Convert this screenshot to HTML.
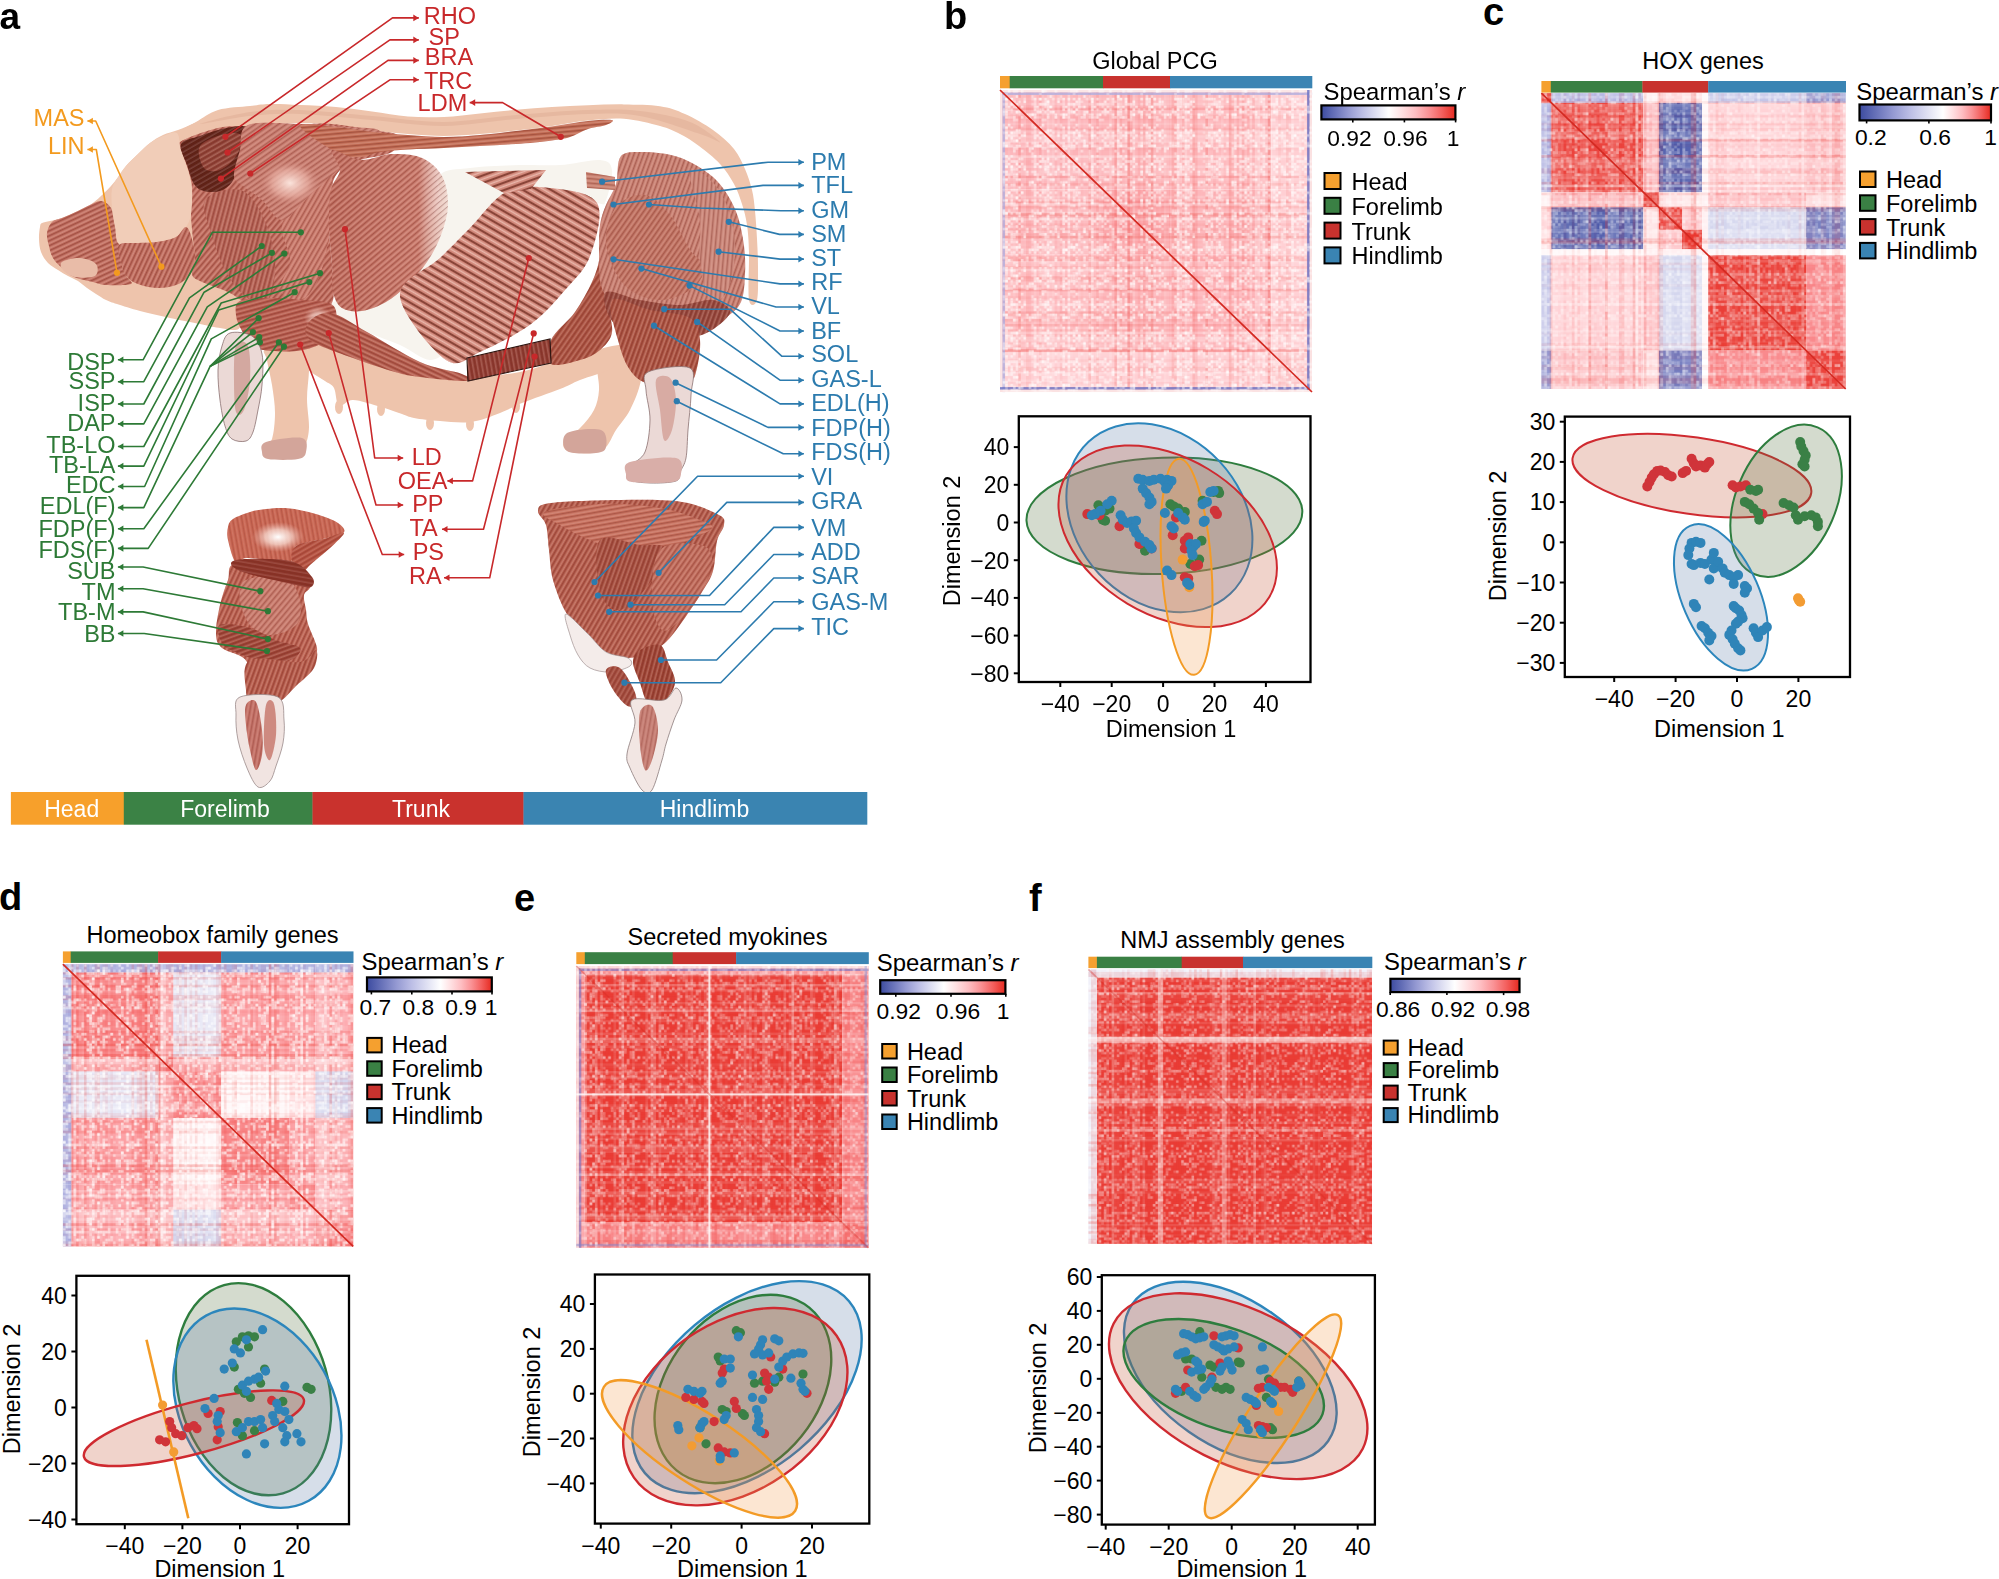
<!DOCTYPE html><html><head><meta charset="utf-8"><title>Figure</title><style>html,body{margin:0;padding:0;background:#fff;}body{width:1999px;height:1579px;overflow:hidden;}svg{display:block;font-family:"Liberation Sans",Arial,Helvetica,sans-serif;}</style></head><body>
<svg xmlns="http://www.w3.org/2000/svg" width="1999" height="1579" viewBox="0 0 1999 1579">
<defs><linearGradient id="cbar" x1="0" x2="1" y1="0" y2="0"><stop offset="0.000" stop-color="#3c4ba0"/><stop offset="0.101" stop-color="#6872b9"/><stop offset="0.201" stop-color="#9499d2"/><stop offset="0.302" stop-color="#bbbde5"/><stop offset="0.402" stop-color="#dddef2"/><stop offset="0.503" stop-color="#ffffff"/><stop offset="0.602" stop-color="#ffe0e2"/><stop offset="0.702" stop-color="#febec2"/><stop offset="0.801" stop-color="#fa9295"/><stop offset="0.901" stop-color="#f35f5d"/><stop offset="1.000" stop-color="#e62a20"/></linearGradient><linearGradient id="cbarc" x1="0" x2="1" y1="0" y2="0"><stop offset="0.000" stop-color="#3c4ba0"/><stop offset="0.127" stop-color="#6872b9"/><stop offset="0.254" stop-color="#9499d2"/><stop offset="0.381" stop-color="#bbbde5"/><stop offset="0.508" stop-color="#dddef2"/><stop offset="0.635" stop-color="#ffffff"/><stop offset="0.708" stop-color="#ffe0e2"/><stop offset="0.781" stop-color="#febec2"/><stop offset="0.854" stop-color="#fa9295"/><stop offset="0.927" stop-color="#f35f5d"/><stop offset="1.000" stop-color="#e62a20"/></linearGradient><linearGradient id="cbard" x1="0" x2="1" y1="0" y2="0"><stop offset="0.000" stop-color="#3c4ba0"/><stop offset="0.118" stop-color="#6872b9"/><stop offset="0.236" stop-color="#9499d2"/><stop offset="0.354" stop-color="#bbbde5"/><stop offset="0.472" stop-color="#dddef2"/><stop offset="0.590" stop-color="#ffffff"/><stop offset="0.672" stop-color="#ffe0e2"/><stop offset="0.754" stop-color="#febec2"/><stop offset="0.836" stop-color="#fa9295"/><stop offset="0.918" stop-color="#f35f5d"/><stop offset="1.000" stop-color="#e62a20"/></linearGradient><linearGradient id="cbare" x1="0" x2="1" y1="0" y2="0"><stop offset="0.000" stop-color="#3c4ba0"/><stop offset="0.102" stop-color="#6872b9"/><stop offset="0.203" stop-color="#9499d2"/><stop offset="0.305" stop-color="#bbbde5"/><stop offset="0.406" stop-color="#dddef2"/><stop offset="0.508" stop-color="#ffffff"/><stop offset="0.606" stop-color="#ffe0e2"/><stop offset="0.705" stop-color="#febec2"/><stop offset="0.803" stop-color="#fa9295"/><stop offset="0.902" stop-color="#f35f5d"/><stop offset="1.000" stop-color="#e62a20"/></linearGradient><linearGradient id="cbarf" x1="0" x2="1" y1="0" y2="0"><stop offset="0.000" stop-color="#3c4ba0"/><stop offset="0.100" stop-color="#6872b9"/><stop offset="0.199" stop-color="#9499d2"/><stop offset="0.299" stop-color="#bbbde5"/><stop offset="0.398" stop-color="#dddef2"/><stop offset="0.498" stop-color="#ffffff"/><stop offset="0.598" stop-color="#ffe0e2"/><stop offset="0.699" stop-color="#febec2"/><stop offset="0.799" stop-color="#fa9295"/><stop offset="0.900" stop-color="#f35f5d"/><stop offset="1.000" stop-color="#e62a20"/></linearGradient><filter id="spk" x="0" y="0" width="100%" height="100%" color-interpolation-filters="sRGB"><feTurbulence type="fractalNoise" baseFrequency="0.42" numOctaves="1" seed="11" result="n"/><feColorMatrix in="n" type="matrix" values="0 0 0 0 1  0 0 0 0 1  0 0 0 0 1  4.5 0 0 0 -2.3"/></filter><pattern id="f10" width="4.5" height="4.5" patternUnits="userSpaceOnUse" patternTransform="rotate(-90)"><rect x="0" y="0" width="4.5" height="1.1" fill="#6e231a" opacity="0.6"/><rect x="0" y="2.3" width="4.5" height="1.0" fill="#f6cabf" opacity="0.75"/></pattern>
<pattern id="g10" width="7" height="7" patternUnits="userSpaceOnUse" patternTransform="rotate(-90)"><rect x="0" y="0" width="7" height="2.0" fill="#5a1810" opacity="0.75"/><rect x="0" y="3.6" width="7" height="1.6" fill="#f8d2c8" opacity="0.8"/></pattern>
<pattern id="f15" width="4.5" height="4.5" patternUnits="userSpaceOnUse" patternTransform="rotate(-85)"><rect x="0" y="0" width="4.5" height="1.1" fill="#6e231a" opacity="0.6"/><rect x="0" y="2.3" width="4.5" height="1.0" fill="#f6cabf" opacity="0.75"/></pattern>
<pattern id="g15" width="7" height="7" patternUnits="userSpaceOnUse" patternTransform="rotate(-85)"><rect x="0" y="0" width="7" height="2.0" fill="#5a1810" opacity="0.75"/><rect x="0" y="3.6" width="7" height="1.6" fill="#f8d2c8" opacity="0.8"/></pattern>
<pattern id="f20" width="4.5" height="4.5" patternUnits="userSpaceOnUse" patternTransform="rotate(-80)"><rect x="0" y="0" width="4.5" height="1.1" fill="#6e231a" opacity="0.6"/><rect x="0" y="2.3" width="4.5" height="1.0" fill="#f6cabf" opacity="0.75"/></pattern>
<pattern id="g20" width="7" height="7" patternUnits="userSpaceOnUse" patternTransform="rotate(-80)"><rect x="0" y="0" width="7" height="2.0" fill="#5a1810" opacity="0.75"/><rect x="0" y="3.6" width="7" height="1.6" fill="#f8d2c8" opacity="0.8"/></pattern>
<pattern id="f25" width="4.5" height="4.5" patternUnits="userSpaceOnUse" patternTransform="rotate(-75)"><rect x="0" y="0" width="4.5" height="1.1" fill="#6e231a" opacity="0.6"/><rect x="0" y="2.3" width="4.5" height="1.0" fill="#f6cabf" opacity="0.75"/></pattern>
<pattern id="g25" width="7" height="7" patternUnits="userSpaceOnUse" patternTransform="rotate(-75)"><rect x="0" y="0" width="7" height="2.0" fill="#5a1810" opacity="0.75"/><rect x="0" y="3.6" width="7" height="1.6" fill="#f8d2c8" opacity="0.8"/></pattern>
<pattern id="f30" width="4.5" height="4.5" patternUnits="userSpaceOnUse" patternTransform="rotate(-70)"><rect x="0" y="0" width="4.5" height="1.1" fill="#6e231a" opacity="0.6"/><rect x="0" y="2.3" width="4.5" height="1.0" fill="#f6cabf" opacity="0.75"/></pattern>
<pattern id="g30" width="7" height="7" patternUnits="userSpaceOnUse" patternTransform="rotate(-70)"><rect x="0" y="0" width="7" height="2.0" fill="#5a1810" opacity="0.75"/><rect x="0" y="3.6" width="7" height="1.6" fill="#f8d2c8" opacity="0.8"/></pattern>
<pattern id="f35" width="4.5" height="4.5" patternUnits="userSpaceOnUse" patternTransform="rotate(-65)"><rect x="0" y="0" width="4.5" height="1.1" fill="#6e231a" opacity="0.6"/><rect x="0" y="2.3" width="4.5" height="1.0" fill="#f6cabf" opacity="0.75"/></pattern>
<pattern id="g35" width="7" height="7" patternUnits="userSpaceOnUse" patternTransform="rotate(-65)"><rect x="0" y="0" width="7" height="2.0" fill="#5a1810" opacity="0.75"/><rect x="0" y="3.6" width="7" height="1.6" fill="#f8d2c8" opacity="0.8"/></pattern>
<pattern id="f40" width="4.5" height="4.5" patternUnits="userSpaceOnUse" patternTransform="rotate(-60)"><rect x="0" y="0" width="4.5" height="1.1" fill="#6e231a" opacity="0.6"/><rect x="0" y="2.3" width="4.5" height="1.0" fill="#f6cabf" opacity="0.75"/></pattern>
<pattern id="g40" width="7" height="7" patternUnits="userSpaceOnUse" patternTransform="rotate(-60)"><rect x="0" y="0" width="7" height="2.0" fill="#5a1810" opacity="0.75"/><rect x="0" y="3.6" width="7" height="1.6" fill="#f8d2c8" opacity="0.8"/></pattern>
<pattern id="f45" width="4.5" height="4.5" patternUnits="userSpaceOnUse" patternTransform="rotate(-55)"><rect x="0" y="0" width="4.5" height="1.1" fill="#6e231a" opacity="0.6"/><rect x="0" y="2.3" width="4.5" height="1.0" fill="#f6cabf" opacity="0.75"/></pattern>
<pattern id="g45" width="7" height="7" patternUnits="userSpaceOnUse" patternTransform="rotate(-55)"><rect x="0" y="0" width="7" height="2.0" fill="#5a1810" opacity="0.75"/><rect x="0" y="3.6" width="7" height="1.6" fill="#f8d2c8" opacity="0.8"/></pattern>
<pattern id="f50" width="4.5" height="4.5" patternUnits="userSpaceOnUse" patternTransform="rotate(-50)"><rect x="0" y="0" width="4.5" height="1.1" fill="#6e231a" opacity="0.6"/><rect x="0" y="2.3" width="4.5" height="1.0" fill="#f6cabf" opacity="0.75"/></pattern>
<pattern id="g50" width="7" height="7" patternUnits="userSpaceOnUse" patternTransform="rotate(-50)"><rect x="0" y="0" width="7" height="2.0" fill="#5a1810" opacity="0.75"/><rect x="0" y="3.6" width="7" height="1.6" fill="#f8d2c8" opacity="0.8"/></pattern>
<pattern id="f55" width="4.5" height="4.5" patternUnits="userSpaceOnUse" patternTransform="rotate(-45)"><rect x="0" y="0" width="4.5" height="1.1" fill="#6e231a" opacity="0.6"/><rect x="0" y="2.3" width="4.5" height="1.0" fill="#f6cabf" opacity="0.75"/></pattern>
<pattern id="g55" width="7" height="7" patternUnits="userSpaceOnUse" patternTransform="rotate(-45)"><rect x="0" y="0" width="7" height="2.0" fill="#5a1810" opacity="0.75"/><rect x="0" y="3.6" width="7" height="1.6" fill="#f8d2c8" opacity="0.8"/></pattern>
<pattern id="f60" width="4.5" height="4.5" patternUnits="userSpaceOnUse" patternTransform="rotate(-40)"><rect x="0" y="0" width="4.5" height="1.1" fill="#6e231a" opacity="0.6"/><rect x="0" y="2.3" width="4.5" height="1.0" fill="#f6cabf" opacity="0.75"/></pattern>
<pattern id="g60" width="7" height="7" patternUnits="userSpaceOnUse" patternTransform="rotate(-40)"><rect x="0" y="0" width="7" height="2.0" fill="#5a1810" opacity="0.75"/><rect x="0" y="3.6" width="7" height="1.6" fill="#f8d2c8" opacity="0.8"/></pattern>
<pattern id="f65" width="4.5" height="4.5" patternUnits="userSpaceOnUse" patternTransform="rotate(-35)"><rect x="0" y="0" width="4.5" height="1.1" fill="#6e231a" opacity="0.6"/><rect x="0" y="2.3" width="4.5" height="1.0" fill="#f6cabf" opacity="0.75"/></pattern>
<pattern id="g65" width="7" height="7" patternUnits="userSpaceOnUse" patternTransform="rotate(-35)"><rect x="0" y="0" width="7" height="2.0" fill="#5a1810" opacity="0.75"/><rect x="0" y="3.6" width="7" height="1.6" fill="#f8d2c8" opacity="0.8"/></pattern>
<pattern id="f70" width="4.5" height="4.5" patternUnits="userSpaceOnUse" patternTransform="rotate(-30)"><rect x="0" y="0" width="4.5" height="1.1" fill="#6e231a" opacity="0.6"/><rect x="0" y="2.3" width="4.5" height="1.0" fill="#f6cabf" opacity="0.75"/></pattern>
<pattern id="g70" width="7" height="7" patternUnits="userSpaceOnUse" patternTransform="rotate(-30)"><rect x="0" y="0" width="7" height="2.0" fill="#5a1810" opacity="0.75"/><rect x="0" y="3.6" width="7" height="1.6" fill="#f8d2c8" opacity="0.8"/></pattern>
<pattern id="f75" width="4.5" height="4.5" patternUnits="userSpaceOnUse" patternTransform="rotate(-25)"><rect x="0" y="0" width="4.5" height="1.1" fill="#6e231a" opacity="0.6"/><rect x="0" y="2.3" width="4.5" height="1.0" fill="#f6cabf" opacity="0.75"/></pattern>
<pattern id="g75" width="7" height="7" patternUnits="userSpaceOnUse" patternTransform="rotate(-25)"><rect x="0" y="0" width="7" height="2.0" fill="#5a1810" opacity="0.75"/><rect x="0" y="3.6" width="7" height="1.6" fill="#f8d2c8" opacity="0.8"/></pattern>
<pattern id="f80" width="4.5" height="4.5" patternUnits="userSpaceOnUse" patternTransform="rotate(-20)"><rect x="0" y="0" width="4.5" height="1.1" fill="#6e231a" opacity="0.6"/><rect x="0" y="2.3" width="4.5" height="1.0" fill="#f6cabf" opacity="0.75"/></pattern>
<pattern id="g80" width="7" height="7" patternUnits="userSpaceOnUse" patternTransform="rotate(-20)"><rect x="0" y="0" width="7" height="2.0" fill="#5a1810" opacity="0.75"/><rect x="0" y="3.6" width="7" height="1.6" fill="#f8d2c8" opacity="0.8"/></pattern>
<pattern id="f85" width="4.5" height="4.5" patternUnits="userSpaceOnUse" patternTransform="rotate(-15)"><rect x="0" y="0" width="4.5" height="1.1" fill="#6e231a" opacity="0.6"/><rect x="0" y="2.3" width="4.5" height="1.0" fill="#f6cabf" opacity="0.75"/></pattern>
<pattern id="g85" width="7" height="7" patternUnits="userSpaceOnUse" patternTransform="rotate(-15)"><rect x="0" y="0" width="7" height="2.0" fill="#5a1810" opacity="0.75"/><rect x="0" y="3.6" width="7" height="1.6" fill="#f8d2c8" opacity="0.8"/></pattern>
<pattern id="f90" width="4.5" height="4.5" patternUnits="userSpaceOnUse" patternTransform="rotate(-10)"><rect x="0" y="0" width="4.5" height="1.1" fill="#6e231a" opacity="0.6"/><rect x="0" y="2.3" width="4.5" height="1.0" fill="#f6cabf" opacity="0.75"/></pattern>
<pattern id="g90" width="7" height="7" patternUnits="userSpaceOnUse" patternTransform="rotate(-10)"><rect x="0" y="0" width="7" height="2.0" fill="#5a1810" opacity="0.75"/><rect x="0" y="3.6" width="7" height="1.6" fill="#f8d2c8" opacity="0.8"/></pattern>
<pattern id="f95" width="4.5" height="4.5" patternUnits="userSpaceOnUse" patternTransform="rotate(-5)"><rect x="0" y="0" width="4.5" height="1.1" fill="#6e231a" opacity="0.6"/><rect x="0" y="2.3" width="4.5" height="1.0" fill="#f6cabf" opacity="0.75"/></pattern>
<pattern id="g95" width="7" height="7" patternUnits="userSpaceOnUse" patternTransform="rotate(-5)"><rect x="0" y="0" width="7" height="2.0" fill="#5a1810" opacity="0.75"/><rect x="0" y="3.6" width="7" height="1.6" fill="#f8d2c8" opacity="0.8"/></pattern>
<pattern id="f100" width="4.5" height="4.5" patternUnits="userSpaceOnUse" patternTransform="rotate(0)"><rect x="0" y="0" width="4.5" height="1.1" fill="#6e231a" opacity="0.6"/><rect x="0" y="2.3" width="4.5" height="1.0" fill="#f6cabf" opacity="0.75"/></pattern>
<pattern id="g100" width="7" height="7" patternUnits="userSpaceOnUse" patternTransform="rotate(0)"><rect x="0" y="0" width="7" height="2.0" fill="#5a1810" opacity="0.75"/><rect x="0" y="3.6" width="7" height="1.6" fill="#f8d2c8" opacity="0.8"/></pattern>
<pattern id="f105" width="4.5" height="4.5" patternUnits="userSpaceOnUse" patternTransform="rotate(5)"><rect x="0" y="0" width="4.5" height="1.1" fill="#6e231a" opacity="0.6"/><rect x="0" y="2.3" width="4.5" height="1.0" fill="#f6cabf" opacity="0.75"/></pattern>
<pattern id="g105" width="7" height="7" patternUnits="userSpaceOnUse" patternTransform="rotate(5)"><rect x="0" y="0" width="7" height="2.0" fill="#5a1810" opacity="0.75"/><rect x="0" y="3.6" width="7" height="1.6" fill="#f8d2c8" opacity="0.8"/></pattern>
<pattern id="f110" width="4.5" height="4.5" patternUnits="userSpaceOnUse" patternTransform="rotate(10)"><rect x="0" y="0" width="4.5" height="1.1" fill="#6e231a" opacity="0.6"/><rect x="0" y="2.3" width="4.5" height="1.0" fill="#f6cabf" opacity="0.75"/></pattern>
<pattern id="g110" width="7" height="7" patternUnits="userSpaceOnUse" patternTransform="rotate(10)"><rect x="0" y="0" width="7" height="2.0" fill="#5a1810" opacity="0.75"/><rect x="0" y="3.6" width="7" height="1.6" fill="#f8d2c8" opacity="0.8"/></pattern>
<pattern id="f115" width="4.5" height="4.5" patternUnits="userSpaceOnUse" patternTransform="rotate(15)"><rect x="0" y="0" width="4.5" height="1.1" fill="#6e231a" opacity="0.6"/><rect x="0" y="2.3" width="4.5" height="1.0" fill="#f6cabf" opacity="0.75"/></pattern>
<pattern id="g115" width="7" height="7" patternUnits="userSpaceOnUse" patternTransform="rotate(15)"><rect x="0" y="0" width="7" height="2.0" fill="#5a1810" opacity="0.75"/><rect x="0" y="3.6" width="7" height="1.6" fill="#f8d2c8" opacity="0.8"/></pattern>
<pattern id="f120" width="4.5" height="4.5" patternUnits="userSpaceOnUse" patternTransform="rotate(20)"><rect x="0" y="0" width="4.5" height="1.1" fill="#6e231a" opacity="0.6"/><rect x="0" y="2.3" width="4.5" height="1.0" fill="#f6cabf" opacity="0.75"/></pattern>
<pattern id="g120" width="7" height="7" patternUnits="userSpaceOnUse" patternTransform="rotate(20)"><rect x="0" y="0" width="7" height="2.0" fill="#5a1810" opacity="0.75"/><rect x="0" y="3.6" width="7" height="1.6" fill="#f8d2c8" opacity="0.8"/></pattern>
<pattern id="f125" width="4.5" height="4.5" patternUnits="userSpaceOnUse" patternTransform="rotate(25)"><rect x="0" y="0" width="4.5" height="1.1" fill="#6e231a" opacity="0.6"/><rect x="0" y="2.3" width="4.5" height="1.0" fill="#f6cabf" opacity="0.75"/></pattern>
<pattern id="g125" width="7" height="7" patternUnits="userSpaceOnUse" patternTransform="rotate(25)"><rect x="0" y="0" width="7" height="2.0" fill="#5a1810" opacity="0.75"/><rect x="0" y="3.6" width="7" height="1.6" fill="#f8d2c8" opacity="0.8"/></pattern>
<pattern id="f130" width="4.5" height="4.5" patternUnits="userSpaceOnUse" patternTransform="rotate(30)"><rect x="0" y="0" width="4.5" height="1.1" fill="#6e231a" opacity="0.6"/><rect x="0" y="2.3" width="4.5" height="1.0" fill="#f6cabf" opacity="0.75"/></pattern>
<pattern id="g130" width="7" height="7" patternUnits="userSpaceOnUse" patternTransform="rotate(30)"><rect x="0" y="0" width="7" height="2.0" fill="#5a1810" opacity="0.75"/><rect x="0" y="3.6" width="7" height="1.6" fill="#f8d2c8" opacity="0.8"/></pattern>
<pattern id="f135" width="4.5" height="4.5" patternUnits="userSpaceOnUse" patternTransform="rotate(35)"><rect x="0" y="0" width="4.5" height="1.1" fill="#6e231a" opacity="0.6"/><rect x="0" y="2.3" width="4.5" height="1.0" fill="#f6cabf" opacity="0.75"/></pattern>
<pattern id="g135" width="7" height="7" patternUnits="userSpaceOnUse" patternTransform="rotate(35)"><rect x="0" y="0" width="7" height="2.0" fill="#5a1810" opacity="0.75"/><rect x="0" y="3.6" width="7" height="1.6" fill="#f8d2c8" opacity="0.8"/></pattern>
<pattern id="f140" width="4.5" height="4.5" patternUnits="userSpaceOnUse" patternTransform="rotate(40)"><rect x="0" y="0" width="4.5" height="1.1" fill="#6e231a" opacity="0.6"/><rect x="0" y="2.3" width="4.5" height="1.0" fill="#f6cabf" opacity="0.75"/></pattern>
<pattern id="g140" width="7" height="7" patternUnits="userSpaceOnUse" patternTransform="rotate(40)"><rect x="0" y="0" width="7" height="2.0" fill="#5a1810" opacity="0.75"/><rect x="0" y="3.6" width="7" height="1.6" fill="#f8d2c8" opacity="0.8"/></pattern>
<pattern id="f145" width="4.5" height="4.5" patternUnits="userSpaceOnUse" patternTransform="rotate(45)"><rect x="0" y="0" width="4.5" height="1.1" fill="#6e231a" opacity="0.6"/><rect x="0" y="2.3" width="4.5" height="1.0" fill="#f6cabf" opacity="0.75"/></pattern>
<pattern id="g145" width="7" height="7" patternUnits="userSpaceOnUse" patternTransform="rotate(45)"><rect x="0" y="0" width="7" height="2.0" fill="#5a1810" opacity="0.75"/><rect x="0" y="3.6" width="7" height="1.6" fill="#f8d2c8" opacity="0.8"/></pattern>
<pattern id="f150" width="4.5" height="4.5" patternUnits="userSpaceOnUse" patternTransform="rotate(50)"><rect x="0" y="0" width="4.5" height="1.1" fill="#6e231a" opacity="0.6"/><rect x="0" y="2.3" width="4.5" height="1.0" fill="#f6cabf" opacity="0.75"/></pattern>
<pattern id="g150" width="7" height="7" patternUnits="userSpaceOnUse" patternTransform="rotate(50)"><rect x="0" y="0" width="7" height="2.0" fill="#5a1810" opacity="0.75"/><rect x="0" y="3.6" width="7" height="1.6" fill="#f8d2c8" opacity="0.8"/></pattern>
<pattern id="f155" width="4.5" height="4.5" patternUnits="userSpaceOnUse" patternTransform="rotate(55)"><rect x="0" y="0" width="4.5" height="1.1" fill="#6e231a" opacity="0.6"/><rect x="0" y="2.3" width="4.5" height="1.0" fill="#f6cabf" opacity="0.75"/></pattern>
<pattern id="g155" width="7" height="7" patternUnits="userSpaceOnUse" patternTransform="rotate(55)"><rect x="0" y="0" width="7" height="2.0" fill="#5a1810" opacity="0.75"/><rect x="0" y="3.6" width="7" height="1.6" fill="#f8d2c8" opacity="0.8"/></pattern>
<pattern id="f160" width="4.5" height="4.5" patternUnits="userSpaceOnUse" patternTransform="rotate(60)"><rect x="0" y="0" width="4.5" height="1.1" fill="#6e231a" opacity="0.6"/><rect x="0" y="2.3" width="4.5" height="1.0" fill="#f6cabf" opacity="0.75"/></pattern>
<pattern id="g160" width="7" height="7" patternUnits="userSpaceOnUse" patternTransform="rotate(60)"><rect x="0" y="0" width="7" height="2.0" fill="#5a1810" opacity="0.75"/><rect x="0" y="3.6" width="7" height="1.6" fill="#f8d2c8" opacity="0.8"/></pattern>
<pattern id="f165" width="4.5" height="4.5" patternUnits="userSpaceOnUse" patternTransform="rotate(65)"><rect x="0" y="0" width="4.5" height="1.1" fill="#6e231a" opacity="0.6"/><rect x="0" y="2.3" width="4.5" height="1.0" fill="#f6cabf" opacity="0.75"/></pattern>
<pattern id="g165" width="7" height="7" patternUnits="userSpaceOnUse" patternTransform="rotate(65)"><rect x="0" y="0" width="7" height="2.0" fill="#5a1810" opacity="0.75"/><rect x="0" y="3.6" width="7" height="1.6" fill="#f8d2c8" opacity="0.8"/></pattern>
<pattern id="f170" width="4.5" height="4.5" patternUnits="userSpaceOnUse" patternTransform="rotate(70)"><rect x="0" y="0" width="4.5" height="1.1" fill="#6e231a" opacity="0.6"/><rect x="0" y="2.3" width="4.5" height="1.0" fill="#f6cabf" opacity="0.75"/></pattern>
<pattern id="g170" width="7" height="7" patternUnits="userSpaceOnUse" patternTransform="rotate(70)"><rect x="0" y="0" width="7" height="2.0" fill="#5a1810" opacity="0.75"/><rect x="0" y="3.6" width="7" height="1.6" fill="#f8d2c8" opacity="0.8"/></pattern>
<pattern id="f175" width="4.5" height="4.5" patternUnits="userSpaceOnUse" patternTransform="rotate(75)"><rect x="0" y="0" width="4.5" height="1.1" fill="#6e231a" opacity="0.6"/><rect x="0" y="2.3" width="4.5" height="1.0" fill="#f6cabf" opacity="0.75"/></pattern>
<pattern id="g175" width="7" height="7" patternUnits="userSpaceOnUse" patternTransform="rotate(75)"><rect x="0" y="0" width="7" height="2.0" fill="#5a1810" opacity="0.75"/><rect x="0" y="3.6" width="7" height="1.6" fill="#f8d2c8" opacity="0.8"/></pattern>
<pattern id="f180" width="4.5" height="4.5" patternUnits="userSpaceOnUse" patternTransform="rotate(80)"><rect x="0" y="0" width="4.5" height="1.1" fill="#6e231a" opacity="0.6"/><rect x="0" y="2.3" width="4.5" height="1.0" fill="#f6cabf" opacity="0.75"/></pattern>
<pattern id="g180" width="7" height="7" patternUnits="userSpaceOnUse" patternTransform="rotate(80)"><rect x="0" y="0" width="7" height="2.0" fill="#5a1810" opacity="0.75"/><rect x="0" y="3.6" width="7" height="1.6" fill="#f8d2c8" opacity="0.8"/></pattern>
<pattern id="f185" width="4.5" height="4.5" patternUnits="userSpaceOnUse" patternTransform="rotate(85)"><rect x="0" y="0" width="4.5" height="1.1" fill="#6e231a" opacity="0.6"/><rect x="0" y="2.3" width="4.5" height="1.0" fill="#f6cabf" opacity="0.75"/></pattern>
<pattern id="g185" width="7" height="7" patternUnits="userSpaceOnUse" patternTransform="rotate(85)"><rect x="0" y="0" width="7" height="2.0" fill="#5a1810" opacity="0.75"/><rect x="0" y="3.6" width="7" height="1.6" fill="#f8d2c8" opacity="0.8"/></pattern>
<pattern id="f190" width="4.5" height="4.5" patternUnits="userSpaceOnUse" patternTransform="rotate(90)"><rect x="0" y="0" width="4.5" height="1.1" fill="#6e231a" opacity="0.6"/><rect x="0" y="2.3" width="4.5" height="1.0" fill="#f6cabf" opacity="0.75"/></pattern>
<pattern id="g190" width="7" height="7" patternUnits="userSpaceOnUse" patternTransform="rotate(90)"><rect x="0" y="0" width="7" height="2.0" fill="#5a1810" opacity="0.75"/><rect x="0" y="3.6" width="7" height="1.6" fill="#f8d2c8" opacity="0.8"/></pattern>
<filter id="soft" x="-5%" y="-5%" width="110%" height="110%"><feGaussianBlur stdDeviation="0.6"/></filter>
<filter id="glow" x="-30%" y="-30%" width="160%" height="160%"><feGaussianBlur stdDeviation="4"/></filter>
<radialGradient id="fanw" cx="0.5" cy="0.5" r="0.5"><stop offset="0" stop-color="#ffffff"/><stop offset="0.5" stop-color="#f6d6cc" stop-opacity="0.8"/><stop offset="1" stop-color="#e8b0a4" stop-opacity="0"/></radialGradient>
<radialGradient id="fanp" cx="0.5" cy="0.5" r="0.5"><stop offset="0" stop-color="#fbe4dc"/><stop offset="0.6" stop-color="#eab2a6" stop-opacity="0.7"/><stop offset="1" stop-color="#d08a7e" stop-opacity="0"/></radialGradient>
<linearGradient id="ldfade" x1="0" x2="1" y1="0" y2="0"><stop offset="0" stop-color="#BE6A5C" stop-opacity="1"/><stop offset="0.75" stop-color="#C8786A" stop-opacity="1"/><stop offset="1" stop-color="#E9B8AE" stop-opacity="0.3"/></linearGradient></defs>
<rect x="0" y="0" width="1999" height="1579" fill="#fff"/>
<g filter="url(#soft)">
<path d="M267.0,349.0 C274.0,347.2 302.0,345.3 309.0,349.0 C316.0,352.7 309.3,362.7 309.0,371.0 C308.7,379.3 307.0,389.7 307.0,399.0 C307.0,408.3 309.2,419.5 309.0,427.0 C308.8,434.5 307.5,439.2 306.0,444.0 C304.5,448.8 303.7,453.5 300.0,456.0 C296.3,458.5 289.7,458.8 284.0,459.0 C278.3,459.2 269.3,459.0 266.0,457.0 C262.7,455.0 263.0,450.0 264.0,447.0 C265.0,444.0 270.2,444.7 272.0,439.0 C273.8,433.3 275.0,422.0 275.0,413.0 C275.0,404.0 273.3,393.8 272.0,385.0 C270.7,376.2 267.8,366.0 267.0,360.0 C266.2,354.0 260.0,350.8 267.0,349.0Z" fill="#EEC4AC"/>
<path d="M266.0,442.0 C272.7,439.7 295.3,436.3 302.0,438.0 C308.7,439.7 306.7,448.5 306.0,452.0 C305.3,455.5 304.3,457.8 298.0,459.0 C291.7,460.2 274.0,460.2 268.0,459.0 C262.0,457.8 262.3,454.8 262.0,452.0 C261.7,449.2 259.3,444.3 266.0,442.0Z" fill="#D3A59A"/>
<path d="M598.0,350.0 C605.5,346.3 634.8,341.0 642.0,346.0 C649.2,351.0 643.0,369.3 641.0,380.0 C639.0,390.7 634.2,401.7 630.0,410.0 C625.8,418.3 620.0,423.8 616.0,430.0 C612.0,436.2 610.0,443.2 606.0,447.0 C602.0,450.8 598.3,452.3 592.0,453.0 C585.7,453.7 572.7,453.0 568.0,451.0 C563.3,449.0 562.0,444.8 564.0,441.0 C566.0,437.2 575.0,433.2 580.0,428.0 C585.0,422.8 590.8,416.3 594.0,410.0 C597.2,403.7 598.5,397.0 599.0,390.0 C599.5,383.0 597.2,374.7 597.0,368.0 C596.8,361.3 590.5,353.7 598.0,350.0Z" fill="#EEC4AC"/>
<path d="M567.0,433.0 C572.7,429.5 594.5,427.7 601.0,430.0 C607.5,432.3 606.8,443.2 606.0,447.0 C605.2,450.8 602.5,452.3 596.0,453.0 C589.5,453.7 571.8,454.3 567.0,451.0 C562.2,447.7 561.3,436.5 567.0,433.0Z" fill="#D3A59A"/>
<path d="M290.0,334.0 C295.0,331.3 315.0,340.0 330.0,344.0 C345.0,348.0 365.0,354.0 380.0,358.0 C395.0,362.0 405.0,365.0 420.0,368.0 C435.0,371.0 453.3,375.3 470.0,376.0 C486.7,376.7 505.0,374.7 520.0,372.0 C535.0,369.3 546.7,363.7 560.0,360.0 C573.3,356.3 589.2,351.3 600.0,350.0 C610.8,348.7 623.0,349.0 625.0,352.0 C627.0,355.0 619.5,363.3 612.0,368.0 C604.5,372.7 588.7,376.5 580.0,380.0 C571.3,383.5 569.7,385.2 560.0,389.0 C550.3,392.8 532.0,399.0 522.0,403.0 C512.0,407.0 508.5,409.8 500.0,413.0 C491.5,416.2 481.0,420.7 471.0,422.0 C461.0,423.3 449.5,421.7 440.0,421.0 C430.5,420.3 420.3,419.2 414.0,418.0 C407.7,416.8 407.5,415.8 402.0,414.0 C396.5,412.2 389.2,409.3 381.0,407.0 C372.8,404.7 360.0,400.2 353.0,400.0 C346.0,399.8 342.2,408.0 339.0,406.0 C335.8,404.0 336.3,392.2 334.0,388.0 C331.7,383.8 328.8,383.7 325.0,381.0 C321.2,378.3 315.2,375.5 311.0,372.0 C306.8,368.5 303.5,366.3 300.0,360.0 C296.5,353.7 285.0,336.7 290.0,334.0Z" fill="#EEC4AC"/>
<ellipse cx="339" cy="407" rx="4" ry="7" fill="#EEC4AC"/>
<ellipse cx="381" cy="409" rx="4" ry="7" fill="#EEC4AC"/>
<ellipse cx="430" cy="423" rx="4" ry="7" fill="#EEC4AC"/>
<ellipse cx="470" cy="424" rx="4" ry="7" fill="#EEC4AC"/>
<ellipse cx="516" cy="406" rx="4" ry="7" fill="#EEC4AC"/>
<path d="M42.0,223.0 C43.7,222.0 46.7,221.8 50.0,221.0 C53.3,220.2 57.3,219.7 62.0,218.0 C66.7,216.3 73.3,213.2 78.0,211.0 C82.7,208.8 86.2,207.5 90.0,205.0 C93.8,202.5 97.5,199.2 101.0,196.0 C104.5,192.8 108.0,189.3 111.0,186.0 C114.0,182.7 116.5,179.3 119.0,176.0 C121.5,172.7 122.8,169.7 126.0,166.0 C129.2,162.3 134.0,157.8 138.0,154.0 C142.0,150.2 145.8,146.2 150.0,143.0 C154.2,139.8 158.3,137.2 163.0,135.0 C167.7,132.8 172.7,132.0 178.0,130.0 C183.3,128.0 189.0,125.5 195.0,123.0 C201.0,120.5 208.2,117.0 214.0,115.0 C219.8,113.0 224.0,112.2 230.0,111.0 C236.0,109.8 244.7,108.7 250.0,108.0 C255.3,107.3 259.0,105.8 262.0,107.0 C265.0,108.2 267.0,99.5 268.0,115.0 C269.0,130.5 268.0,170.8 268.0,200.0 C268.0,229.2 269.0,272.5 268.0,290.0 C267.0,307.5 264.5,301.3 262.0,305.0 C259.5,308.7 256.3,308.7 253.0,312.0 C249.7,315.3 245.0,322.0 242.0,325.0 C239.0,328.0 239.7,329.7 235.0,330.0 C230.3,330.3 219.8,328.0 214.0,327.0 C208.2,326.0 207.3,325.5 200.0,324.0 C192.7,322.5 180.0,320.2 170.0,318.0 C160.0,315.8 148.8,313.3 140.0,311.0 C131.2,308.7 122.7,305.8 117.0,304.0 C111.3,302.2 109.5,301.7 106.0,300.0 C102.5,298.3 99.2,296.0 96.0,294.0 C92.8,292.0 90.0,290.2 87.0,288.0 C84.0,285.8 81.2,283.0 78.0,281.0 C74.8,279.0 71.3,277.8 68.0,276.0 C64.7,274.2 61.3,272.2 58.0,270.0 C54.7,267.8 50.8,266.0 48.0,263.0 C45.2,260.0 42.5,256.0 41.0,252.0 C39.5,248.0 39.2,243.2 39.0,239.0 C38.8,234.8 39.5,229.7 40.0,227.0 C40.5,224.3 40.3,224.0 42.0,223.0Z" fill="#EEC4AC"/>
<path d="M176.0,134.0 C177.0,131.0 189.0,126.0 196.0,122.0 C203.0,118.0 209.0,112.7 218.0,110.0 C227.0,107.3 241.3,107.0 250.0,106.0 C258.7,105.0 261.7,104.2 270.0,104.0 C278.3,103.8 289.0,104.5 300.0,105.0 C311.0,105.5 324.0,105.9 336.0,107.0 C348.0,108.1 360.0,110.0 372.0,111.6 C384.0,113.2 396.0,115.7 408.0,116.6 C420.0,117.5 432.0,117.5 444.0,117.0 C456.0,116.5 468.0,114.6 480.0,113.4 C492.0,112.2 504.0,110.9 516.0,109.8 C528.0,108.7 540.0,107.8 552.0,107.0 C564.0,106.2 576.0,105.7 588.0,105.3 C600.0,104.9 612.0,104.2 624.0,104.4 C636.0,104.6 649.8,104.6 660.0,106.2 C670.2,107.8 676.2,110.0 685.0,114.0 C693.8,118.0 704.8,124.2 713.0,130.0 C721.2,135.8 728.7,142.5 734.0,149.0 C739.3,155.5 742.0,162.2 745.0,169.0 C748.0,175.8 750.3,183.0 752.0,190.0 C753.7,197.0 754.2,202.8 755.0,211.0 C755.8,219.2 756.5,229.7 757.0,239.0 C757.5,248.3 758.0,256.8 758.0,267.0 C758.0,277.2 758.5,294.5 757.0,300.0 C755.5,305.5 750.3,307.8 749.0,300.0 C747.7,292.2 749.3,265.5 749.0,253.0 C748.7,240.5 748.2,233.2 747.0,225.0 C745.8,216.8 744.2,210.8 742.0,204.0 C739.8,197.2 737.7,190.7 734.0,184.0 C730.3,177.3 725.8,170.3 720.0,164.0 C714.2,157.7 705.7,151.0 699.0,146.0 C692.3,141.0 686.5,137.3 680.0,134.0 C673.5,130.7 669.3,128.5 660.0,126.0 C650.7,123.5 636.0,119.7 624.0,118.8 C612.0,117.9 600.0,119.4 588.0,120.6 C576.0,121.8 564.0,124.3 552.0,126.0 C540.0,127.7 528.0,129.2 516.0,130.5 C504.0,131.8 492.0,133.2 480.0,134.1 C468.0,135.0 456.0,135.9 444.0,135.9 C432.0,135.9 420.0,135.0 408.0,134.1 C396.0,133.2 384.0,132.0 372.0,130.5 C360.0,129.0 348.0,126.3 336.0,125.1 C324.0,123.9 314.3,123.3 300.0,123.3 C285.7,123.3 263.7,124.2 250.0,125.0 C236.3,125.8 228.0,125.5 218.0,128.0 C208.0,130.5 197.0,139.0 190.0,140.0 C183.0,141.0 175.0,137.0 176.0,134.0Z" fill="#EEC4AC"/>
<path d="M200.0,124.0 C200.0,123.3 233.3,114.3 250.0,112.0 C266.7,109.7 279.7,109.3 300.0,110.0 C320.3,110.7 348.0,114.0 372.0,116.0 C396.0,118.0 420.0,122.2 444.0,122.0 C468.0,121.8 492.0,117.0 516.0,115.0 C540.0,113.0 567.3,110.7 588.0,110.0 C608.7,109.3 623.0,109.0 640.0,111.0 C657.0,113.0 676.7,116.8 690.0,122.0 C703.3,127.2 718.3,140.0 720.0,142.0 C721.7,144.0 713.3,138.3 700.0,134.0 C686.7,129.7 658.7,119.3 640.0,116.0 C621.3,112.7 608.7,113.5 588.0,114.0 C567.3,114.5 540.0,117.0 516.0,119.0 C492.0,121.0 468.0,125.8 444.0,126.0 C420.0,126.2 396.0,122.0 372.0,120.0 C348.0,118.0 320.3,114.7 300.0,114.0 C279.7,113.3 266.7,114.3 250.0,116.0 C233.3,117.7 200.0,124.7 200.0,124.0Z" fill="#E6B8A0"/>
<path d="M440.0,175.0 C445.0,168.8 456.7,169.7 470.0,168.0 C483.3,166.3 505.0,165.5 520.0,165.0 C535.0,164.5 546.7,165.8 560.0,165.0 C573.3,164.2 591.3,159.2 600.0,160.0 C608.7,160.8 611.0,163.3 612.0,170.0 C613.0,176.7 608.5,194.5 606.0,200.0 C603.5,205.5 606.3,205.0 597.0,203.0 C587.7,201.0 565.2,189.8 550.0,188.0 C534.8,186.2 519.3,185.3 506.0,192.0 C492.7,198.7 481.0,217.0 470.0,228.0 C459.0,239.0 449.2,248.5 440.0,258.0 C430.8,267.5 421.7,278.7 415.0,285.0 C408.3,291.3 403.3,296.8 400.0,296.0 C396.7,295.2 391.7,289.3 395.0,280.0 C398.3,270.7 412.5,252.5 420.0,240.0 C427.5,227.5 436.7,215.8 440.0,205.0 C443.3,194.2 435.0,181.2 440.0,175.0Z" fill="#F7F4EE"/>
<path d="M338.0,300.0 C346.2,297.2 366.3,297.0 380.0,296.0 C393.7,295.0 410.0,293.3 420.0,294.0 C430.0,294.7 435.7,291.5 440.0,300.0 C444.3,308.5 447.7,335.0 446.0,345.0 C444.3,355.0 437.7,360.0 430.0,360.0 C422.3,360.0 410.5,349.7 400.0,345.0 C389.5,340.3 378.5,337.3 367.0,332.0 C355.5,326.7 335.8,318.3 331.0,313.0 C326.2,307.7 329.8,302.8 338.0,300.0Z" fill="#F7F4EE"/>
<path d="M180.0,142.0 C186.0,138.0 206.3,130.7 218.0,128.0 C229.7,125.3 235.3,126.7 250.0,126.0 C264.7,125.3 292.3,124.3 306.0,124.0 C319.7,123.7 319.7,122.8 332.0,124.0 C344.3,125.2 369.0,129.0 380.0,131.0 C391.0,133.0 396.0,132.5 398.0,136.0 C400.0,139.5 398.3,148.0 392.0,152.0 C385.7,156.0 368.7,157.0 360.0,160.0 C351.3,163.0 344.8,165.0 340.0,170.0 C335.2,175.0 332.8,180.5 331.0,190.0 C329.2,199.5 328.8,214.5 329.0,227.0 C329.2,239.5 331.3,252.8 332.0,265.0 C332.7,277.2 335.0,292.2 333.0,300.0 C331.0,307.8 325.5,309.0 320.0,312.0 C314.5,315.0 308.3,317.3 300.0,318.0 C291.7,318.7 277.8,317.8 270.0,316.0 C262.2,314.2 257.8,309.7 253.0,307.0 C248.2,304.3 245.2,302.5 241.0,300.0 C236.8,297.5 234.8,295.2 228.0,292.0 C221.2,288.8 206.0,284.0 200.0,281.0 C194.0,278.0 192.8,277.8 192.0,274.0 C191.2,270.2 194.8,263.8 195.0,258.0 C195.2,252.2 193.7,246.3 193.0,239.0 C192.3,231.7 191.2,222.3 191.0,214.0 C190.8,205.7 192.5,196.3 192.0,189.0 C191.5,181.7 189.7,176.2 188.0,170.0 C186.3,163.8 183.3,156.7 182.0,152.0 C180.7,147.3 174.0,146.0 180.0,142.0Z" fill="#BE6A5C"/><path d="M180.0,142.0 C186.0,138.0 206.3,130.7 218.0,128.0 C229.7,125.3 235.3,126.7 250.0,126.0 C264.7,125.3 292.3,124.3 306.0,124.0 C319.7,123.7 319.7,122.8 332.0,124.0 C344.3,125.2 369.0,129.0 380.0,131.0 C391.0,133.0 396.0,132.5 398.0,136.0 C400.0,139.5 398.3,148.0 392.0,152.0 C385.7,156.0 368.7,157.0 360.0,160.0 C351.3,163.0 344.8,165.0 340.0,170.0 C335.2,175.0 332.8,180.5 331.0,190.0 C329.2,199.5 328.8,214.5 329.0,227.0 C329.2,239.5 331.3,252.8 332.0,265.0 C332.7,277.2 335.0,292.2 333.0,300.0 C331.0,307.8 325.5,309.0 320.0,312.0 C314.5,315.0 308.3,317.3 300.0,318.0 C291.7,318.7 277.8,317.8 270.0,316.0 C262.2,314.2 257.8,309.7 253.0,307.0 C248.2,304.3 245.2,302.5 241.0,300.0 C236.8,297.5 234.8,295.2 228.0,292.0 C221.2,288.8 206.0,284.0 200.0,281.0 C194.0,278.0 192.8,277.8 192.0,274.0 C191.2,270.2 194.8,263.8 195.0,258.0 C195.2,252.2 193.7,246.3 193.0,239.0 C192.3,231.7 191.2,222.3 191.0,214.0 C190.8,205.7 192.5,196.3 192.0,189.0 C191.5,181.7 189.7,176.2 188.0,170.0 C186.3,163.8 183.3,156.7 182.0,152.0 C180.7,147.3 174.0,146.0 180.0,142.0Z" fill="url(#f50)" opacity="0.60"/>
<path d="M283.0,222.0 C288.0,208.7 311.8,187.8 320.0,180.0 C328.2,172.2 330.3,166.7 332.0,175.0 C333.7,183.3 332.3,212.5 330.0,230.0 C327.7,247.5 323.0,268.3 318.0,280.0 C313.0,291.7 306.3,298.3 300.0,300.0 C293.7,301.7 281.7,296.7 280.0,290.0 C278.3,283.3 289.5,271.3 290.0,260.0 C290.5,248.7 278.0,235.3 283.0,222.0Z" fill="#C8786A"/><path d="M283.0,222.0 C288.0,208.7 311.8,187.8 320.0,180.0 C328.2,172.2 330.3,166.7 332.0,175.0 C333.7,183.3 332.3,212.5 330.0,230.0 C327.7,247.5 323.0,268.3 318.0,280.0 C313.0,291.7 306.3,298.3 300.0,300.0 C293.7,301.7 281.7,296.7 280.0,290.0 C278.3,283.3 289.5,271.3 290.0,260.0 C290.5,248.7 278.0,235.3 283.0,222.0Z" fill="url(#f40)" opacity="0.55"/>
<path d="M205.0,200.0 C209.7,192.5 230.5,187.5 240.0,190.0 C249.5,192.5 256.2,203.3 262.0,215.0 C267.8,226.7 274.0,245.8 275.0,260.0 C276.0,274.2 273.0,294.0 268.0,300.0 C263.0,306.0 252.2,301.0 245.0,296.0 C237.8,291.0 230.5,280.2 225.0,270.0 C219.5,259.8 215.3,246.7 212.0,235.0 C208.7,223.3 200.3,207.5 205.0,200.0Z" fill="#B35F52"/><path d="M205.0,200.0 C209.7,192.5 230.5,187.5 240.0,190.0 C249.5,192.5 256.2,203.3 262.0,215.0 C267.8,226.7 274.0,245.8 275.0,260.0 C276.0,274.2 273.0,294.0 268.0,300.0 C263.0,306.0 252.2,301.0 245.0,296.0 C237.8,291.0 230.5,280.2 225.0,270.0 C219.5,259.8 215.3,246.7 212.0,235.0 C208.7,223.3 200.3,207.5 205.0,200.0Z" fill="url(#f25)" opacity="0.55"/>
<path d="M181.0,144.0 C183.2,139.2 193.2,138.5 200.0,136.0 C206.8,133.5 214.3,130.5 222.0,129.0 C229.7,127.5 242.7,124.3 246.0,127.0 C249.3,129.7 243.3,138.7 242.0,145.0 C240.7,151.3 239.7,158.8 238.0,165.0 C236.3,171.2 235.0,177.7 232.0,182.0 C229.0,186.3 224.7,189.5 220.0,191.0 C215.3,192.5 208.3,192.2 204.0,191.0 C199.7,189.8 196.8,188.3 194.0,184.0 C191.2,179.7 189.2,171.7 187.0,165.0 C184.8,158.3 178.8,148.8 181.0,144.0Z" fill="#5E2219"/><path d="M181.0,144.0 C183.2,139.2 193.2,138.5 200.0,136.0 C206.8,133.5 214.3,130.5 222.0,129.0 C229.7,127.5 242.7,124.3 246.0,127.0 C249.3,129.7 243.3,138.7 242.0,145.0 C240.7,151.3 239.7,158.8 238.0,165.0 C236.3,171.2 235.0,177.7 232.0,182.0 C229.0,186.3 224.7,189.5 220.0,191.0 C215.3,192.5 208.3,192.2 204.0,191.0 C199.7,189.8 196.8,188.3 194.0,184.0 C191.2,179.7 189.2,171.7 187.0,165.0 C184.8,158.3 178.8,148.8 181.0,144.0Z" fill="url(#f70)" opacity="0.35"/>
<path d="M200.0,146.0 C203.5,140.3 218.0,135.7 225.0,134.0 C232.0,132.3 240.2,132.3 242.0,136.0 C243.8,139.7 239.7,150.3 236.0,156.0 C232.3,161.7 225.3,168.0 220.0,170.0 C214.7,172.0 207.3,172.0 204.0,168.0 C200.7,164.0 196.5,151.7 200.0,146.0Z" fill="#8E4034"/><path d="M200.0,146.0 C203.5,140.3 218.0,135.7 225.0,134.0 C232.0,132.3 240.2,132.3 242.0,136.0 C243.8,139.7 239.7,150.3 236.0,156.0 C232.3,161.7 225.3,168.0 220.0,170.0 C214.7,172.0 207.3,172.0 204.0,168.0 C200.7,164.0 196.5,151.7 200.0,146.0Z" fill="url(#f70)" opacity="0.50"/>
<path d="M248.0,125.0 C258.0,120.7 283.8,123.7 300.0,124.0 C316.2,124.3 331.7,125.7 345.0,127.0 C358.3,128.3 379.2,126.5 380.0,132.0 C380.8,137.5 358.0,152.8 350.0,160.0 C342.0,167.2 339.5,168.3 332.0,175.0 C324.5,181.7 313.3,192.5 305.0,200.0 C296.7,207.5 289.2,220.0 282.0,220.0 C274.8,220.0 268.5,205.7 262.0,200.0 C255.5,194.3 247.7,190.0 243.0,186.0 C238.3,182.0 234.5,182.0 234.0,176.0 C233.5,170.0 237.7,158.5 240.0,150.0 C242.3,141.5 238.0,129.3 248.0,125.0Z" fill="#C77B6E"/><path d="M248.0,125.0 C258.0,120.7 283.8,123.7 300.0,124.0 C316.2,124.3 331.7,125.7 345.0,127.0 C358.3,128.3 379.2,126.5 380.0,132.0 C380.8,137.5 358.0,152.8 350.0,160.0 C342.0,167.2 339.5,168.3 332.0,175.0 C324.5,181.7 313.3,192.5 305.0,200.0 C296.7,207.5 289.2,220.0 282.0,220.0 C274.8,220.0 268.5,205.7 262.0,200.0 C255.5,194.3 247.7,190.0 243.0,186.0 C238.3,182.0 234.5,182.0 234.0,176.0 C233.5,170.0 237.7,158.5 240.0,150.0 C242.3,141.5 238.0,129.3 248.0,125.0Z" fill="url(#f65)" opacity="0.50"/>
<ellipse cx="290" cy="183" rx="30" ry="22" fill="url(#fanp)"/>
<path d="M47.0,233.0 C47.5,229.0 49.5,224.5 52.0,222.0 C54.5,219.5 57.7,219.8 62.0,218.0 C66.3,216.2 73.3,213.2 78.0,211.0 C82.7,208.8 86.2,206.7 90.0,205.0 C93.8,203.3 97.5,200.5 101.0,201.0 C104.5,201.5 108.5,203.7 111.0,208.0 C113.5,212.3 114.7,221.0 116.0,227.0 C117.3,233.0 118.2,238.2 119.0,244.0 C119.8,249.8 119.8,256.7 121.0,262.0 C122.2,267.3 124.3,272.3 126.0,276.0 C127.7,279.7 134.3,282.5 131.0,284.0 C127.7,285.5 112.3,285.3 106.0,285.0 C99.7,284.7 98.3,283.3 93.0,282.0 C87.7,280.7 79.2,279.3 74.0,277.0 C68.8,274.7 65.5,271.2 62.0,268.0 C58.5,264.8 55.2,261.7 53.0,258.0 C50.8,254.3 50.0,250.2 49.0,246.0 C48.0,241.8 46.5,237.0 47.0,233.0Z" fill="#BE6A5C"/><path d="M47.0,233.0 C47.5,229.0 49.5,224.5 52.0,222.0 C54.5,219.5 57.7,219.8 62.0,218.0 C66.3,216.2 73.3,213.2 78.0,211.0 C82.7,208.8 86.2,206.7 90.0,205.0 C93.8,203.3 97.5,200.5 101.0,201.0 C104.5,201.5 108.5,203.7 111.0,208.0 C113.5,212.3 114.7,221.0 116.0,227.0 C117.3,233.0 118.2,238.2 119.0,244.0 C119.8,249.8 119.8,256.7 121.0,262.0 C122.2,267.3 124.3,272.3 126.0,276.0 C127.7,279.7 134.3,282.5 131.0,284.0 C127.7,285.5 112.3,285.3 106.0,285.0 C99.7,284.7 98.3,283.3 93.0,282.0 C87.7,280.7 79.2,279.3 74.0,277.0 C68.8,274.7 65.5,271.2 62.0,268.0 C58.5,264.8 55.2,261.7 53.0,258.0 C50.8,254.3 50.0,250.2 49.0,246.0 C48.0,241.8 46.5,237.0 47.0,233.0Z" fill="url(#f75)" opacity="0.60"/>
<path d="M62.0,262.0 C64.8,260.0 74.3,257.7 80.0,258.0 C85.7,258.3 93.5,261.0 96.0,264.0 C98.5,267.0 98.5,273.8 95.0,276.0 C91.5,278.2 80.3,278.0 75.0,277.0 C69.7,276.0 65.2,272.5 63.0,270.0 C60.8,267.5 59.2,264.0 62.0,262.0Z" fill="#E9BCA8"/>
<path d="M112.0,189.0 C113.0,183.8 115.7,180.8 118.0,177.0 C120.3,173.2 122.7,169.8 126.0,166.0 C129.3,162.2 134.0,157.8 138.0,154.0 C142.0,150.2 145.8,146.0 150.0,143.0 C154.2,140.0 158.5,137.7 163.0,136.0 C167.5,134.3 174.0,130.5 177.0,133.0 C180.0,135.5 179.2,144.8 181.0,151.0 C182.8,157.2 186.2,163.7 188.0,170.0 C189.8,176.3 191.5,181.7 192.0,189.0 C192.5,196.3 192.0,207.7 191.0,214.0 C190.0,220.3 188.5,223.2 186.0,227.0 C183.5,230.8 180.8,234.5 176.0,237.0 C171.2,239.5 163.3,241.0 157.0,242.0 C150.7,243.0 144.3,242.7 138.0,243.0 C131.7,243.3 122.8,246.7 119.0,244.0 C115.2,241.3 116.2,233.0 115.0,227.0 C113.8,221.0 112.5,214.3 112.0,208.0 C111.5,201.7 111.0,194.2 112.0,189.0Z" fill="#F1CDB8"/>
<path d="M119.0,245.0 C121.8,241.8 131.7,243.5 138.0,243.0 C144.3,242.5 150.7,243.0 157.0,242.0 C163.3,241.0 171.2,239.5 176.0,237.0 C180.8,234.5 183.3,226.7 186.0,227.0 C188.7,227.3 190.5,233.8 192.0,239.0 C193.5,244.2 195.3,252.0 195.0,258.0 C194.7,264.0 193.2,270.5 190.0,275.0 C186.8,279.5 181.5,282.8 176.0,285.0 C170.5,287.2 163.3,288.2 157.0,288.0 C150.7,287.8 143.2,286.0 138.0,284.0 C132.8,282.0 128.8,279.7 126.0,276.0 C123.2,272.3 122.2,267.2 121.0,262.0 C119.8,256.8 116.2,248.2 119.0,245.0Z" fill="#BE6A5C"/><path d="M119.0,245.0 C121.8,241.8 131.7,243.5 138.0,243.0 C144.3,242.5 150.7,243.0 157.0,242.0 C163.3,241.0 171.2,239.5 176.0,237.0 C180.8,234.5 183.3,226.7 186.0,227.0 C188.7,227.3 190.5,233.8 192.0,239.0 C193.5,244.2 195.3,252.0 195.0,258.0 C194.7,264.0 193.2,270.5 190.0,275.0 C186.8,279.5 181.5,282.8 176.0,285.0 C170.5,287.2 163.3,288.2 157.0,288.0 C150.7,287.8 143.2,286.0 138.0,284.0 C132.8,282.0 128.8,279.7 126.0,276.0 C123.2,272.3 122.2,267.2 121.0,262.0 C119.8,256.8 116.2,248.2 119.0,245.0Z" fill="url(#f35)" opacity="0.60"/>
<path d="M300.0,126.0 C300.0,121.8 324.0,126.0 336.0,127.0 C348.0,128.0 360.0,130.7 372.0,132.0 C384.0,133.3 396.0,134.2 408.0,135.0 C420.0,135.8 432.0,137.0 444.0,137.0 C456.0,137.0 468.0,136.0 480.0,135.0 C492.0,134.0 504.0,132.4 516.0,131.0 C528.0,129.6 540.0,128.2 552.0,126.5 C564.0,124.8 578.0,122.1 588.0,121.0 C598.0,119.9 609.0,119.3 612.0,120.0 C615.0,120.7 610.0,123.5 606.0,125.0 C602.0,126.5 594.0,127.0 588.0,129.0 C582.0,131.0 576.0,135.1 570.0,137.0 C564.0,138.9 561.0,139.2 552.0,140.4 C543.0,141.6 528.0,143.1 516.0,144.0 C504.0,144.9 492.0,145.3 480.0,146.0 C468.0,146.7 456.0,147.4 444.0,148.0 C432.0,148.6 418.7,148.8 408.0,149.5 C397.3,150.2 388.0,150.8 380.0,152.0 C372.0,153.2 367.3,157.0 360.0,157.0 C352.7,157.0 346.0,157.2 336.0,152.0 C326.0,146.8 300.0,130.2 300.0,126.0Z" fill="#C06A52"/><path d="M300.0,126.0 C300.0,121.8 324.0,126.0 336.0,127.0 C348.0,128.0 360.0,130.7 372.0,132.0 C384.0,133.3 396.0,134.2 408.0,135.0 C420.0,135.8 432.0,137.0 444.0,137.0 C456.0,137.0 468.0,136.0 480.0,135.0 C492.0,134.0 504.0,132.4 516.0,131.0 C528.0,129.6 540.0,128.2 552.0,126.5 C564.0,124.8 578.0,122.1 588.0,121.0 C598.0,119.9 609.0,119.3 612.0,120.0 C615.0,120.7 610.0,123.5 606.0,125.0 C602.0,126.5 594.0,127.0 588.0,129.0 C582.0,131.0 576.0,135.1 570.0,137.0 C564.0,138.9 561.0,139.2 552.0,140.4 C543.0,141.6 528.0,143.1 516.0,144.0 C504.0,144.9 492.0,145.3 480.0,146.0 C468.0,146.7 456.0,147.4 444.0,148.0 C432.0,148.6 418.7,148.8 408.0,149.5 C397.3,150.2 388.0,150.8 380.0,152.0 C372.0,153.2 367.3,157.0 360.0,157.0 C352.7,157.0 346.0,157.2 336.0,152.0 C326.0,146.8 300.0,130.2 300.0,126.0Z" fill="url(#f95)" opacity="0.55"/>
<path d="M332.0,150.0 C335.3,148.3 350.0,159.3 360.0,160.0 C370.0,160.7 381.7,154.3 392.0,154.0 C402.3,153.7 413.7,154.3 422.0,158.0 C430.3,161.7 437.7,168.2 442.0,176.0 C446.3,183.8 448.2,195.2 448.0,205.0 C447.8,214.8 444.5,225.5 441.0,235.0 C437.5,244.5 432.7,253.7 427.0,262.0 C421.3,270.3 413.8,278.3 407.0,285.0 C400.2,291.7 393.5,297.7 386.0,302.0 C378.5,306.3 369.3,310.0 362.0,311.0 C354.7,312.0 346.8,311.2 342.0,308.0 C337.2,304.8 334.7,299.2 333.0,292.0 C331.3,284.8 332.7,275.8 332.0,265.0 C331.3,254.2 329.2,239.5 329.0,227.0 C328.8,214.5 329.2,199.5 331.0,190.0 C332.8,180.5 339.8,176.7 340.0,170.0 C340.2,163.3 328.7,151.7 332.0,150.0Z" fill="url(#ldfade)"/>
<path d="M332.0,150.0 C335.3,148.3 350.0,159.3 360.0,160.0 C370.0,160.7 381.7,154.3 392.0,154.0 C402.3,153.7 413.7,154.3 422.0,158.0 C430.3,161.7 437.7,168.2 442.0,176.0 C446.3,183.8 448.2,195.2 448.0,205.0 C447.8,214.8 444.5,225.5 441.0,235.0 C437.5,244.5 432.7,253.7 427.0,262.0 C421.3,270.3 413.8,278.3 407.0,285.0 C400.2,291.7 393.5,297.7 386.0,302.0 C378.5,306.3 369.3,310.0 362.0,311.0 C354.7,312.0 346.8,311.2 342.0,308.0 C337.2,304.8 334.7,299.2 333.0,292.0 C331.3,284.8 332.7,275.8 332.0,265.0 C331.3,254.2 329.2,239.5 329.0,227.0 C328.8,214.5 329.2,199.5 331.0,190.0 C332.8,180.5 339.8,176.7 340.0,170.0 C340.2,163.3 328.7,151.7 332.0,150.0Z" fill="none"/><path d="M332.0,150.0 C335.3,148.3 350.0,159.3 360.0,160.0 C370.0,160.7 381.7,154.3 392.0,154.0 C402.3,153.7 413.7,154.3 422.0,158.0 C430.3,161.7 437.7,168.2 442.0,176.0 C446.3,183.8 448.2,195.2 448.0,205.0 C447.8,214.8 444.5,225.5 441.0,235.0 C437.5,244.5 432.7,253.7 427.0,262.0 C421.3,270.3 413.8,278.3 407.0,285.0 C400.2,291.7 393.5,297.7 386.0,302.0 C378.5,306.3 369.3,310.0 362.0,311.0 C354.7,312.0 346.8,311.2 342.0,308.0 C337.2,304.8 334.7,299.2 333.0,292.0 C331.3,284.8 332.7,275.8 332.0,265.0 C331.3,254.2 329.2,239.5 329.0,227.0 C328.8,214.5 329.2,199.5 331.0,190.0 C332.8,180.5 339.8,176.7 340.0,170.0 C340.2,163.3 328.7,151.7 332.0,150.0Z" fill="url(#f60)" opacity="0.55"/>
<path d="M240.0,301.0 C245.7,298.2 260.0,298.2 270.0,298.0 C280.0,297.8 289.8,299.0 300.0,300.0 C310.2,301.0 325.0,300.7 331.0,304.0 C337.0,307.3 336.8,314.0 336.0,320.0 C335.2,326.0 331.5,335.0 326.0,340.0 C320.5,345.0 312.0,348.2 303.0,350.0 C294.0,351.8 280.5,351.7 272.0,351.0 C263.5,350.3 257.0,349.3 252.0,346.0 C247.0,342.7 244.7,336.2 242.0,331.0 C239.3,325.8 236.3,320.0 236.0,315.0 C235.7,310.0 234.3,303.8 240.0,301.0Z" fill="#B55A4C"/><path d="M240.0,301.0 C245.7,298.2 260.0,298.2 270.0,298.0 C280.0,297.8 289.8,299.0 300.0,300.0 C310.2,301.0 325.0,300.7 331.0,304.0 C337.0,307.3 336.8,314.0 336.0,320.0 C335.2,326.0 331.5,335.0 326.0,340.0 C320.5,345.0 312.0,348.2 303.0,350.0 C294.0,351.8 280.5,351.7 272.0,351.0 C263.5,350.3 257.0,349.3 252.0,346.0 C247.0,342.7 244.7,336.2 242.0,331.0 C239.3,325.8 236.3,320.0 236.0,315.0 C235.7,310.0 234.3,303.8 240.0,301.0Z" fill="url(#f85)" opacity="0.55"/>
<ellipse cx="318" cy="318" rx="14" ry="12" fill="url(#fanw)" opacity="0.7"/>
<path d="M309.0,322.0 C312.5,317.5 321.3,311.3 331.0,313.0 C340.7,314.7 352.2,323.8 367.0,332.0 C381.8,340.2 404.2,355.0 420.0,362.0 C435.8,369.0 454.3,370.8 462.0,374.0 C469.7,377.2 473.0,380.5 466.0,381.0 C459.0,381.5 431.8,378.5 420.0,377.0 C408.2,375.5 406.2,375.2 395.0,372.0 C383.8,368.8 367.2,363.3 353.0,358.0 C338.8,352.7 317.3,346.0 310.0,340.0 C302.7,334.0 305.5,326.5 309.0,322.0Z" fill="#B2594A"/><path d="M309.0,322.0 C312.5,317.5 321.3,311.3 331.0,313.0 C340.7,314.7 352.2,323.8 367.0,332.0 C381.8,340.2 404.2,355.0 420.0,362.0 C435.8,369.0 454.3,370.8 462.0,374.0 C469.7,377.2 473.0,380.5 466.0,381.0 C459.0,381.5 431.8,378.5 420.0,377.0 C408.2,375.5 406.2,375.2 395.0,372.0 C383.8,368.8 367.2,363.3 353.0,358.0 C338.8,352.7 317.3,346.0 310.0,340.0 C302.7,334.0 305.5,326.5 309.0,322.0Z" fill="url(#f125)" opacity="0.55"/>
<path d="M400.0,296.0 C399.0,279.0 428.3,269.3 440.0,258.0 C451.7,246.7 459.0,239.0 470.0,228.0 C481.0,217.0 492.7,198.7 506.0,192.0 C519.3,185.3 534.8,186.2 550.0,188.0 C565.2,189.8 590.3,191.7 597.0,203.0 C603.7,214.3 595.3,241.5 590.0,256.0 C584.7,270.5 574.8,278.7 565.0,290.0 C555.2,301.3 544.8,313.8 531.0,324.0 C517.2,334.2 496.2,345.0 482.0,351.0 C467.8,357.0 459.7,369.2 446.0,360.0 C432.3,350.8 401.0,313.0 400.0,296.0Z" fill="#CF8577"/><path d="M400.0,296.0 C399.0,279.0 428.3,269.3 440.0,258.0 C451.7,246.7 459.0,239.0 470.0,228.0 C481.0,217.0 492.7,198.7 506.0,192.0 C519.3,185.3 534.8,186.2 550.0,188.0 C565.2,189.8 590.3,191.7 597.0,203.0 C603.7,214.3 595.3,241.5 590.0,256.0 C584.7,270.5 574.8,278.7 565.0,290.0 C555.2,301.3 544.8,313.8 531.0,324.0 C517.2,334.2 496.2,345.0 482.0,351.0 C467.8,357.0 459.7,369.2 446.0,360.0 C432.3,350.8 401.0,313.0 400.0,296.0Z" fill="url(#g130)" opacity="0.80"/>
<path d="M465.0,172.0 L546.0,170.0 L531.0,189.0 L504.0,193.0Z" fill="#CF8577"/><path d="M465.0,172.0 L546.0,170.0 L531.0,189.0 L504.0,193.0Z" fill="url(#g80)" opacity="0.80"/>
<path d="M551.0,340.0 C555.0,331.3 568.2,321.7 575.0,312.0 C581.8,302.3 587.8,291.3 592.0,282.0 C596.2,272.7 597.7,267.7 600.0,256.0 C602.3,244.3 605.3,211.3 606.0,212.0 C606.7,212.7 603.8,245.3 604.0,260.0 C604.2,274.7 605.7,288.0 607.0,300.0 C608.3,312.0 613.2,323.7 612.0,332.0 C610.8,340.3 605.3,345.3 600.0,350.0 C594.7,354.7 588.2,357.7 580.0,360.0 C571.8,362.3 555.8,367.3 551.0,364.0 C546.2,360.7 547.0,348.7 551.0,340.0Z" fill="#A9503F"/><path d="M551.0,340.0 C555.0,331.3 568.2,321.7 575.0,312.0 C581.8,302.3 587.8,291.3 592.0,282.0 C596.2,272.7 597.7,267.7 600.0,256.0 C602.3,244.3 605.3,211.3 606.0,212.0 C606.7,212.7 603.8,245.3 604.0,260.0 C604.2,274.7 605.7,288.0 607.0,300.0 C608.3,312.0 613.2,323.7 612.0,332.0 C610.8,340.3 605.3,345.3 600.0,350.0 C594.7,354.7 588.2,357.7 580.0,360.0 C571.8,362.3 555.8,367.3 551.0,364.0 C546.2,360.7 547.0,348.7 551.0,340.0Z" fill="url(#f45)" opacity="0.50"/>
<path d="M467.0,358.0 L550.0,339.0 L551.0,363.0 L468.0,381.0Z" fill="#8E3A30" stroke="#2a1410" stroke-width="1.2"/><path d="M467.0,358.0 L550.0,339.0 L551.0,363.0 L468.0,381.0Z" fill="url(#f180)" opacity="0.45"/>
<path d="M621.0,156.0 C625.7,150.7 635.7,152.2 644.0,152.0 C652.3,151.8 663.0,153.2 671.0,155.0 C679.0,156.8 685.0,159.3 692.0,163.0 C699.0,166.7 707.2,171.8 713.0,177.0 C718.8,182.2 722.8,187.3 727.0,194.0 C731.2,200.7 735.2,208.3 738.0,217.0 C740.8,225.7 742.8,236.5 744.0,246.0 C745.2,255.5 745.5,264.7 745.0,274.0 C744.5,283.3 744.3,294.7 741.0,302.0 C737.7,309.3 731.8,313.3 725.0,318.0 C718.2,322.7 709.2,327.5 700.0,330.0 C690.8,332.5 680.0,333.8 670.0,333.0 C660.0,332.2 649.2,328.8 640.0,325.0 C630.8,321.2 620.8,315.0 615.0,310.0 C609.2,305.0 607.5,300.0 605.0,295.0 C602.5,290.0 601.0,287.0 600.0,280.0 C599.0,273.0 599.0,262.2 599.0,253.0 C599.0,243.8 598.8,233.0 600.0,225.0 C601.2,217.0 603.3,211.8 606.0,205.0 C608.7,198.2 613.5,192.2 616.0,184.0 C618.5,175.8 616.3,161.3 621.0,156.0Z" fill="#C77E70"/><path d="M621.0,156.0 C625.7,150.7 635.7,152.2 644.0,152.0 C652.3,151.8 663.0,153.2 671.0,155.0 C679.0,156.8 685.0,159.3 692.0,163.0 C699.0,166.7 707.2,171.8 713.0,177.0 C718.8,182.2 722.8,187.3 727.0,194.0 C731.2,200.7 735.2,208.3 738.0,217.0 C740.8,225.7 742.8,236.5 744.0,246.0 C745.2,255.5 745.5,264.7 745.0,274.0 C744.5,283.3 744.3,294.7 741.0,302.0 C737.7,309.3 731.8,313.3 725.0,318.0 C718.2,322.7 709.2,327.5 700.0,330.0 C690.8,332.5 680.0,333.8 670.0,333.0 C660.0,332.2 649.2,328.8 640.0,325.0 C630.8,321.2 620.8,315.0 615.0,310.0 C609.2,305.0 607.5,300.0 605.0,295.0 C602.5,290.0 601.0,287.0 600.0,280.0 C599.0,273.0 599.0,262.2 599.0,253.0 C599.0,243.8 598.8,233.0 600.0,225.0 C601.2,217.0 603.3,211.8 606.0,205.0 C608.7,198.2 613.5,192.2 616.0,184.0 C618.5,175.8 616.3,161.3 621.0,156.0Z" fill="url(#f30)" opacity="0.55"/>
<path d="M618.0,205.0 C624.5,198.3 636.3,193.3 645.0,195.0 C653.7,196.7 662.5,205.8 670.0,215.0 C677.5,224.2 684.2,241.2 690.0,250.0 C695.8,258.8 705.0,261.3 705.0,268.0 C705.0,274.7 697.5,284.7 690.0,290.0 C682.5,295.3 670.0,300.0 660.0,300.0 C650.0,300.0 638.0,295.8 630.0,290.0 C622.0,284.2 616.0,274.2 612.0,265.0 C608.0,255.8 605.0,245.0 606.0,235.0 C607.0,225.0 611.5,211.7 618.0,205.0Z" fill="#C07262"/><path d="M618.0,205.0 C624.5,198.3 636.3,193.3 645.0,195.0 C653.7,196.7 662.5,205.8 670.0,215.0 C677.5,224.2 684.2,241.2 690.0,250.0 C695.8,258.8 705.0,261.3 705.0,268.0 C705.0,274.7 697.5,284.7 690.0,290.0 C682.5,295.3 670.0,300.0 660.0,300.0 C650.0,300.0 638.0,295.8 630.0,290.0 C622.0,284.2 616.0,274.2 612.0,265.0 C608.0,255.8 605.0,245.0 606.0,235.0 C607.0,225.0 611.5,211.7 618.0,205.0Z" fill="url(#f45)" opacity="0.50"/>
<path d="M690.0,170.0 C692.5,164.2 708.3,177.5 715.0,185.0 C721.7,192.5 726.7,204.2 730.0,215.0 C733.3,225.8 735.3,237.5 735.0,250.0 C734.7,262.5 732.2,281.7 728.0,290.0 C723.8,298.3 714.7,305.0 710.0,300.0 C705.3,295.0 701.7,273.3 700.0,260.0 C698.3,246.7 701.7,235.0 700.0,220.0 C698.3,205.0 687.5,175.8 690.0,170.0Z" fill="#C98578"/><path d="M690.0,170.0 C692.5,164.2 708.3,177.5 715.0,185.0 C721.7,192.5 726.7,204.2 730.0,215.0 C733.3,225.8 735.3,237.5 735.0,250.0 C734.7,262.5 732.2,281.7 728.0,290.0 C723.8,298.3 714.7,305.0 710.0,300.0 C705.3,295.0 701.7,273.3 700.0,260.0 C698.3,246.7 701.7,235.0 700.0,220.0 C698.3,205.0 687.5,175.8 690.0,170.0Z" fill="url(#f15)" opacity="0.50"/>
<path d="M606.0,292.0 C611.0,289.0 627.7,297.8 640.0,300.0 C652.3,302.2 667.8,305.0 680.0,305.0 C692.2,305.0 704.7,298.8 713.0,300.0 C721.3,301.2 730.2,307.0 730.0,312.0 C729.8,317.0 718.7,325.7 712.0,330.0 C705.3,334.3 698.7,336.3 690.0,338.0 C681.3,339.7 670.0,340.7 660.0,340.0 C650.0,339.3 638.3,337.7 630.0,334.0 C621.7,330.3 614.0,325.0 610.0,318.0 C606.0,311.0 601.0,295.0 606.0,292.0Z" fill="#93453A"/><path d="M606.0,292.0 C611.0,289.0 627.7,297.8 640.0,300.0 C652.3,302.2 667.8,305.0 680.0,305.0 C692.2,305.0 704.7,298.8 713.0,300.0 C721.3,301.2 730.2,307.0 730.0,312.0 C729.8,317.0 718.7,325.7 712.0,330.0 C705.3,334.3 698.7,336.3 690.0,338.0 C681.3,339.7 670.0,340.7 660.0,340.0 C650.0,339.3 638.3,337.7 630.0,334.0 C621.7,330.3 614.0,325.0 610.0,318.0 C606.0,311.0 601.0,295.0 606.0,292.0Z" fill="url(#f30)" opacity="0.50"/>
<path d="M586.0,172.0 L615.0,177.0 L615.0,190.0 L587.0,188.0Z" fill="#C8806F"/><path d="M586.0,172.0 L615.0,177.0 L615.0,190.0 L587.0,188.0Z" fill="url(#f105)" opacity="0.50"/>
<path d="M612.0,300.0 C617.3,295.0 637.0,307.0 650.0,310.0 C663.0,313.0 681.7,313.0 690.0,318.0 C698.3,323.0 699.0,331.0 700.0,340.0 C701.0,349.0 698.0,365.3 696.0,372.0 C694.0,378.7 695.7,378.0 688.0,380.0 C680.3,382.0 659.7,385.7 650.0,384.0 C640.3,382.3 635.3,377.3 630.0,370.0 C624.7,362.7 621.0,351.7 618.0,340.0 C615.0,328.3 606.7,305.0 612.0,300.0Z" fill="#A9503F"/><path d="M612.0,300.0 C617.3,295.0 637.0,307.0 650.0,310.0 C663.0,313.0 681.7,313.0 690.0,318.0 C698.3,323.0 699.0,331.0 700.0,340.0 C701.0,349.0 698.0,365.3 696.0,372.0 C694.0,378.7 695.7,378.0 688.0,380.0 C680.3,382.0 659.7,385.7 650.0,384.0 C640.3,382.3 635.3,377.3 630.0,370.0 C624.7,362.7 621.0,351.7 618.0,340.0 C615.0,328.3 606.7,305.0 612.0,300.0Z" fill="url(#f30)" opacity="0.55"/>
<path d="M648.0,372.0 C655.3,368.3 682.8,364.2 690.0,368.0 C697.2,371.8 691.3,384.7 691.0,395.0 C690.7,405.3 688.8,419.5 688.0,430.0 C687.2,440.5 687.3,451.0 686.0,458.0 C684.7,465.0 681.7,468.2 680.0,472.0 C678.3,475.8 681.0,479.2 676.0,481.0 C671.0,482.8 658.0,483.3 650.0,483.0 C642.0,482.7 631.2,481.8 628.0,479.0 C624.8,476.2 628.2,470.5 631.0,466.0 C633.8,461.5 641.8,459.7 645.0,452.0 C648.2,444.3 649.8,430.3 650.0,420.0 C650.2,409.7 646.3,398.0 646.0,390.0 C645.7,382.0 640.7,375.7 648.0,372.0Z" fill="#EBD9D6" stroke="#8a7070" stroke-width="0.8"/>
<path d="M656.0,380.0 C657.7,374.7 666.7,374.7 670.0,378.0 C673.3,381.3 675.7,391.3 676.0,400.0 C676.3,408.7 674.0,423.3 672.0,430.0 C670.0,436.7 666.0,443.3 664.0,440.0 C662.0,436.7 661.3,420.0 660.0,410.0 C658.7,400.0 654.3,385.3 656.0,380.0Z" fill="#D8ABA3"/>
<path d="M630.0,462.0 C638.3,459.3 667.5,456.0 676.0,458.0 C684.5,460.0 681.7,470.0 681.0,474.0 C680.3,478.0 680.2,480.7 672.0,482.0 C663.8,483.3 639.7,483.3 632.0,482.0 C624.3,480.7 626.3,477.3 626.0,474.0 C625.7,470.7 621.7,464.7 630.0,462.0Z" fill="#D9AEA8"/>
<path d="M230.0,333.0 C235.0,331.3 246.7,332.5 252.0,336.0 C257.3,339.5 260.3,345.8 262.0,354.0 C263.7,362.2 262.7,375.7 262.0,385.0 C261.3,394.3 259.5,402.2 258.0,410.0 C256.5,417.8 255.0,426.8 253.0,432.0 C251.0,437.2 249.5,439.8 246.0,441.0 C242.5,442.2 235.5,441.5 232.0,439.0 C228.5,436.5 227.0,432.5 225.0,426.0 C223.0,419.5 221.2,409.3 220.0,400.0 C218.8,390.7 217.7,379.0 218.0,370.0 C218.3,361.0 220.0,352.2 222.0,346.0 C224.0,339.8 225.0,334.7 230.0,333.0Z" fill="#EBD9D6" stroke="#8a7070" stroke-width="0.8"/>
<path d="M236.0,345.0 C238.3,339.3 245.7,340.2 248.0,346.0 C250.3,351.8 250.7,369.3 250.0,380.0 C249.3,390.7 246.3,404.7 244.0,410.0 C241.7,415.3 237.7,417.0 236.0,412.0 C234.3,407.0 234.0,391.2 234.0,380.0 C234.0,368.8 233.7,350.7 236.0,345.0Z" fill="#D3A8A0"/>
</g>
<g filter="url(#soft)">
<path d="M233.0,519.0 C236.7,516.5 244.5,513.7 250.0,512.0 C255.5,510.3 260.2,509.7 266.0,509.0 C271.8,508.3 278.7,507.7 285.0,508.0 C291.3,508.3 297.8,509.7 304.0,511.0 C310.2,512.3 316.3,514.0 322.0,516.0 C327.7,518.0 334.3,520.3 338.0,523.0 C341.7,525.7 345.8,529.5 344.0,532.0 C342.2,534.5 335.0,535.7 327.0,538.0 C319.0,540.3 302.0,542.2 296.0,546.0 C290.0,549.8 299.2,559.0 291.0,561.0 C282.8,563.0 256.2,557.7 247.0,558.0 C237.8,558.3 239.2,566.0 236.0,563.0 C232.8,560.0 229.3,546.0 228.0,540.0 C226.7,534.0 227.2,530.5 228.0,527.0 C228.8,523.5 229.3,521.5 233.0,519.0Z" fill="#C86552"/><path d="M233.0,519.0 C236.7,516.5 244.5,513.7 250.0,512.0 C255.5,510.3 260.2,509.7 266.0,509.0 C271.8,508.3 278.7,507.7 285.0,508.0 C291.3,508.3 297.8,509.7 304.0,511.0 C310.2,512.3 316.3,514.0 322.0,516.0 C327.7,518.0 334.3,520.3 338.0,523.0 C341.7,525.7 345.8,529.5 344.0,532.0 C342.2,534.5 335.0,535.7 327.0,538.0 C319.0,540.3 302.0,542.2 296.0,546.0 C290.0,549.8 299.2,559.0 291.0,561.0 C282.8,563.0 256.2,557.7 247.0,558.0 C237.8,558.3 239.2,566.0 236.0,563.0 C232.8,560.0 229.3,546.0 228.0,540.0 C226.7,534.0 227.2,530.5 228.0,527.0 C228.8,523.5 229.3,521.5 233.0,519.0Z" fill="url(#f180)" opacity="0.30"/>
<ellipse cx="278" cy="537" rx="26" ry="15" fill="url(#fanw)"/>
<path d="M296.0,546.0 C301.8,542.0 319.0,540.2 327.0,538.0 C335.0,535.8 343.5,531.3 344.0,533.0 C344.5,534.7 335.7,542.7 330.0,548.0 C324.3,553.3 315.0,560.5 310.0,565.0 C305.0,569.5 303.0,575.5 300.0,575.0 C297.0,574.5 292.7,566.8 292.0,562.0 C291.3,557.2 290.2,550.0 296.0,546.0Z" fill="#B4503F"/><path d="M296.0,546.0 C301.8,542.0 319.0,540.2 327.0,538.0 C335.0,535.8 343.5,531.3 344.0,533.0 C344.5,534.7 335.7,542.7 330.0,548.0 C324.3,553.3 315.0,560.5 310.0,565.0 C305.0,569.5 303.0,575.5 300.0,575.0 C297.0,574.5 292.7,566.8 292.0,562.0 C291.3,557.2 290.2,550.0 296.0,546.0Z" fill="url(#f70)" opacity="0.40"/>
<path d="M236.0,563.0 C246.5,559.8 278.7,557.5 291.0,561.0 C303.3,564.5 307.8,578.3 310.0,584.0 C312.2,589.7 304.7,590.7 304.0,595.0 C303.3,599.3 305.3,605.2 306.0,610.0 C306.7,614.8 306.2,617.7 308.0,624.0 C309.8,630.3 316.3,642.3 317.0,648.0 C317.7,653.7 314.8,654.3 312.0,658.0 C309.2,661.7 304.5,665.5 300.0,670.0 C295.5,674.5 289.3,680.0 285.0,685.0 C280.7,690.0 279.8,697.5 274.0,700.0 C268.2,702.5 254.5,706.3 250.0,700.0 C245.5,693.7 251.7,670.7 247.0,662.0 C242.3,653.3 227.2,652.8 222.0,648.0 C216.8,643.2 216.3,640.2 216.0,633.0 C215.7,625.8 218.0,613.8 220.0,605.0 C222.0,596.2 225.3,587.0 228.0,580.0 C230.7,573.0 225.5,566.2 236.0,563.0Z" fill="#B95E4E"/><path d="M236.0,563.0 C246.5,559.8 278.7,557.5 291.0,561.0 C303.3,564.5 307.8,578.3 310.0,584.0 C312.2,589.7 304.7,590.7 304.0,595.0 C303.3,599.3 305.3,605.2 306.0,610.0 C306.7,614.8 306.2,617.7 308.0,624.0 C309.8,630.3 316.3,642.3 317.0,648.0 C317.7,653.7 314.8,654.3 312.0,658.0 C309.2,661.7 304.5,665.5 300.0,670.0 C295.5,674.5 289.3,680.0 285.0,685.0 C280.7,690.0 279.8,697.5 274.0,700.0 C268.2,702.5 254.5,706.3 250.0,700.0 C245.5,693.7 251.7,670.7 247.0,662.0 C242.3,653.3 227.2,652.8 222.0,648.0 C216.8,643.2 216.3,640.2 216.0,633.0 C215.7,625.8 218.0,613.8 220.0,605.0 C222.0,596.2 225.3,587.0 228.0,580.0 C230.7,573.0 225.5,566.2 236.0,563.0Z" fill="url(#f35)" opacity="0.55"/>
<path d="M246.0,580.0 C253.5,576.3 276.0,574.7 285.0,578.0 C294.0,581.3 298.2,592.2 300.0,600.0 C301.8,607.8 301.0,619.2 296.0,625.0 C291.0,630.8 277.7,635.0 270.0,635.0 C262.3,635.0 255.0,630.8 250.0,625.0 C245.0,619.2 240.7,607.5 240.0,600.0 C239.3,592.5 238.5,583.7 246.0,580.0Z" fill="#C7796B"/><path d="M246.0,580.0 C253.5,576.3 276.0,574.7 285.0,578.0 C294.0,581.3 298.2,592.2 300.0,600.0 C301.8,607.8 301.0,619.2 296.0,625.0 C291.0,630.8 277.7,635.0 270.0,635.0 C262.3,635.0 255.0,630.8 250.0,625.0 C245.0,619.2 240.7,607.5 240.0,600.0 C239.3,592.5 238.5,583.7 246.0,580.0Z" fill="url(#f50)" opacity="0.50"/>
<path d="M220.0,625.0 C224.7,622.5 240.8,625.5 250.0,628.0 C259.2,630.5 266.7,636.7 275.0,640.0 C283.3,643.3 297.5,644.7 300.0,648.0 C302.5,651.3 296.7,658.0 290.0,660.0 C283.3,662.0 269.2,661.3 260.0,660.0 C250.8,658.7 241.3,654.8 235.0,652.0 C228.7,649.2 224.5,647.5 222.0,643.0 C219.5,638.5 215.3,627.5 220.0,625.0Z" fill="#9E4436"/><path d="M220.0,625.0 C224.7,622.5 240.8,625.5 250.0,628.0 C259.2,630.5 266.7,636.7 275.0,640.0 C283.3,643.3 297.5,644.7 300.0,648.0 C302.5,651.3 296.7,658.0 290.0,660.0 C283.3,662.0 269.2,661.3 260.0,660.0 C250.8,658.7 241.3,654.8 235.0,652.0 C228.7,649.2 224.5,647.5 222.0,643.0 C219.5,638.5 215.3,627.5 220.0,625.0Z" fill="url(#f80)" opacity="0.50"/>
<path d="M236.0,560.0 C244.3,558.3 277.3,558.2 290.0,561.0 C302.7,563.8 308.5,572.7 312.0,577.0 C315.5,581.3 313.7,585.7 311.0,587.0 C308.3,588.3 307.8,587.7 296.0,585.0 C284.2,582.3 250.0,575.2 240.0,571.0 C230.0,566.8 227.7,561.7 236.0,560.0Z" fill="#8A3328"/><path d="M236.0,560.0 C244.3,558.3 277.3,558.2 290.0,561.0 C302.7,563.8 308.5,572.7 312.0,577.0 C315.5,581.3 313.7,585.7 311.0,587.0 C308.3,588.3 307.8,587.7 296.0,585.0 C284.2,582.3 250.0,575.2 240.0,571.0 C230.0,566.8 227.7,561.7 236.0,560.0Z" fill="url(#f110)" opacity="0.30"/>
<path d="M250.0,660.0 C259.0,655.3 289.0,663.7 300.0,662.0 C311.0,660.3 313.7,649.0 316.0,650.0 C318.3,651.0 317.3,662.0 314.0,668.0 C310.7,674.0 302.0,680.3 296.0,686.0 C290.0,691.7 285.3,699.3 278.0,702.0 C270.7,704.7 257.3,704.0 252.0,702.0 C246.7,700.0 246.3,697.0 246.0,690.0 C245.7,683.0 241.0,664.7 250.0,660.0Z" fill="#B35848"/><path d="M250.0,660.0 C259.0,655.3 289.0,663.7 300.0,662.0 C311.0,660.3 313.7,649.0 316.0,650.0 C318.3,651.0 317.3,662.0 314.0,668.0 C310.7,674.0 302.0,680.3 296.0,686.0 C290.0,691.7 285.3,699.3 278.0,702.0 C270.7,704.7 257.3,704.0 252.0,702.0 C246.7,700.0 246.3,697.0 246.0,690.0 C245.7,683.0 241.0,664.7 250.0,660.0Z" fill="url(#f30)" opacity="0.55"/>
<path d="M240.0,697.0 C247.0,694.0 270.7,693.2 278.0,697.0 C285.3,700.8 283.2,712.3 284.0,720.0 C284.8,727.7 284.3,735.3 283.0,743.0 C281.7,750.7 278.2,759.7 276.0,766.0 C273.8,772.3 273.0,777.5 270.0,781.0 C267.0,784.5 261.8,789.2 258.0,787.0 C254.2,784.8 250.3,775.8 247.0,768.0 C243.7,760.2 239.8,748.8 238.0,740.0 C236.2,731.2 235.7,722.2 236.0,715.0 C236.3,707.8 233.0,700.0 240.0,697.0Z" fill="#F1E4E1" stroke="#9a8a8a" stroke-width="0.8"/>
<path d="M246.0,705.0 C247.7,701.2 253.3,697.8 256.0,702.0 C258.7,706.2 261.0,721.2 262.0,730.0 C263.0,738.8 263.0,748.3 262.0,755.0 C261.0,761.7 258.0,770.8 256.0,770.0 C254.0,769.2 251.7,757.5 250.0,750.0 C248.3,742.5 246.7,732.5 246.0,725.0 C245.3,717.5 244.3,708.8 246.0,705.0Z" fill="#C26F65"/><path d="M246.0,705.0 C247.7,701.2 253.3,697.8 256.0,702.0 C258.7,706.2 261.0,721.2 262.0,730.0 C263.0,738.8 263.0,748.3 262.0,755.0 C261.0,761.7 258.0,770.8 256.0,770.0 C254.0,769.2 251.7,757.5 250.0,750.0 C248.3,742.5 246.7,732.5 246.0,725.0 C245.3,717.5 244.3,708.8 246.0,705.0Z" fill="url(#f20)" opacity="0.40"/>
<path d="M266.0,705.0 C267.7,698.2 272.3,699.0 274.0,704.0 C275.7,709.0 276.7,725.7 276.0,735.0 C275.3,744.3 272.0,758.3 270.0,760.0 C268.0,761.7 264.7,754.2 264.0,745.0 C263.3,735.8 264.3,711.8 266.0,705.0Z" fill="#CE8A80"/>
</g>
<g filter="url(#soft)">
<path d="M538.0,511.0 C538.8,507.3 537.2,504.8 551.0,503.0 C564.8,501.2 599.2,500.2 621.0,500.0 C642.8,499.8 665.7,499.5 682.0,502.0 C698.3,504.5 712.0,511.2 719.0,515.0 C726.0,518.8 724.3,520.7 724.0,525.0 C723.7,529.3 718.8,533.3 717.0,541.0 C715.2,548.7 715.5,562.5 713.0,571.0 C710.5,579.5 707.2,583.5 702.0,592.0 C696.8,600.5 688.0,613.7 682.0,622.0 C676.0,630.3 671.3,637.0 666.0,642.0 C660.7,647.0 656.3,649.3 650.0,652.0 C643.7,654.7 635.3,658.0 628.0,658.0 C620.7,658.0 612.7,656.0 606.0,652.0 C599.3,648.0 594.5,640.3 588.0,634.0 C581.5,627.7 572.8,623.0 567.0,614.0 C561.2,605.0 556.0,590.7 553.0,580.0 C550.0,569.3 550.2,559.2 549.0,550.0 C547.8,540.8 547.8,531.5 546.0,525.0 C544.2,518.5 537.2,514.7 538.0,511.0Z" fill="#B35A4A"/><path d="M538.0,511.0 C538.8,507.3 537.2,504.8 551.0,503.0 C564.8,501.2 599.2,500.2 621.0,500.0 C642.8,499.8 665.7,499.5 682.0,502.0 C698.3,504.5 712.0,511.2 719.0,515.0 C726.0,518.8 724.3,520.7 724.0,525.0 C723.7,529.3 718.8,533.3 717.0,541.0 C715.2,548.7 715.5,562.5 713.0,571.0 C710.5,579.5 707.2,583.5 702.0,592.0 C696.8,600.5 688.0,613.7 682.0,622.0 C676.0,630.3 671.3,637.0 666.0,642.0 C660.7,647.0 656.3,649.3 650.0,652.0 C643.7,654.7 635.3,658.0 628.0,658.0 C620.7,658.0 612.7,656.0 606.0,652.0 C599.3,648.0 594.5,640.3 588.0,634.0 C581.5,627.7 572.8,623.0 567.0,614.0 C561.2,605.0 556.0,590.7 553.0,580.0 C550.0,569.3 550.2,559.2 549.0,550.0 C547.8,540.8 547.8,531.5 546.0,525.0 C544.2,518.5 537.2,514.7 538.0,511.0Z" fill="url(#f40)" opacity="0.55"/>
<path d="M545.0,512.0 C551.7,508.5 580.8,504.7 600.0,504.0 C619.2,503.3 643.3,505.3 660.0,508.0 C676.7,510.7 691.3,516.7 700.0,520.0 C708.7,523.3 713.7,524.7 712.0,528.0 C710.3,531.3 698.7,536.3 690.0,540.0 C681.3,543.7 670.8,548.0 660.0,550.0 C649.2,552.0 636.7,553.7 625.0,552.0 C613.3,550.3 600.8,544.5 590.0,540.0 C579.2,535.5 567.5,529.7 560.0,525.0 C552.5,520.3 538.3,515.5 545.0,512.0Z" fill="#C56E5C"/><path d="M545.0,512.0 C551.7,508.5 580.8,504.7 600.0,504.0 C619.2,503.3 643.3,505.3 660.0,508.0 C676.7,510.7 691.3,516.7 700.0,520.0 C708.7,523.3 713.7,524.7 712.0,528.0 C710.3,531.3 698.7,536.3 690.0,540.0 C681.3,543.7 670.8,548.0 660.0,550.0 C649.2,552.0 636.7,553.7 625.0,552.0 C613.3,550.3 600.8,544.5 590.0,540.0 C579.2,535.5 567.5,529.7 560.0,525.0 C552.5,520.3 538.3,515.5 545.0,512.0Z" fill="url(#f90)" opacity="0.50"/>
<path d="M600.0,540.0 C606.7,532.5 629.2,543.7 640.0,545.0 C650.8,546.3 662.5,543.0 665.0,548.0 C667.5,553.0 660.0,566.3 655.0,575.0 C650.0,583.7 641.7,594.2 635.0,600.0 C628.3,605.8 620.8,611.7 615.0,610.0 C609.2,608.3 602.5,601.7 600.0,590.0 C597.5,578.3 593.3,547.5 600.0,540.0Z" fill="#A44C3D"/><path d="M600.0,540.0 C606.7,532.5 629.2,543.7 640.0,545.0 C650.8,546.3 662.5,543.0 665.0,548.0 C667.5,553.0 660.0,566.3 655.0,575.0 C650.0,583.7 641.7,594.2 635.0,600.0 C628.3,605.8 620.8,611.7 615.0,610.0 C609.2,608.3 602.5,601.7 600.0,590.0 C597.5,578.3 593.3,547.5 600.0,540.0Z" fill="url(#f30)" opacity="0.50"/>
<path d="M660.0,550.0 C668.0,540.8 691.3,543.3 700.0,545.0 C708.7,546.7 712.0,551.7 712.0,560.0 C712.0,568.3 705.3,585.0 700.0,595.0 C694.7,605.0 686.3,614.2 680.0,620.0 C673.7,625.8 666.7,633.3 662.0,630.0 C657.3,626.7 652.3,613.3 652.0,600.0 C651.7,586.7 652.0,559.2 660.0,550.0Z" fill="#BF6A5A"/><path d="M660.0,550.0 C668.0,540.8 691.3,543.3 700.0,545.0 C708.7,546.7 712.0,551.7 712.0,560.0 C712.0,568.3 705.3,585.0 700.0,595.0 C694.7,605.0 686.3,614.2 680.0,620.0 C673.7,625.8 666.7,633.3 662.0,630.0 C657.3,626.7 652.3,613.3 652.0,600.0 C651.7,586.7 652.0,559.2 660.0,550.0Z" fill="url(#f45)" opacity="0.50"/>
<path d="M566.0,614.0 C569.0,613.8 581.3,627.7 588.0,634.0 C594.7,640.3 599.3,648.0 606.0,652.0 C612.7,656.0 624.0,655.7 628.0,658.0 C632.0,660.3 633.0,663.7 630.0,666.0 C627.0,668.3 616.7,671.7 610.0,672.0 C603.3,672.3 595.3,670.8 590.0,668.0 C584.7,665.2 581.3,660.5 578.0,655.0 C574.7,649.5 572.0,641.8 570.0,635.0 C568.0,628.2 563.0,614.2 566.0,614.0Z" fill="#F4ECEA" stroke="#a09090" stroke-width="0.7"/>
<path d="M640.0,650.0 C644.5,647.2 655.3,643.0 660.0,645.0 C664.7,647.0 665.5,655.7 668.0,662.0 C670.5,668.3 675.8,676.2 675.0,683.0 C674.2,689.8 667.5,699.7 663.0,703.0 C658.5,706.3 651.8,706.3 648.0,703.0 C644.2,699.7 642.5,689.8 640.0,683.0 C637.5,676.2 633.0,667.5 633.0,662.0 C633.0,656.5 635.5,652.8 640.0,650.0Z" fill="#9C4233"/><path d="M640.0,650.0 C644.5,647.2 655.3,643.0 660.0,645.0 C664.7,647.0 665.5,655.7 668.0,662.0 C670.5,668.3 675.8,676.2 675.0,683.0 C674.2,689.8 667.5,699.7 663.0,703.0 C658.5,706.3 651.8,706.3 648.0,703.0 C644.2,699.7 642.5,689.8 640.0,683.0 C637.5,676.2 633.0,667.5 633.0,662.0 C633.0,656.5 635.5,652.8 640.0,650.0Z" fill="url(#f25)" opacity="0.50"/>
<path d="M606.0,670.0 C607.3,666.7 615.3,664.7 620.0,668.0 C624.7,671.3 631.3,683.8 634.0,690.0 C636.7,696.2 637.3,702.5 636.0,705.0 C634.7,707.5 630.0,707.8 626.0,705.0 C622.0,702.2 615.3,693.8 612.0,688.0 C608.7,682.2 604.7,673.3 606.0,670.0Z" fill="#A24A3C"/><path d="M606.0,670.0 C607.3,666.7 615.3,664.7 620.0,668.0 C624.7,671.3 631.3,683.8 634.0,690.0 C636.7,696.2 637.3,702.5 636.0,705.0 C634.7,707.5 630.0,707.8 626.0,705.0 C622.0,702.2 615.3,693.8 612.0,688.0 C608.7,682.2 604.7,673.3 606.0,670.0Z" fill="url(#f40)" opacity="0.40"/>
<path d="M632.0,700.0 C636.8,696.2 656.7,702.0 664.0,700.0 C671.3,698.0 673.0,688.0 676.0,688.0 C679.0,688.0 682.3,694.7 682.0,700.0 C681.7,705.3 676.7,712.7 674.0,720.0 C671.3,727.3 668.0,737.3 666.0,744.0 C664.0,750.7 664.3,752.3 662.0,760.0 C659.7,767.7 655.3,785.0 652.0,790.0 C648.7,795.0 645.7,793.7 642.0,790.0 C638.3,786.3 632.5,774.0 630.0,768.0 C627.5,762.0 626.2,761.5 627.0,754.0 C627.8,746.5 634.2,732.0 635.0,723.0 C635.8,714.0 627.2,703.8 632.0,700.0Z" fill="#F2E6E3" stroke="#8a7a7a" stroke-width="0.8"/>
<path d="M640.0,712.0 C642.0,705.5 649.0,703.0 652.0,706.0 C655.0,709.0 658.0,721.0 658.0,730.0 C658.0,739.0 654.2,753.3 652.0,760.0 C649.8,766.7 647.0,772.5 645.0,770.0 C643.0,767.5 640.8,754.7 640.0,745.0 C639.2,735.3 638.0,718.5 640.0,712.0Z" fill="#C47C72"/><path d="M640.0,712.0 C642.0,705.5 649.0,703.0 652.0,706.0 C655.0,709.0 658.0,721.0 658.0,730.0 C658.0,739.0 654.2,753.3 652.0,760.0 C649.8,766.7 647.0,772.5 645.0,770.0 C643.0,767.5 640.8,754.7 640.0,745.0 C639.2,735.3 638.0,718.5 640.0,712.0Z" fill="url(#f20)" opacity="0.35"/>
</g>
<text x="-0.5" y="29" font-size="37" font-weight="bold">a</text>
<text x="84.5" y="126.0" font-size="23.5" fill="#F39A1E" text-anchor="end">MAS</text>
<text x="84.5" y="154.0" font-size="23.5" fill="#F39A1E" text-anchor="end">LIN</text>
<path d="M161.4,266.7 L95.7,121.0 L87.4,121.0" fill="none" stroke="#F39A1E" stroke-width="1.6" stroke-linejoin="round"/>
<circle cx="161.4" cy="266.7" r="3.1" fill="#F39A1E"/>
<path d="M87.4,121.0 L92.9,117.7 L92.9,124.3 Z" fill="#F39A1E"/>
<path d="M117.0,272.8 L96.3,149.5 L87.4,149.5" fill="none" stroke="#F39A1E" stroke-width="1.6" stroke-linejoin="round"/>
<circle cx="117.0" cy="272.8" r="3.1" fill="#F39A1E"/>
<path d="M87.4,149.5 L92.9,146.2 L92.9,152.8 Z" fill="#F39A1E"/>
<text x="423.7" y="24.3" font-size="23.5" fill="#C8282A" text-anchor="start">RHO</text>
<text x="428.6" y="44.8" font-size="23.5" fill="#C8282A" text-anchor="start">SP</text>
<text x="424.8" y="65.4" font-size="23.5" fill="#C8282A" text-anchor="start">BRA</text>
<text x="424.0" y="88.5" font-size="23.5" fill="#C8282A" text-anchor="start">TRC</text>
<text x="417.6" y="110.6" font-size="23.5" fill="#C8282A" text-anchor="start">LDM</text>
<path d="M225.4,136.8 L392.5,17.9 L418.8,17.9" fill="none" stroke="#C8282A" stroke-width="1.6" stroke-linejoin="round"/>
<circle cx="225.4" cy="136.8" r="3.1" fill="#C8282A"/>
<path d="M418.8,17.9 L413.3,14.6 L413.3,21.2 Z" fill="#C8282A"/>
<path d="M227.5,152.5 L389.9,39.9 L418.8,39.9" fill="none" stroke="#C8282A" stroke-width="1.6" stroke-linejoin="round"/>
<circle cx="227.5" cy="152.5" r="3.1" fill="#C8282A"/>
<path d="M418.8,39.9 L413.3,36.6 L413.3,43.2 Z" fill="#C8282A"/>
<path d="M220.9,178.6 L388.0,60.4 L418.8,60.4" fill="none" stroke="#C8282A" stroke-width="1.6" stroke-linejoin="round"/>
<circle cx="220.9" cy="178.6" r="3.1" fill="#C8282A"/>
<path d="M418.8,60.4 L413.3,57.1 L413.3,63.7 Z" fill="#C8282A"/>
<path d="M250.3,173.5 L389.9,79.8 L418.8,79.8" fill="none" stroke="#C8282A" stroke-width="1.6" stroke-linejoin="round"/>
<circle cx="250.3" cy="173.5" r="3.1" fill="#C8282A"/>
<path d="M418.8,79.8 L413.3,76.5 L413.3,83.1 Z" fill="#C8282A"/>
<path d="M560.8,136.8 L502.6,102.6 L469.7,102.6" fill="none" stroke="#C8282A" stroke-width="1.6" stroke-linejoin="round"/>
<circle cx="560.8" cy="136.8" r="3.1" fill="#C8282A"/>
<path d="M469.7,102.6 L475.2,99.3 L475.2,105.9 Z" fill="#C8282A"/>
<text x="411.8" y="465.2" font-size="23.5" fill="#C8282A" text-anchor="start">LD</text>
<text x="397.8" y="489.4" font-size="23.5" fill="#C8282A" text-anchor="start">OEA</text>
<text x="412.2" y="512.2" font-size="23.5" fill="#C8282A" text-anchor="start">PP</text>
<text x="409.4" y="536.0" font-size="23.5" fill="#C8282A" text-anchor="start">TA</text>
<text x="412.7" y="559.7" font-size="23.5" fill="#C8282A" text-anchor="start">PS</text>
<text x="409.0" y="583.5" font-size="23.5" fill="#C8282A" text-anchor="start">RA</text>
<path d="M345.0,229.2 L374.7,458.0 L403.2,458.0" fill="none" stroke="#C8282A" stroke-width="1.6" stroke-linejoin="round"/>
<circle cx="345.0" cy="229.2" r="3.1" fill="#C8282A"/>
<path d="M403.2,458.0 L397.7,454.7 L397.7,461.3 Z" fill="#C8282A"/>
<path d="M528.8,258.0 L472.6,480.9 L447.4,480.9" fill="none" stroke="#C8282A" stroke-width="1.6" stroke-linejoin="round"/>
<circle cx="528.8" cy="258.0" r="3.1" fill="#C8282A"/>
<path d="M447.4,480.9 L452.9,477.6 L452.9,484.2 Z" fill="#C8282A"/>
<path d="M328.8,333.1 L376.0,505.0 L403.2,505.0" fill="none" stroke="#C8282A" stroke-width="1.6" stroke-linejoin="round"/>
<circle cx="328.8" cy="333.1" r="3.1" fill="#C8282A"/>
<path d="M403.2,505.0 L397.7,501.7 L397.7,508.3 Z" fill="#C8282A"/>
<path d="M533.7,333.4 L483.5,529.3 L442.0,529.3" fill="none" stroke="#C8282A" stroke-width="1.6" stroke-linejoin="round"/>
<circle cx="533.7" cy="333.4" r="3.1" fill="#C8282A"/>
<path d="M442.0,529.3 L447.5,526.0 L447.5,532.6 Z" fill="#C8282A"/>
<path d="M300.2,344.5 L382.3,554.5 L404.2,554.5" fill="none" stroke="#C8282A" stroke-width="1.6" stroke-linejoin="round"/>
<circle cx="300.2" cy="344.5" r="3.1" fill="#C8282A"/>
<path d="M404.2,554.5 L398.7,551.2 L398.7,557.8 Z" fill="#C8282A"/>
<path d="M534.6,356.5 L489.7,577.8 L444.0,577.8" fill="none" stroke="#C8282A" stroke-width="1.6" stroke-linejoin="round"/>
<circle cx="534.6" cy="356.5" r="3.1" fill="#C8282A"/>
<path d="M444.0,577.8 L449.5,574.5 L449.5,581.1 Z" fill="#C8282A"/>
<text x="115.5" y="369.5" font-size="23.5" fill="#2D7A36" text-anchor="end">DSP</text>
<path d="M300.8,232.3 L212.3,232.3 L143.1,359.8 L117.9,359.8" fill="none" stroke="#2D7A36" stroke-width="1.6" stroke-linejoin="round"/>
<circle cx="300.8" cy="232.3" r="3.1" fill="#2D7A36"/>
<path d="M117.9,359.8 L123.4,356.5 L123.4,363.1 Z" fill="#2D7A36"/>
<text x="115.5" y="389.4" font-size="23.5" fill="#2D7A36" text-anchor="end">SSP</text>
<path d="M261.8,246.0 L189.5,297.9 L143.8,381.7 L117.9,381.7" fill="none" stroke="#2D7A36" stroke-width="1.6" stroke-linejoin="round"/>
<circle cx="261.8" cy="246.0" r="3.1" fill="#2D7A36"/>
<path d="M117.9,381.7 L123.4,378.4 L123.4,385.0 Z" fill="#2D7A36"/>
<text x="115.5" y="410.8" font-size="23.5" fill="#2D7A36" text-anchor="end">ISP</text>
<path d="M271.9,252.9 L204.1,292.2 L143.8,404.0 L117.9,404.0" fill="none" stroke="#2D7A36" stroke-width="1.6" stroke-linejoin="round"/>
<circle cx="271.9" cy="252.9" r="3.1" fill="#2D7A36"/>
<path d="M117.9,404.0 L123.4,400.7 L123.4,407.3 Z" fill="#2D7A36"/>
<text x="115.5" y="431.2" font-size="23.5" fill="#2D7A36" text-anchor="end">DAP</text>
<path d="M284.3,253.6 L207.3,306.8 L143.8,423.9 L117.9,423.9" fill="none" stroke="#2D7A36" stroke-width="1.6" stroke-linejoin="round"/>
<circle cx="284.3" cy="253.6" r="3.1" fill="#2D7A36"/>
<path d="M117.9,423.9 L123.4,420.6 L123.4,427.2 Z" fill="#2D7A36"/>
<text x="115.5" y="453.0" font-size="23.5" fill="#2D7A36" text-anchor="end">TB-LO</text>
<path d="M320.0,273.2 L221.2,303.0 L143.8,446.5 L117.9,446.5" fill="none" stroke="#2D7A36" stroke-width="1.6" stroke-linejoin="round"/>
<circle cx="320.0" cy="273.2" r="3.1" fill="#2D7A36"/>
<path d="M117.9,446.5 L123.4,443.2 L123.4,449.8 Z" fill="#2D7A36"/>
<text x="115.5" y="473.0" font-size="23.5" fill="#2D7A36" text-anchor="end">TB-LA</text>
<path d="M309.3,282.0 L218.7,310.0 L143.8,466.1 L117.9,466.1" fill="none" stroke="#2D7A36" stroke-width="1.6" stroke-linejoin="round"/>
<circle cx="309.3" cy="282.0" r="3.1" fill="#2D7A36"/>
<path d="M117.9,466.1 L123.4,462.8 L123.4,469.4 Z" fill="#2D7A36"/>
<text x="115.5" y="492.9" font-size="23.5" fill="#2D7A36" text-anchor="end">EDC</text>
<path d="M294.7,292.2 L211.3,338.9 L144.6,486.5 L117.9,486.5" fill="none" stroke="#2D7A36" stroke-width="1.6" stroke-linejoin="round"/>
<circle cx="294.7" cy="292.2" r="3.1" fill="#2D7A36"/>
<path d="M117.9,486.5 L123.4,483.2 L123.4,489.8 Z" fill="#2D7A36"/>
<text x="115.5" y="513.9" font-size="23.5" fill="#2D7A36" text-anchor="end">EDL(F)</text>
<path d="M258.6,318.2 L210.1,366.4 L143.8,507.6 L117.9,507.6" fill="none" stroke="#2D7A36" stroke-width="1.6" stroke-linejoin="round"/>
<circle cx="258.6" cy="318.2" r="3.1" fill="#2D7A36"/>
<path d="M117.9,507.6 L123.4,504.3 L123.4,510.9 Z" fill="#2D7A36"/>
<text x="115.5" y="536.5" font-size="23.5" fill="#2D7A36" text-anchor="end">FDP(F)</text>
<path d="M278.9,342.3 L143.8,528.7 L117.9,528.7" fill="none" stroke="#2D7A36" stroke-width="1.6" stroke-linejoin="round"/>
<circle cx="278.9" cy="342.3" r="3.1" fill="#2D7A36"/>
<path d="M117.9,528.7 L123.4,525.4 L123.4,532.0 Z" fill="#2D7A36"/>
<text x="115.5" y="557.5" font-size="23.5" fill="#2D7A36" text-anchor="end">FDS(F)</text>
<path d="M283.9,346.7 L148.2,548.4 L117.9,548.4" fill="none" stroke="#2D7A36" stroke-width="1.6" stroke-linejoin="round"/>
<circle cx="283.9" cy="346.7" r="3.1" fill="#2D7A36"/>
<path d="M117.9,548.4 L123.4,545.1 L123.4,551.7 Z" fill="#2D7A36"/>
<text x="115.5" y="578.5" font-size="23.5" fill="#2D7A36" text-anchor="end">SUB</text>
<path d="M260.3,591.2 L143.1,567.0 L117.9,567.0" fill="none" stroke="#2D7A36" stroke-width="1.6" stroke-linejoin="round"/>
<circle cx="260.3" cy="591.2" r="3.1" fill="#2D7A36"/>
<path d="M117.9,567.0 L123.4,563.7 L123.4,570.3 Z" fill="#2D7A36"/>
<text x="115.5" y="599.5" font-size="23.5" fill="#2D7A36" text-anchor="end">TM</text>
<path d="M267.9,611.2 L143.1,588.8 L117.9,588.8" fill="none" stroke="#2D7A36" stroke-width="1.6" stroke-linejoin="round"/>
<circle cx="267.9" cy="611.2" r="3.1" fill="#2D7A36"/>
<path d="M117.9,588.8 L123.4,585.5 L123.4,592.1 Z" fill="#2D7A36"/>
<text x="115.5" y="620.0" font-size="23.5" fill="#2D7A36" text-anchor="end">TB-M</text>
<path d="M267.9,639.1 L143.1,611.9 L117.9,611.9" fill="none" stroke="#2D7A36" stroke-width="1.6" stroke-linejoin="round"/>
<circle cx="267.9" cy="639.1" r="3.1" fill="#2D7A36"/>
<path d="M117.9,611.9 L123.4,608.6 L123.4,615.2 Z" fill="#2D7A36"/>
<text x="115.5" y="641.5" font-size="23.5" fill="#2D7A36" text-anchor="end">BB</text>
<path d="M267.0,651.0 L144.2,633.5 L117.9,633.5" fill="none" stroke="#2D7A36" stroke-width="1.6" stroke-linejoin="round"/>
<circle cx="267.0" cy="651.0" r="3.1" fill="#2D7A36"/>
<path d="M117.9,633.5 L123.4,630.2 L123.4,636.8 Z" fill="#2D7A36"/>
<path d="M210.1,366.4 L252.9,332.1" stroke="#2D7A36" stroke-width="1.6" fill="none"/>
<circle cx="252.9" cy="332.1" r="3.1" fill="#2D7A36"/>
<path d="M210.1,366.4 L259.2,337.2" stroke="#2D7A36" stroke-width="1.6" fill="none"/>
<circle cx="259.2" cy="337.2" r="3.1" fill="#2D7A36"/>
<path d="M210.1,366.4 L259.9,342.3" stroke="#2D7A36" stroke-width="1.6" fill="none"/>
<circle cx="259.9" cy="342.3" r="3.1" fill="#2D7A36"/>
<text x="811.2" y="170.2" font-size="23.5" fill="#2C7BAE" text-anchor="start">PM</text>
<path d="M602.1,181.7 L768.0,162.2 L803.9,162.2" fill="none" stroke="#2C7BAE" stroke-width="1.6" stroke-linejoin="round"/>
<circle cx="602.1" cy="181.7" r="3.1" fill="#2C7BAE"/>
<path d="M803.9,162.2 L798.4,158.9 L798.4,165.5 Z" fill="#2C7BAE"/>
<text x="811.2" y="193.0" font-size="23.5" fill="#2C7BAE" text-anchor="start">TFL</text>
<path d="M613.5,204.5 L763.0,185.4 L803.9,185.4" fill="none" stroke="#2C7BAE" stroke-width="1.6" stroke-linejoin="round"/>
<circle cx="613.5" cy="204.5" r="3.1" fill="#2C7BAE"/>
<path d="M803.9,185.4 L798.4,182.1 L798.4,188.7 Z" fill="#2C7BAE"/>
<text x="811.2" y="218.0" font-size="23.5" fill="#2C7BAE" text-anchor="start">GM</text>
<path d="M649.0,204.5 L700.0,208.0 L780.7,210.7 L803.9,210.7" fill="none" stroke="#2C7BAE" stroke-width="1.6" stroke-linejoin="round"/>
<circle cx="649.0" cy="204.5" r="3.1" fill="#2C7BAE"/>
<path d="M803.9,210.7 L798.4,207.4 L798.4,214.0 Z" fill="#2C7BAE"/>
<text x="811.2" y="242.0" font-size="23.5" fill="#2C7BAE" text-anchor="start">SM</text>
<path d="M728.8,221.8 L779.5,234.4 L803.9,234.4" fill="none" stroke="#2C7BAE" stroke-width="1.6" stroke-linejoin="round"/>
<circle cx="728.8" cy="221.8" r="3.1" fill="#2C7BAE"/>
<path d="M803.9,234.4 L798.4,231.1 L798.4,237.7 Z" fill="#2C7BAE"/>
<text x="811.2" y="266.0" font-size="23.5" fill="#2C7BAE" text-anchor="start">ST</text>
<path d="M718.6,251.7 L780.0,259.1 L803.9,259.1" fill="none" stroke="#2C7BAE" stroke-width="1.6" stroke-linejoin="round"/>
<circle cx="718.6" cy="251.7" r="3.1" fill="#2C7BAE"/>
<path d="M803.9,259.1 L798.4,255.8 L798.4,262.4 Z" fill="#2C7BAE"/>
<text x="811.2" y="290.0" font-size="23.5" fill="#2C7BAE" text-anchor="start">RF</text>
<path d="M613.5,259.3 L780.0,283.9 L803.9,283.9" fill="none" stroke="#2C7BAE" stroke-width="1.6" stroke-linejoin="round"/>
<circle cx="613.5" cy="259.3" r="3.1" fill="#2C7BAE"/>
<path d="M803.9,283.9 L798.4,280.6 L798.4,287.2 Z" fill="#2C7BAE"/>
<text x="811.2" y="314.4" font-size="23.5" fill="#2C7BAE" text-anchor="start">VL</text>
<path d="M641.4,268.6 L776.0,307.0 L803.9,307.0" fill="none" stroke="#2C7BAE" stroke-width="1.6" stroke-linejoin="round"/>
<circle cx="641.4" cy="268.6" r="3.1" fill="#2C7BAE"/>
<path d="M803.9,307.0 L798.4,303.7 L798.4,310.3 Z" fill="#2C7BAE"/>
<text x="811.2" y="338.5" font-size="23.5" fill="#2C7BAE" text-anchor="start">BF</text>
<path d="M689.5,285.6 L780.0,331.0 L803.9,331.0" fill="none" stroke="#2C7BAE" stroke-width="1.6" stroke-linejoin="round"/>
<circle cx="689.5" cy="285.6" r="3.1" fill="#2C7BAE"/>
<path d="M803.9,331.0 L798.4,327.7 L798.4,334.3 Z" fill="#2C7BAE"/>
<text x="811.2" y="362.4" font-size="23.5" fill="#2C7BAE" text-anchor="start">SOL</text>
<path d="M664.2,309.2 L730.0,309.2 L782.0,356.3 L803.9,356.3" fill="none" stroke="#2C7BAE" stroke-width="1.6" stroke-linejoin="round"/>
<circle cx="664.2" cy="309.2" r="3.1" fill="#2C7BAE"/>
<path d="M803.9,356.3 L798.4,353.0 L798.4,359.6 Z" fill="#2C7BAE"/>
<text x="811.2" y="386.7" font-size="23.5" fill="#2C7BAE" text-anchor="start">GAS-L</text>
<path d="M697.1,321.9 L780.0,380.2 L803.9,380.2" fill="none" stroke="#2C7BAE" stroke-width="1.6" stroke-linejoin="round"/>
<circle cx="697.1" cy="321.9" r="3.1" fill="#2C7BAE"/>
<path d="M803.9,380.2 L798.4,376.9 L798.4,383.5 Z" fill="#2C7BAE"/>
<text x="811.2" y="411.2" font-size="23.5" fill="#2C7BAE" text-anchor="start">EDL(H)</text>
<path d="M654.0,325.7 L780.0,403.9 L803.9,403.9" fill="none" stroke="#2C7BAE" stroke-width="1.6" stroke-linejoin="round"/>
<circle cx="654.0" cy="325.7" r="3.1" fill="#2C7BAE"/>
<path d="M803.9,403.9 L798.4,400.6 L798.4,407.2 Z" fill="#2C7BAE"/>
<text x="811.2" y="435.5" font-size="23.5" fill="#2C7BAE" text-anchor="start">FDP(H)</text>
<path d="M675.6,382.7 L768.0,427.4 L803.9,427.4" fill="none" stroke="#2C7BAE" stroke-width="1.6" stroke-linejoin="round"/>
<circle cx="675.6" cy="382.7" r="3.1" fill="#2C7BAE"/>
<path d="M803.9,427.4 L798.4,424.1 L798.4,430.7 Z" fill="#2C7BAE"/>
<text x="811.2" y="460.2" font-size="23.5" fill="#2C7BAE" text-anchor="start">FDS(H)</text>
<path d="M676.8,401.2 L783.3,453.8 L803.9,453.8" fill="none" stroke="#2C7BAE" stroke-width="1.6" stroke-linejoin="round"/>
<circle cx="676.8" cy="401.2" r="3.1" fill="#2C7BAE"/>
<path d="M803.9,453.8 L798.4,450.5 L798.4,457.1 Z" fill="#2C7BAE"/>
<text x="811.2" y="484.7" font-size="23.5" fill="#2C7BAE" text-anchor="start">VI</text>
<path d="M594.5,582.0 L697.6,476.3 L803.9,476.3" fill="none" stroke="#2C7BAE" stroke-width="1.6" stroke-linejoin="round"/>
<circle cx="594.5" cy="582.0" r="3.1" fill="#2C7BAE"/>
<path d="M803.9,476.3 L798.4,473.0 L798.4,479.6 Z" fill="#2C7BAE"/>
<text x="811.2" y="509.4" font-size="23.5" fill="#2C7BAE" text-anchor="start">GRA</text>
<path d="M658.6,572.8 L726.8,502.4 L803.9,502.4" fill="none" stroke="#2C7BAE" stroke-width="1.6" stroke-linejoin="round"/>
<circle cx="658.6" cy="572.8" r="3.1" fill="#2C7BAE"/>
<path d="M803.9,502.4 L798.4,499.1 L798.4,505.7 Z" fill="#2C7BAE"/>
<text x="811.2" y="535.8" font-size="23.5" fill="#2C7BAE" text-anchor="start">VM</text>
<path d="M598.0,595.5 L709.5,595.5 L773.8,527.4 L803.9,527.4" fill="none" stroke="#2C7BAE" stroke-width="1.6" stroke-linejoin="round"/>
<circle cx="598.0" cy="595.5" r="3.1" fill="#2C7BAE"/>
<path d="M803.9,527.4 L798.4,524.1 L798.4,530.7 Z" fill="#2C7BAE"/>
<text x="811.2" y="559.9" font-size="23.5" fill="#2C7BAE" text-anchor="start">ADD</text>
<path d="M630.5,604.7 L724.7,604.7 L773.8,554.5 L803.9,554.5" fill="none" stroke="#2C7BAE" stroke-width="1.6" stroke-linejoin="round"/>
<circle cx="630.5" cy="604.7" r="3.1" fill="#2C7BAE"/>
<path d="M803.9,554.5 L798.4,551.2 L798.4,557.8 Z" fill="#2C7BAE"/>
<text x="811.2" y="584.0" font-size="23.5" fill="#2C7BAE" text-anchor="start">SAR</text>
<path d="M609.2,611.8 L741.0,611.8 L773.8,578.0 L803.9,578.0" fill="none" stroke="#2C7BAE" stroke-width="1.6" stroke-linejoin="round"/>
<circle cx="609.2" cy="611.8" r="3.1" fill="#2C7BAE"/>
<path d="M803.9,578.0 L798.4,574.7 L798.4,581.3 Z" fill="#2C7BAE"/>
<text x="811.2" y="609.9" font-size="23.5" fill="#2C7BAE" text-anchor="start">GAS-M</text>
<path d="M660.9,660.0 L716.6,660.0 L773.8,601.8 L803.9,601.8" fill="none" stroke="#2C7BAE" stroke-width="1.6" stroke-linejoin="round"/>
<circle cx="660.9" cy="660.0" r="3.1" fill="#2C7BAE"/>
<path d="M803.9,601.8 L798.4,598.5 L798.4,605.1 Z" fill="#2C7BAE"/>
<text x="811.2" y="634.6" font-size="23.5" fill="#2C7BAE" text-anchor="start">TIC</text>
<path d="M624.4,682.7 L720.7,682.7 L773.8,628.6 L803.9,628.6" fill="none" stroke="#2C7BAE" stroke-width="1.6" stroke-linejoin="round"/>
<circle cx="624.4" cy="682.7" r="3.1" fill="#2C7BAE"/>
<path d="M803.9,628.6 L798.4,625.3 L798.4,631.9 Z" fill="#2C7BAE"/>
<rect x="10.9" y="792" width="113.2" height="32.7" fill="#F7A02B"/>
<text x="71.7" y="817.1" font-size="23" fill="#fff" text-anchor="middle">Head</text>
<rect x="123.8" y="792" width="189.0" height="32.7" fill="#3B8245"/>
<text x="225.0" y="817.1" font-size="23" fill="#fff" text-anchor="middle">Forelimb</text>
<rect x="312.5" y="792" width="211.3" height="32.7" fill="#C9322D"/>
<text x="421.0" y="817.1" font-size="23" fill="#fff" text-anchor="middle">Trunk</text>
<rect x="523.5" y="792" width="343.8" height="32.7" fill="#3A84B1"/>
<text x="704.5" y="817.1" font-size="23" fill="#fff" text-anchor="middle">Hindlimb</text>
<text x="944" y="29" font-size="38" font-weight="bold">b</text>
<text x="1155" y="69" font-size="23.5" text-anchor="middle">Global PCG</text>
<rect x="1000.0" y="76.0" width="10.0" height="12.3" fill="#F5A02F"/>
<rect x="1009.7" y="76.0" width="93.6" height="12.3" fill="#3A8044"/>
<rect x="1103.0" y="76.0" width="67.4" height="12.3" fill="#C8322E"/>
<rect x="1170.0" y="76.0" width="142.3" height="12.3" fill="#3A84B3"/>
<g>
<rect x="1000.0" y="90.0" width="5.0" height="4.8" fill="#ffcfd3"/>
<rect x="1005.0" y="90.0" width="98.0" height="4.8" fill="#febabe"/>
<rect x="1103.0" y="90.0" width="67.1" height="4.8" fill="#febabe"/>
<rect x="1170.0" y="90.0" width="101.4" height="4.8" fill="#febabe"/>
<rect x="1271.4" y="90.0" width="40.6" height="4.8" fill="#ffcfd3"/>
<rect x="1000.0" y="94.8" width="5.0" height="94.8" fill="#febabe"/>
<rect x="1005.0" y="94.8" width="98.0" height="94.8" fill="#fdb3b8"/>
<rect x="1103.0" y="94.8" width="67.1" height="94.8" fill="#fdb5b9"/>
<rect x="1170.0" y="94.8" width="101.4" height="94.8" fill="#febabe"/>
<rect x="1271.4" y="94.8" width="40.6" height="94.8" fill="#ffcfd3"/>
<rect x="1000.0" y="189.7" width="5.0" height="64.9" fill="#febabe"/>
<rect x="1005.0" y="189.7" width="98.0" height="64.9" fill="#fdb5b9"/>
<rect x="1103.0" y="189.7" width="67.1" height="64.9" fill="#fca7ab"/>
<rect x="1170.0" y="189.7" width="101.4" height="64.9" fill="#fdb5b9"/>
<rect x="1271.4" y="189.7" width="40.6" height="64.9" fill="#ffcfd3"/>
<rect x="1000.0" y="254.6" width="5.0" height="98.2" fill="#febabe"/>
<rect x="1005.0" y="254.6" width="98.0" height="98.2" fill="#febabe"/>
<rect x="1103.0" y="254.6" width="67.1" height="98.2" fill="#fdb5b9"/>
<rect x="1170.0" y="254.6" width="101.4" height="98.2" fill="#feb8bd"/>
<rect x="1271.4" y="254.6" width="40.6" height="98.2" fill="#ffcfd3"/>
<rect x="1000.0" y="352.7" width="5.0" height="39.3" fill="#ffcfd3"/>
<rect x="1005.0" y="352.7" width="98.0" height="39.3" fill="#ffcfd3"/>
<rect x="1103.0" y="352.7" width="67.1" height="39.3" fill="#ffcfd3"/>
<rect x="1170.0" y="352.7" width="101.4" height="39.3" fill="#ffcfd3"/>
<rect x="1271.4" y="352.7" width="40.6" height="39.3" fill="#fecccf"/>
<rect x="1002.6" y="90.0" width="2.60" height="302.0" fill="#ec3e36" fill-opacity="0.04"/>
<rect x="1000.0" y="92.5" width="312.0" height="2.52" fill="#ec3e36" fill-opacity="0.04"/>
<rect x="1005.2" y="90.0" width="2.60" height="302.0" fill="#ffffff" fill-opacity="0.04"/>
<rect x="1000.0" y="95.0" width="312.0" height="2.52" fill="#ffffff" fill-opacity="0.04"/>
<rect x="1007.8" y="90.0" width="2.60" height="302.0" fill="#ffffff" fill-opacity="0.12"/>
<rect x="1000.0" y="97.5" width="312.0" height="2.52" fill="#ffffff" fill-opacity="0.12"/>
<rect x="1010.4" y="90.0" width="2.60" height="302.0" fill="#ffffff" fill-opacity="0.06"/>
<rect x="1000.0" y="100.1" width="312.0" height="2.52" fill="#ffffff" fill-opacity="0.06"/>
<rect x="1013.0" y="90.0" width="2.60" height="302.0" fill="#ffffff" fill-opacity="0.13"/>
<rect x="1000.0" y="102.6" width="312.0" height="2.52" fill="#ffffff" fill-opacity="0.13"/>
<rect x="1018.2" y="90.0" width="2.60" height="302.0" fill="#ec3e36" fill-opacity="0.17"/>
<rect x="1000.0" y="107.6" width="312.0" height="2.52" fill="#ec3e36" fill-opacity="0.17"/>
<rect x="1020.8" y="90.0" width="2.60" height="302.0" fill="#ffffff" fill-opacity="0.06"/>
<rect x="1000.0" y="110.1" width="312.0" height="2.52" fill="#ffffff" fill-opacity="0.06"/>
<rect x="1023.4" y="90.0" width="2.60" height="302.0" fill="#ffffff" fill-opacity="0.08"/>
<rect x="1000.0" y="112.7" width="312.0" height="2.52" fill="#ffffff" fill-opacity="0.08"/>
<rect x="1026.0" y="90.0" width="2.60" height="302.0" fill="#ec3e36" fill-opacity="0.06"/>
<rect x="1000.0" y="115.2" width="312.0" height="2.52" fill="#ec3e36" fill-opacity="0.06"/>
<rect x="1028.6" y="90.0" width="2.60" height="302.0" fill="#ec3e36" fill-opacity="0.05"/>
<rect x="1000.0" y="117.7" width="312.0" height="2.52" fill="#ec3e36" fill-opacity="0.05"/>
<rect x="1033.8" y="90.0" width="2.60" height="302.0" fill="#ffffff" fill-opacity="0.12"/>
<rect x="1000.0" y="122.7" width="312.0" height="2.52" fill="#ffffff" fill-opacity="0.12"/>
<rect x="1039.0" y="90.0" width="2.60" height="302.0" fill="#ec3e36" fill-opacity="0.09"/>
<rect x="1000.0" y="127.8" width="312.0" height="2.52" fill="#ec3e36" fill-opacity="0.09"/>
<rect x="1041.6" y="90.0" width="2.60" height="302.0" fill="#ffffff" fill-opacity="0.17"/>
<rect x="1000.0" y="130.3" width="312.0" height="2.52" fill="#ffffff" fill-opacity="0.17"/>
<rect x="1044.2" y="90.0" width="2.60" height="302.0" fill="#ffffff" fill-opacity="0.06"/>
<rect x="1000.0" y="132.8" width="312.0" height="2.52" fill="#ffffff" fill-opacity="0.06"/>
<rect x="1046.8" y="90.0" width="2.60" height="302.0" fill="#ffffff" fill-opacity="0.25"/>
<rect x="1000.0" y="135.3" width="312.0" height="2.52" fill="#ffffff" fill-opacity="0.25"/>
<rect x="1049.4" y="90.0" width="2.60" height="302.0" fill="#ffffff" fill-opacity="0.17"/>
<rect x="1000.0" y="137.8" width="312.0" height="2.52" fill="#ffffff" fill-opacity="0.17"/>
<rect x="1052.0" y="90.0" width="2.60" height="302.0" fill="#ffffff" fill-opacity="0.24"/>
<rect x="1000.0" y="140.3" width="312.0" height="2.52" fill="#ffffff" fill-opacity="0.24"/>
<rect x="1054.6" y="90.0" width="2.60" height="302.0" fill="#ffffff" fill-opacity="0.03"/>
<rect x="1000.0" y="142.8" width="312.0" height="2.52" fill="#ffffff" fill-opacity="0.03"/>
<rect x="1057.2" y="90.0" width="2.60" height="302.0" fill="#ffffff" fill-opacity="0.16"/>
<rect x="1000.0" y="145.4" width="312.0" height="2.52" fill="#ffffff" fill-opacity="0.16"/>
<rect x="1059.8" y="90.0" width="2.60" height="302.0" fill="#ec3e36" fill-opacity="0.04"/>
<rect x="1000.0" y="147.9" width="312.0" height="2.52" fill="#ec3e36" fill-opacity="0.04"/>
<rect x="1067.6" y="90.0" width="2.60" height="302.0" fill="#ffffff" fill-opacity="0.33"/>
<rect x="1000.0" y="155.4" width="312.0" height="2.52" fill="#ffffff" fill-opacity="0.33"/>
<rect x="1070.2" y="90.0" width="2.60" height="302.0" fill="#ffffff" fill-opacity="0.07"/>
<rect x="1000.0" y="157.9" width="312.0" height="2.52" fill="#ffffff" fill-opacity="0.07"/>
<rect x="1078.0" y="90.0" width="2.60" height="302.0" fill="#ffffff" fill-opacity="0.20"/>
<rect x="1000.0" y="165.5" width="312.0" height="2.52" fill="#ffffff" fill-opacity="0.20"/>
<rect x="1080.6" y="90.0" width="2.60" height="302.0" fill="#ffffff" fill-opacity="0.06"/>
<rect x="1000.0" y="168.0" width="312.0" height="2.52" fill="#ffffff" fill-opacity="0.06"/>
<rect x="1083.2" y="90.0" width="2.60" height="302.0" fill="#ffffff" fill-opacity="0.13"/>
<rect x="1000.0" y="170.5" width="312.0" height="2.52" fill="#ffffff" fill-opacity="0.13"/>
<rect x="1085.8" y="90.0" width="2.60" height="302.0" fill="#ffffff" fill-opacity="0.11"/>
<rect x="1000.0" y="173.1" width="312.0" height="2.52" fill="#ffffff" fill-opacity="0.11"/>
<rect x="1088.4" y="90.0" width="2.60" height="302.0" fill="#ec3e36" fill-opacity="0.14"/>
<rect x="1000.0" y="175.6" width="312.0" height="2.52" fill="#ec3e36" fill-opacity="0.14"/>
<rect x="1091.0" y="90.0" width="2.60" height="302.0" fill="#ffffff" fill-opacity="0.10"/>
<rect x="1000.0" y="178.1" width="312.0" height="2.52" fill="#ffffff" fill-opacity="0.10"/>
<rect x="1096.2" y="90.0" width="2.60" height="302.0" fill="#ec3e36" fill-opacity="0.11"/>
<rect x="1000.0" y="183.1" width="312.0" height="2.52" fill="#ec3e36" fill-opacity="0.11"/>
<rect x="1098.8" y="90.0" width="2.60" height="302.0" fill="#ffffff" fill-opacity="0.08"/>
<rect x="1000.0" y="185.6" width="312.0" height="2.52" fill="#ffffff" fill-opacity="0.08"/>
<rect x="1109.2" y="90.0" width="2.60" height="302.0" fill="#ffffff" fill-opacity="0.16"/>
<rect x="1000.0" y="195.7" width="312.0" height="2.52" fill="#ffffff" fill-opacity="0.16"/>
<rect x="1114.4" y="90.0" width="2.60" height="302.0" fill="#ec3e36" fill-opacity="0.18"/>
<rect x="1000.0" y="200.7" width="312.0" height="2.52" fill="#ec3e36" fill-opacity="0.18"/>
<rect x="1117.0" y="90.0" width="2.60" height="302.0" fill="#ffffff" fill-opacity="0.20"/>
<rect x="1000.0" y="203.2" width="312.0" height="2.52" fill="#ffffff" fill-opacity="0.20"/>
<rect x="1119.6" y="90.0" width="2.60" height="302.0" fill="#ec3e36" fill-opacity="0.11"/>
<rect x="1000.0" y="205.8" width="312.0" height="2.52" fill="#ec3e36" fill-opacity="0.11"/>
<rect x="1124.8" y="90.0" width="2.60" height="302.0" fill="#ffffff" fill-opacity="0.08"/>
<rect x="1000.0" y="210.8" width="312.0" height="2.52" fill="#ffffff" fill-opacity="0.08"/>
<rect x="1127.4" y="90.0" width="2.60" height="302.0" fill="#ec3e36" fill-opacity="0.26"/>
<rect x="1000.0" y="213.3" width="312.0" height="2.52" fill="#ec3e36" fill-opacity="0.26"/>
<rect x="1130.0" y="90.0" width="2.60" height="302.0" fill="#ec3e36" fill-opacity="0.10"/>
<rect x="1000.0" y="215.8" width="312.0" height="2.52" fill="#ec3e36" fill-opacity="0.10"/>
<rect x="1132.6" y="90.0" width="2.60" height="302.0" fill="#ffffff" fill-opacity="0.16"/>
<rect x="1000.0" y="218.3" width="312.0" height="2.52" fill="#ffffff" fill-opacity="0.16"/>
<rect x="1137.8" y="90.0" width="2.60" height="302.0" fill="#ec3e36" fill-opacity="0.07"/>
<rect x="1000.0" y="223.4" width="312.0" height="2.52" fill="#ec3e36" fill-opacity="0.07"/>
<rect x="1143.0" y="90.0" width="2.60" height="302.0" fill="#ec3e36" fill-opacity="0.09"/>
<rect x="1000.0" y="228.4" width="312.0" height="2.52" fill="#ec3e36" fill-opacity="0.09"/>
<rect x="1148.2" y="90.0" width="2.60" height="302.0" fill="#ec3e36" fill-opacity="0.09"/>
<rect x="1000.0" y="233.4" width="312.0" height="2.52" fill="#ec3e36" fill-opacity="0.09"/>
<rect x="1150.8" y="90.0" width="2.60" height="302.0" fill="#ec3e36" fill-opacity="0.19"/>
<rect x="1000.0" y="236.0" width="312.0" height="2.52" fill="#ec3e36" fill-opacity="0.19"/>
<rect x="1153.4" y="90.0" width="2.60" height="302.0" fill="#ffffff" fill-opacity="0.09"/>
<rect x="1000.0" y="238.5" width="312.0" height="2.52" fill="#ffffff" fill-opacity="0.09"/>
<rect x="1158.6" y="90.0" width="2.60" height="302.0" fill="#ffffff" fill-opacity="0.06"/>
<rect x="1000.0" y="243.5" width="312.0" height="2.52" fill="#ffffff" fill-opacity="0.06"/>
<rect x="1163.8" y="90.0" width="2.60" height="302.0" fill="#ffffff" fill-opacity="0.15"/>
<rect x="1000.0" y="248.5" width="312.0" height="2.52" fill="#ffffff" fill-opacity="0.15"/>
<rect x="1166.4" y="90.0" width="2.60" height="302.0" fill="#ffffff" fill-opacity="0.08"/>
<rect x="1000.0" y="251.1" width="312.0" height="2.52" fill="#ffffff" fill-opacity="0.08"/>
<rect x="1171.6" y="90.0" width="2.60" height="302.0" fill="#ec3e36" fill-opacity="0.12"/>
<rect x="1000.0" y="256.1" width="312.0" height="2.52" fill="#ec3e36" fill-opacity="0.12"/>
<rect x="1174.2" y="90.0" width="2.60" height="302.0" fill="#ec3e36" fill-opacity="0.15"/>
<rect x="1000.0" y="258.6" width="312.0" height="2.52" fill="#ec3e36" fill-opacity="0.15"/>
<rect x="1176.8" y="90.0" width="2.60" height="302.0" fill="#ffffff" fill-opacity="0.17"/>
<rect x="1000.0" y="261.1" width="312.0" height="2.52" fill="#ffffff" fill-opacity="0.17"/>
<rect x="1179.4" y="90.0" width="2.60" height="302.0" fill="#ffffff" fill-opacity="0.10"/>
<rect x="1000.0" y="263.6" width="312.0" height="2.52" fill="#ffffff" fill-opacity="0.10"/>
<rect x="1182.0" y="90.0" width="2.60" height="302.0" fill="#ec3e36" fill-opacity="0.08"/>
<rect x="1000.0" y="266.2" width="312.0" height="2.52" fill="#ec3e36" fill-opacity="0.08"/>
<rect x="1184.6" y="90.0" width="2.60" height="302.0" fill="#ffffff" fill-opacity="0.26"/>
<rect x="1000.0" y="268.7" width="312.0" height="2.52" fill="#ffffff" fill-opacity="0.26"/>
<rect x="1187.2" y="90.0" width="2.60" height="302.0" fill="#ffffff" fill-opacity="0.06"/>
<rect x="1000.0" y="271.2" width="312.0" height="2.52" fill="#ffffff" fill-opacity="0.06"/>
<rect x="1192.4" y="90.0" width="2.60" height="302.0" fill="#ec3e36" fill-opacity="0.16"/>
<rect x="1000.0" y="276.2" width="312.0" height="2.52" fill="#ec3e36" fill-opacity="0.16"/>
<rect x="1195.0" y="90.0" width="2.60" height="302.0" fill="#ec3e36" fill-opacity="0.09"/>
<rect x="1000.0" y="278.8" width="312.0" height="2.52" fill="#ec3e36" fill-opacity="0.09"/>
<rect x="1197.6" y="90.0" width="2.60" height="302.0" fill="#ffffff" fill-opacity="0.04"/>
<rect x="1000.0" y="281.3" width="312.0" height="2.52" fill="#ffffff" fill-opacity="0.04"/>
<rect x="1200.2" y="90.0" width="2.60" height="302.0" fill="#ffffff" fill-opacity="0.05"/>
<rect x="1000.0" y="283.8" width="312.0" height="2.52" fill="#ffffff" fill-opacity="0.05"/>
<rect x="1202.8" y="90.0" width="2.60" height="302.0" fill="#ffffff" fill-opacity="0.03"/>
<rect x="1000.0" y="286.3" width="312.0" height="2.52" fill="#ffffff" fill-opacity="0.03"/>
<rect x="1205.4" y="90.0" width="2.60" height="302.0" fill="#ec3e36" fill-opacity="0.20"/>
<rect x="1000.0" y="288.8" width="312.0" height="2.52" fill="#ec3e36" fill-opacity="0.20"/>
<rect x="1208.0" y="90.0" width="2.60" height="302.0" fill="#ffffff" fill-opacity="0.06"/>
<rect x="1000.0" y="291.3" width="312.0" height="2.52" fill="#ffffff" fill-opacity="0.06"/>
<rect x="1210.6" y="90.0" width="2.60" height="302.0" fill="#ffffff" fill-opacity="0.04"/>
<rect x="1000.0" y="293.9" width="312.0" height="2.52" fill="#ffffff" fill-opacity="0.04"/>
<rect x="1213.2" y="90.0" width="2.60" height="302.0" fill="#ec3e36" fill-opacity="0.05"/>
<rect x="1000.0" y="296.4" width="312.0" height="2.52" fill="#ec3e36" fill-opacity="0.05"/>
<rect x="1221.0" y="90.0" width="2.60" height="302.0" fill="#ffffff" fill-opacity="0.14"/>
<rect x="1000.0" y="303.9" width="312.0" height="2.52" fill="#ffffff" fill-opacity="0.14"/>
<rect x="1226.2" y="90.0" width="2.60" height="302.0" fill="#ffffff" fill-opacity="0.06"/>
<rect x="1000.0" y="308.9" width="312.0" height="2.52" fill="#ffffff" fill-opacity="0.06"/>
<rect x="1228.8" y="90.0" width="2.60" height="302.0" fill="#ec3e36" fill-opacity="0.15"/>
<rect x="1000.0" y="311.5" width="312.0" height="2.52" fill="#ec3e36" fill-opacity="0.15"/>
<rect x="1231.4" y="90.0" width="2.60" height="302.0" fill="#ec3e36" fill-opacity="0.08"/>
<rect x="1000.0" y="314.0" width="312.0" height="2.52" fill="#ec3e36" fill-opacity="0.08"/>
<rect x="1236.6" y="90.0" width="2.60" height="302.0" fill="#ec3e36" fill-opacity="0.09"/>
<rect x="1000.0" y="319.0" width="312.0" height="2.52" fill="#ec3e36" fill-opacity="0.09"/>
<rect x="1239.2" y="90.0" width="2.60" height="302.0" fill="#ffffff" fill-opacity="0.04"/>
<rect x="1000.0" y="321.5" width="312.0" height="2.52" fill="#ffffff" fill-opacity="0.04"/>
<rect x="1241.8" y="90.0" width="2.60" height="302.0" fill="#ec3e36" fill-opacity="0.14"/>
<rect x="1000.0" y="324.0" width="312.0" height="2.52" fill="#ec3e36" fill-opacity="0.14"/>
<rect x="1247.0" y="90.0" width="2.60" height="302.0" fill="#ec3e36" fill-opacity="0.08"/>
<rect x="1000.0" y="329.1" width="312.0" height="2.52" fill="#ec3e36" fill-opacity="0.08"/>
<rect x="1249.6" y="90.0" width="2.60" height="302.0" fill="#ffffff" fill-opacity="0.17"/>
<rect x="1000.0" y="331.6" width="312.0" height="2.52" fill="#ffffff" fill-opacity="0.17"/>
<rect x="1252.2" y="90.0" width="2.60" height="302.0" fill="#ec3e36" fill-opacity="0.05"/>
<rect x="1000.0" y="334.1" width="312.0" height="2.52" fill="#ec3e36" fill-opacity="0.05"/>
<rect x="1254.8" y="90.0" width="2.60" height="302.0" fill="#ffffff" fill-opacity="0.22"/>
<rect x="1000.0" y="336.6" width="312.0" height="2.52" fill="#ffffff" fill-opacity="0.22"/>
<rect x="1257.4" y="90.0" width="2.60" height="302.0" fill="#ffffff" fill-opacity="0.26"/>
<rect x="1000.0" y="339.1" width="312.0" height="2.52" fill="#ffffff" fill-opacity="0.26"/>
<rect x="1260.0" y="90.0" width="2.60" height="302.0" fill="#ffffff" fill-opacity="0.04"/>
<rect x="1000.0" y="341.7" width="312.0" height="2.52" fill="#ffffff" fill-opacity="0.04"/>
<rect x="1262.6" y="90.0" width="2.60" height="302.0" fill="#ffffff" fill-opacity="0.12"/>
<rect x="1000.0" y="344.2" width="312.0" height="2.52" fill="#ffffff" fill-opacity="0.12"/>
<rect x="1267.8" y="90.0" width="2.60" height="302.0" fill="#ec3e36" fill-opacity="0.29"/>
<rect x="1000.0" y="349.2" width="312.0" height="2.52" fill="#ec3e36" fill-opacity="0.29"/>
<rect x="1270.4" y="90.0" width="2.60" height="302.0" fill="#ffffff" fill-opacity="0.11"/>
<rect x="1000.0" y="351.7" width="312.0" height="2.52" fill="#ffffff" fill-opacity="0.11"/>
<rect x="1273.0" y="90.0" width="2.60" height="302.0" fill="#ffffff" fill-opacity="0.08"/>
<rect x="1000.0" y="354.2" width="312.0" height="2.52" fill="#ffffff" fill-opacity="0.08"/>
<rect x="1278.2" y="90.0" width="2.60" height="302.0" fill="#ec3e36" fill-opacity="0.06"/>
<rect x="1000.0" y="359.3" width="312.0" height="2.52" fill="#ec3e36" fill-opacity="0.06"/>
<rect x="1286.0" y="90.0" width="2.60" height="302.0" fill="#ec3e36" fill-opacity="0.09"/>
<rect x="1000.0" y="366.8" width="312.0" height="2.52" fill="#ec3e36" fill-opacity="0.09"/>
<rect x="1288.6" y="90.0" width="2.60" height="302.0" fill="#ec3e36" fill-opacity="0.07"/>
<rect x="1000.0" y="369.3" width="312.0" height="2.52" fill="#ec3e36" fill-opacity="0.07"/>
<rect x="1291.2" y="90.0" width="2.60" height="302.0" fill="#ffffff" fill-opacity="0.13"/>
<rect x="1000.0" y="371.9" width="312.0" height="2.52" fill="#ffffff" fill-opacity="0.13"/>
<rect x="1299.0" y="90.0" width="2.60" height="302.0" fill="#ffffff" fill-opacity="0.14"/>
<rect x="1000.0" y="379.4" width="312.0" height="2.52" fill="#ffffff" fill-opacity="0.14"/>
<rect x="1301.6" y="90.0" width="2.60" height="302.0" fill="#ec3e36" fill-opacity="0.03"/>
<rect x="1000.0" y="381.9" width="312.0" height="2.52" fill="#ec3e36" fill-opacity="0.03"/>
<rect x="1304.2" y="90.0" width="2.60" height="302.0" fill="#ffffff" fill-opacity="0.11"/>
<rect x="1000.0" y="384.4" width="312.0" height="2.52" fill="#ffffff" fill-opacity="0.11"/>
<rect x="1306.8" y="90.0" width="2.60" height="302.0" fill="#ec3e36" fill-opacity="0.13"/>
<rect x="1000.0" y="387.0" width="312.0" height="2.52" fill="#ec3e36" fill-opacity="0.13"/>
<rect x="1000.0" y="90.0" width="312.0" height="2.45" fill="#fce6e6"/>
<rect x="1000.0" y="90.0" width="2.45" height="302.0" fill="#fce6e6"/>
<rect x="1002.5" y="92.5" width="309.6" height="2.45" fill="#a9aee2" fill-opacity="0.75"/>
<rect x="1002.5" y="92.5" width="2.45" height="299.6" fill="#a9aee2" fill-opacity="0.75"/>
<rect x="1000.0" y="389.6" width="312.0" height="2.45" fill="#fbe2e2"/>
<rect x="1309.5" y="90.0" width="2.45" height="302.0" fill="#fbe2e2"/>
<rect x="1000.0" y="387.1" width="309.6" height="2.45" fill="#6d76c6" fill-opacity="0.85"/>
<rect x="1307.1" y="90.0" width="2.45" height="299.6" fill="#6d76c6" fill-opacity="0.85"/>
<defs><pattern id="sp1000_0" width="28.600" height="28.600" patternUnits="userSpaceOnUse" x="1000.00" y="90.00"><rect x="13.00" y="0.00" width="2.60" height="2.60" fill="#fff" fill-opacity="0.53"/><rect x="15.60" y="0.00" width="2.60" height="2.60" fill="#fff" fill-opacity="0.52"/><rect x="2.60" y="5.20" width="2.60" height="2.60" fill="#fff" fill-opacity="0.56"/><rect x="2.60" y="7.80" width="2.60" height="2.60" fill="#fff" fill-opacity="0.38"/><rect x="5.20" y="7.80" width="2.60" height="2.60" fill="#fff" fill-opacity="0.81"/><rect x="10.40" y="7.80" width="2.60" height="2.60" fill="#fff" fill-opacity="0.65"/><rect x="5.20" y="10.40" width="2.60" height="2.60" fill="#fff" fill-opacity="0.38"/><rect x="18.20" y="10.40" width="2.60" height="2.60" fill="#fff" fill-opacity="0.81"/><rect x="2.60" y="13.00" width="2.60" height="2.60" fill="#fff" fill-opacity="0.37"/><rect x="5.20" y="13.00" width="2.60" height="2.60" fill="#fff" fill-opacity="0.48"/><rect x="10.40" y="13.00" width="2.60" height="2.60" fill="#fff" fill-opacity="0.63"/><rect x="13.00" y="13.00" width="2.60" height="2.60" fill="#fff" fill-opacity="0.65"/><rect x="15.60" y="13.00" width="2.60" height="2.60" fill="#fff" fill-opacity="0.69"/><rect x="18.20" y="13.00" width="2.60" height="2.60" fill="#fff" fill-opacity="0.51"/><rect x="5.20" y="15.60" width="2.60" height="2.60" fill="#fff" fill-opacity="0.64"/><rect x="7.80" y="15.60" width="2.60" height="2.60" fill="#fff" fill-opacity="0.75"/><rect x="15.60" y="15.60" width="2.60" height="2.60" fill="#fff" fill-opacity="0.52"/><rect x="20.80" y="15.60" width="2.60" height="2.60" fill="#fff" fill-opacity="0.66"/><rect x="5.20" y="18.20" width="2.60" height="2.60" fill="#fff" fill-opacity="0.73"/><rect x="10.40" y="18.20" width="2.60" height="2.60" fill="#fff" fill-opacity="0.64"/><rect x="18.20" y="18.20" width="2.60" height="2.60" fill="#fff" fill-opacity="0.68"/><rect x="10.40" y="20.80" width="2.60" height="2.60" fill="#fff" fill-opacity="0.36"/><rect x="15.60" y="20.80" width="2.60" height="2.60" fill="#fff" fill-opacity="0.63"/><rect x="2.60" y="23.40" width="2.60" height="2.60" fill="#fff" fill-opacity="0.54"/><rect x="5.20" y="23.40" width="2.60" height="2.60" fill="#fff" fill-opacity="0.68"/><rect x="18.20" y="23.40" width="2.60" height="2.60" fill="#fff" fill-opacity="0.47"/><rect x="26.00" y="23.40" width="2.60" height="2.60" fill="#fff" fill-opacity="0.73"/><rect x="5.20" y="26.00" width="2.60" height="2.60" fill="#fff" fill-opacity="0.73"/><rect x="7.80" y="26.00" width="2.60" height="2.60" fill="#fff" fill-opacity="0.42"/><rect x="10.40" y="26.00" width="2.60" height="2.60" fill="#fff" fill-opacity="0.39"/><rect x="26.00" y="26.00" width="2.60" height="2.60" fill="#fff" fill-opacity="0.57"/></pattern><pattern id="sp1000_1" width="33.800" height="33.800" patternUnits="userSpaceOnUse" x="1000.00" y="90.00"><rect x="7.80" y="0.00" width="2.60" height="2.60" fill="#fff" fill-opacity="0.71"/><rect x="20.80" y="0.00" width="2.60" height="2.60" fill="#fff" fill-opacity="0.61"/><rect x="5.20" y="2.60" width="2.60" height="2.60" fill="#fff" fill-opacity="0.44"/><rect x="15.60" y="5.20" width="2.60" height="2.60" fill="#fff" fill-opacity="0.77"/><rect x="5.20" y="7.80" width="2.60" height="2.60" fill="#fff" fill-opacity="0.73"/><rect x="10.40" y="7.80" width="2.60" height="2.60" fill="#fff" fill-opacity="0.71"/><rect x="18.20" y="7.80" width="2.60" height="2.60" fill="#fff" fill-opacity="0.40"/><rect x="23.40" y="7.80" width="2.60" height="2.60" fill="#fff" fill-opacity="0.44"/><rect x="10.40" y="10.40" width="2.60" height="2.60" fill="#fff" fill-opacity="0.59"/><rect x="13.00" y="10.40" width="2.60" height="2.60" fill="#fff" fill-opacity="0.51"/><rect x="23.40" y="10.40" width="2.60" height="2.60" fill="#fff" fill-opacity="0.85"/><rect x="5.20" y="13.00" width="2.60" height="2.60" fill="#fff" fill-opacity="0.37"/><rect x="10.40" y="13.00" width="2.60" height="2.60" fill="#fff" fill-opacity="0.44"/><rect x="13.00" y="15.60" width="2.60" height="2.60" fill="#fff" fill-opacity="0.42"/><rect x="15.60" y="15.60" width="2.60" height="2.60" fill="#fff" fill-opacity="0.84"/><rect x="2.60" y="18.20" width="2.60" height="2.60" fill="#fff" fill-opacity="0.51"/><rect x="7.80" y="18.20" width="2.60" height="2.60" fill="#fff" fill-opacity="0.47"/><rect x="2.60" y="20.80" width="2.60" height="2.60" fill="#fff" fill-opacity="0.73"/><rect x="5.20" y="20.80" width="2.60" height="2.60" fill="#fff" fill-opacity="0.81"/><rect x="15.60" y="20.80" width="2.60" height="2.60" fill="#fff" fill-opacity="0.61"/><rect x="18.20" y="20.80" width="2.60" height="2.60" fill="#fff" fill-opacity="0.83"/><rect x="28.60" y="23.40" width="2.60" height="2.60" fill="#fff" fill-opacity="0.71"/><rect x="31.20" y="23.40" width="2.60" height="2.60" fill="#fff" fill-opacity="0.83"/><rect x="13.00" y="26.00" width="2.60" height="2.60" fill="#fff" fill-opacity="0.63"/><rect x="20.80" y="26.00" width="2.60" height="2.60" fill="#fff" fill-opacity="0.58"/><rect x="28.60" y="26.00" width="2.60" height="2.60" fill="#fff" fill-opacity="0.65"/></pattern></defs>
<rect x="1000.0" y="90.0" width="312.0" height="302.0" fill="url(#sp1000_0)" opacity="0.80"/>
<rect x="1000.0" y="90.0" width="312.0" height="302.0" fill="url(#sp1000_1)" opacity="0.80"/>
<line x1="1000.0" y1="90.0" x2="1312.0" y2="392.0" stroke="#d42a22" stroke-width="1.7" stroke-opacity="1.00"/>
</g>
<text x="1323.6" y="100.0" font-size="23.9">Spearman&#8217;s <tspan font-style="italic">r</tspan></text>
<rect x="1321.4" y="105.4" width="134.0" height="14.0" fill="url(#cbar)" stroke="#000" stroke-width="2.2"/>
<line x1="1352.8" y1="119.4" x2="1352.8" y2="122.4" stroke="#000" stroke-width="1.6"/>
<text x="1349.4" y="146.0" font-size="22.8" text-anchor="middle">0.92</text>
<line x1="1404.4" y1="119.4" x2="1404.4" y2="122.4" stroke="#000" stroke-width="1.6"/>
<text x="1405.4" y="146.0" font-size="22.8" text-anchor="middle">0.96</text>
<line x1="1455.6" y1="119.4" x2="1455.6" y2="122.4" stroke="#000" stroke-width="1.6"/>
<text x="1453.0" y="146.0" font-size="22.8" text-anchor="middle">1</text>
<rect x="1324.5" y="173.0" width="16.0" height="16.0" fill="#F5A02F" stroke="#000" stroke-width="2"/>
<text x="1351.5" y="190.0" font-size="23.5">Head</text>
<rect x="1324.5" y="197.8" width="16.0" height="16.0" fill="#3A8044" stroke="#000" stroke-width="2"/>
<text x="1351.5" y="214.8" font-size="23.5">Forelimb</text>
<rect x="1324.5" y="222.6" width="16.0" height="16.0" fill="#C8322E" stroke="#000" stroke-width="2"/>
<text x="1351.5" y="239.6" font-size="23.5">Trunk</text>
<rect x="1324.5" y="247.4" width="16.0" height="16.0" fill="#3A84B3" stroke="#000" stroke-width="2"/>
<text x="1351.5" y="264.4" font-size="23.5">Hindlimb</text>
<g>
<ellipse cx="1164.4" cy="515.8" rx="138.0" ry="58.0" transform="rotate(-2.0 1164.4 515.8)" fill="#53703a" fill-opacity="0.25" stroke="#2E7D3E" stroke-width="2.0"/>
<ellipse cx="1159.4" cy="517.8" rx="103.9" ry="82.4" transform="rotate(47.0 1159.4 517.8)" fill="#5a7ca8" fill-opacity="0.25" stroke="#2C86BC" stroke-width="2.0"/>
<ellipse cx="1167.7" cy="536.3" rx="118.4" ry="78.5" transform="rotate(31.0 1167.7 536.3)" fill="#c2502f" fill-opacity="0.25" stroke="#CF2A30" stroke-width="2.0"/>
<ellipse cx="1186.5" cy="566.8" rx="108.3" ry="24.9" transform="rotate(86.0 1186.5 566.8)" fill="#f59b4a" fill-opacity="0.25" stroke="#F39B26" stroke-width="2.0"/>
<circle cx="1098.4" cy="505.3" r="5.0" fill="#3A8046"/>
<circle cx="1100.6" cy="508.6" r="5.0" fill="#3A8046"/>
<circle cx="1105.1" cy="510.8" r="5.0" fill="#3A8046"/>
<circle cx="1109.5" cy="508.6" r="5.0" fill="#3A8046"/>
<circle cx="1102.8" cy="519.7" r="5.0" fill="#3A8046"/>
<circle cx="1105.1" cy="520.8" r="5.0" fill="#3A8046"/>
<circle cx="1170.4" cy="504.2" r="5.0" fill="#3A8046"/>
<circle cx="1173.8" cy="506.4" r="5.0" fill="#3A8046"/>
<circle cx="1178.2" cy="508.6" r="5.0" fill="#3A8046"/>
<circle cx="1184.8" cy="511.9" r="5.0" fill="#3A8046"/>
<circle cx="1213.6" cy="492.0" r="5.0" fill="#3A8046"/>
<circle cx="1218.1" cy="490.9" r="5.0" fill="#3A8046"/>
<circle cx="1219.2" cy="493.1" r="5.0" fill="#3A8046"/>
<circle cx="1201.5" cy="540.7" r="5.0" fill="#3A8046"/>
<circle cx="1190.4" cy="564.0" r="5.0" fill="#3A8046"/>
<circle cx="1145.0" cy="550.7" r="5.0" fill="#3A8046"/>
<circle cx="1140.5" cy="544.0" r="5.0" fill="#3A8046"/>
<circle cx="1202.6" cy="500.8" r="5.0" fill="#3A8046"/>
<circle cx="1199.2" cy="559.6" r="5.0" fill="#3A8046"/>
<circle cx="1087.3" cy="514.1" r="5.0" fill="#D0343A"/>
<circle cx="1099.5" cy="515.2" r="5.0" fill="#D0343A"/>
<circle cx="1119.5" cy="526.3" r="5.0" fill="#D0343A"/>
<circle cx="1139.4" cy="544.0" r="5.0" fill="#D0343A"/>
<circle cx="1167.1" cy="486.4" r="5.0" fill="#D0343A"/>
<circle cx="1172.7" cy="535.2" r="5.0" fill="#D0343A"/>
<circle cx="1176.0" cy="517.4" r="5.0" fill="#D0343A"/>
<circle cx="1184.8" cy="540.7" r="5.0" fill="#D0343A"/>
<circle cx="1188.2" cy="537.4" r="5.0" fill="#D0343A"/>
<circle cx="1184.8" cy="548.5" r="5.0" fill="#D0343A"/>
<circle cx="1194.8" cy="566.2" r="5.0" fill="#D0343A"/>
<circle cx="1198.1" cy="565.1" r="5.0" fill="#D0343A"/>
<circle cx="1184.8" cy="577.3" r="5.0" fill="#D0343A"/>
<circle cx="1188.2" cy="578.4" r="5.0" fill="#D0343A"/>
<circle cx="1214.8" cy="510.8" r="5.0" fill="#D0343A"/>
<circle cx="1217.0" cy="514.1" r="5.0" fill="#D0343A"/>
<circle cx="1151.6" cy="548.5" r="5.0" fill="#D0343A"/>
<circle cx="1182.6" cy="559.6" r="5.0" fill="#F39C33"/>
<circle cx="1189.3" cy="587.3" r="5.0" fill="#F39C33"/>
<circle cx="1138.3" cy="478.7" r="5.0" fill="#2F84B8"/>
<circle cx="1142.7" cy="479.8" r="5.0" fill="#2F84B8"/>
<circle cx="1149.4" cy="480.9" r="5.0" fill="#2F84B8"/>
<circle cx="1153.8" cy="479.8" r="5.0" fill="#2F84B8"/>
<circle cx="1160.5" cy="478.7" r="5.0" fill="#2F84B8"/>
<circle cx="1167.1" cy="479.8" r="5.0" fill="#2F84B8"/>
<circle cx="1171.5" cy="480.9" r="5.0" fill="#2F84B8"/>
<circle cx="1142.7" cy="488.6" r="5.0" fill="#2F84B8"/>
<circle cx="1146.1" cy="493.1" r="5.0" fill="#2F84B8"/>
<circle cx="1149.4" cy="497.5" r="5.0" fill="#2F84B8"/>
<circle cx="1151.6" cy="501.9" r="5.0" fill="#2F84B8"/>
<circle cx="1149.4" cy="504.2" r="5.0" fill="#2F84B8"/>
<circle cx="1164.9" cy="482.0" r="5.0" fill="#2F84B8"/>
<circle cx="1168.2" cy="485.3" r="5.0" fill="#2F84B8"/>
<circle cx="1166.0" cy="488.6" r="5.0" fill="#2F84B8"/>
<circle cx="1111.7" cy="500.8" r="5.0" fill="#2F84B8"/>
<circle cx="1107.3" cy="504.2" r="5.0" fill="#2F84B8"/>
<circle cx="1100.6" cy="510.8" r="5.0" fill="#2F84B8"/>
<circle cx="1095.1" cy="514.1" r="5.0" fill="#2F84B8"/>
<circle cx="1091.8" cy="515.2" r="5.0" fill="#2F84B8"/>
<circle cx="1120.6" cy="515.2" r="5.0" fill="#2F84B8"/>
<circle cx="1122.8" cy="519.7" r="5.0" fill="#2F84B8"/>
<circle cx="1127.2" cy="523.0" r="5.0" fill="#2F84B8"/>
<circle cx="1131.7" cy="521.4" r="5.0" fill="#2F84B8"/>
<circle cx="1136.1" cy="520.8" r="5.0" fill="#2F84B8"/>
<circle cx="1133.9" cy="528.5" r="5.0" fill="#2F84B8"/>
<circle cx="1136.1" cy="533.0" r="5.0" fill="#2F84B8"/>
<circle cx="1139.4" cy="537.4" r="5.0" fill="#2F84B8"/>
<circle cx="1145.0" cy="541.8" r="5.0" fill="#2F84B8"/>
<circle cx="1149.4" cy="545.1" r="5.0" fill="#2F84B8"/>
<circle cx="1151.6" cy="548.5" r="5.0" fill="#2F84B8"/>
<circle cx="1164.9" cy="513.0" r="5.0" fill="#2F84B8"/>
<circle cx="1171.5" cy="526.3" r="5.0" fill="#2F84B8"/>
<circle cx="1173.8" cy="528.5" r="5.0" fill="#2F84B8"/>
<circle cx="1178.2" cy="513.0" r="5.0" fill="#2F84B8"/>
<circle cx="1182.6" cy="517.4" r="5.0" fill="#2F84B8"/>
<circle cx="1184.8" cy="519.7" r="5.0" fill="#2F84B8"/>
<circle cx="1190.4" cy="544.0" r="5.0" fill="#2F84B8"/>
<circle cx="1193.7" cy="546.3" r="5.0" fill="#2F84B8"/>
<circle cx="1195.9" cy="544.0" r="5.0" fill="#2F84B8"/>
<circle cx="1191.5" cy="550.7" r="5.0" fill="#2F84B8"/>
<circle cx="1192.6" cy="555.1" r="5.0" fill="#2F84B8"/>
<circle cx="1167.1" cy="570.6" r="5.0" fill="#2F84B8"/>
<circle cx="1171.5" cy="575.1" r="5.0" fill="#2F84B8"/>
<circle cx="1187.1" cy="582.8" r="5.0" fill="#2F84B8"/>
<circle cx="1189.3" cy="585.0" r="5.0" fill="#2F84B8"/>
<circle cx="1202.6" cy="504.2" r="5.0" fill="#2F84B8"/>
<circle cx="1207.0" cy="501.9" r="5.0" fill="#2F84B8"/>
<circle cx="1210.3" cy="492.0" r="5.0" fill="#2F84B8"/>
<circle cx="1213.6" cy="490.9" r="5.0" fill="#2F84B8"/>
<circle cx="1204.8" cy="520.8" r="5.0" fill="#2F84B8"/>
<circle cx="1203.7" cy="521.9" r="5.0" fill="#2F84B8"/>
</g>
<rect x="1018.8" y="416.3" width="291.7" height="265.7" fill="none" stroke="#000" stroke-width="2.3"/>
<line x1="1060.3" y1="682.0" x2="1060.3" y2="687.0" stroke="#000" stroke-width="2"/>
<text x="1060.3" y="712.0" font-size="23.0" text-anchor="middle">&#8722;40</text>
<line x1="1111.7" y1="682.0" x2="1111.7" y2="687.0" stroke="#000" stroke-width="2"/>
<text x="1111.7" y="712.0" font-size="23.0" text-anchor="middle">&#8722;20</text>
<line x1="1163.1" y1="682.0" x2="1163.1" y2="687.0" stroke="#000" stroke-width="2"/>
<text x="1163.1" y="712.0" font-size="23.0" text-anchor="middle">0</text>
<line x1="1214.5" y1="682.0" x2="1214.5" y2="687.0" stroke="#000" stroke-width="2"/>
<text x="1214.5" y="712.0" font-size="23.0" text-anchor="middle">20</text>
<line x1="1265.9" y1="682.0" x2="1265.9" y2="687.0" stroke="#000" stroke-width="2"/>
<text x="1265.9" y="712.0" font-size="23.0" text-anchor="middle">40</text>
<line x1="1013.8" y1="447.1" x2="1018.8" y2="447.1" stroke="#000" stroke-width="2"/>
<text x="1009.3" y="455.4" font-size="23.0" text-anchor="end">40</text>
<line x1="1013.8" y1="484.8" x2="1018.8" y2="484.8" stroke="#000" stroke-width="2"/>
<text x="1009.3" y="493.1" font-size="23.0" text-anchor="end">20</text>
<line x1="1013.8" y1="522.5" x2="1018.8" y2="522.5" stroke="#000" stroke-width="2"/>
<text x="1009.3" y="530.8" font-size="23.0" text-anchor="end">0</text>
<line x1="1013.8" y1="560.2" x2="1018.8" y2="560.2" stroke="#000" stroke-width="2"/>
<text x="1009.3" y="568.5" font-size="23.0" text-anchor="end">&#8722;20</text>
<line x1="1013.8" y1="597.9" x2="1018.8" y2="597.9" stroke="#000" stroke-width="2"/>
<text x="1009.3" y="606.2" font-size="23.0" text-anchor="end">&#8722;40</text>
<line x1="1013.8" y1="635.6" x2="1018.8" y2="635.6" stroke="#000" stroke-width="2"/>
<text x="1009.3" y="643.9" font-size="23.0" text-anchor="end">&#8722;60</text>
<line x1="1013.8" y1="673.3" x2="1018.8" y2="673.3" stroke="#000" stroke-width="2"/>
<text x="1009.3" y="681.6" font-size="23.0" text-anchor="end">&#8722;80</text>
<text x="1171.0" y="737.0" font-size="23.5" text-anchor="middle">Dimension 1</text>
<text x="0" y="0" font-size="23.5" text-anchor="middle" transform="translate(959.5 541.0) rotate(-90)">Dimension 2</text>
<text x="1483" y="25" font-size="38" font-weight="bold">c</text>
<text x="1703" y="69.3" font-size="23.5" text-anchor="middle">HOX genes</text>
<rect x="1541.4" y="81.0" width="9.7" height="11.6" fill="#F5A02F"/>
<rect x="1550.8" y="81.0" width="91.9" height="11.6" fill="#3A8044"/>
<rect x="1642.4" y="81.0" width="66.0" height="11.6" fill="#C8322E"/>
<rect x="1708.2" y="81.0" width="137.8" height="11.6" fill="#3A84B3"/>
<g>
<rect x="1541.4" y="93.1" width="10.0" height="9.8" fill="#e9372f"/>
<rect x="1551.4" y="93.1" width="91.9" height="9.8" fill="#aaacde"/>
<rect x="1643.3" y="93.1" width="15.5" height="9.8" fill="#ffeff1"/>
<rect x="1658.9" y="93.1" width="23.1" height="9.8" fill="#ffcfd3"/>
<rect x="1682.0" y="93.1" width="20.1" height="9.8" fill="#ffe0e2"/>
<rect x="1702.1" y="93.1" width="6.1" height="9.8" fill="#fff7f8"/>
<rect x="1708.2" y="93.1" width="98.0" height="9.8" fill="#c4c5e8"/>
<rect x="1806.1" y="93.1" width="39.6" height="9.8" fill="#9499d2"/>
<rect x="1541.4" y="102.9" width="10.0" height="89.4" fill="#aaacde"/>
<rect x="1551.4" y="102.9" width="91.9" height="89.4" fill="#ec443e"/>
<rect x="1643.3" y="102.9" width="15.5" height="89.4" fill="#fdb5b9"/>
<rect x="1658.9" y="102.9" width="23.1" height="89.4" fill="#4e5baa"/>
<rect x="1682.0" y="102.9" width="20.1" height="89.4" fill="#5662af"/>
<rect x="1702.1" y="102.9" width="6.1" height="89.4" fill="#fff7f8"/>
<rect x="1708.2" y="102.9" width="98.0" height="89.4" fill="#ffcfd3"/>
<rect x="1806.1" y="102.9" width="39.6" height="89.4" fill="#fec6ca"/>
<rect x="1541.4" y="192.2" width="10.0" height="15.1" fill="#ffeff1"/>
<rect x="1551.4" y="192.2" width="91.9" height="15.1" fill="#fdb5b9"/>
<rect x="1643.3" y="192.2" width="15.5" height="15.1" fill="#e9372f"/>
<rect x="1658.9" y="192.2" width="23.1" height="15.1" fill="#ffe0e2"/>
<rect x="1682.0" y="192.2" width="20.1" height="15.1" fill="#ffe8e9"/>
<rect x="1702.1" y="192.2" width="6.1" height="15.1" fill="#ffeff1"/>
<rect x="1708.2" y="192.2" width="98.0" height="15.1" fill="#febec2"/>
<rect x="1806.1" y="192.2" width="39.6" height="15.1" fill="#ffe0e2"/>
<rect x="1541.4" y="207.3" width="10.0" height="22.5" fill="#ffcfd3"/>
<rect x="1551.4" y="207.3" width="91.9" height="22.5" fill="#4e5baa"/>
<rect x="1643.3" y="207.3" width="15.5" height="22.5" fill="#ffe0e2"/>
<rect x="1658.9" y="207.3" width="23.1" height="22.5" fill="#ec443e"/>
<rect x="1682.0" y="207.3" width="20.1" height="22.5" fill="#fec6ca"/>
<rect x="1702.1" y="207.3" width="6.1" height="22.5" fill="#ffeff1"/>
<rect x="1708.2" y="207.3" width="98.0" height="22.5" fill="#d4d6ee"/>
<rect x="1806.1" y="207.3" width="39.6" height="22.5" fill="#737cbf"/>
<rect x="1541.4" y="229.8" width="10.0" height="19.5" fill="#ffe0e2"/>
<rect x="1551.4" y="229.8" width="91.9" height="19.5" fill="#5662af"/>
<rect x="1643.3" y="229.8" width="15.5" height="19.5" fill="#ffe8e9"/>
<rect x="1658.9" y="229.8" width="23.1" height="19.5" fill="#fec6ca"/>
<rect x="1682.0" y="229.8" width="20.1" height="19.5" fill="#e9372f"/>
<rect x="1702.1" y="229.8" width="6.1" height="19.5" fill="#ffeff1"/>
<rect x="1708.2" y="229.8" width="98.0" height="19.5" fill="#dddef2"/>
<rect x="1806.1" y="229.8" width="39.6" height="19.5" fill="#7e85c5"/>
<rect x="1541.4" y="249.3" width="10.0" height="5.9" fill="#fff7f8"/>
<rect x="1551.4" y="249.3" width="91.9" height="5.9" fill="#fff7f8"/>
<rect x="1643.3" y="249.3" width="15.5" height="5.9" fill="#ffeff1"/>
<rect x="1658.9" y="249.3" width="23.1" height="5.9" fill="#ffeff1"/>
<rect x="1682.0" y="249.3" width="20.1" height="5.9" fill="#ffeff1"/>
<rect x="1702.1" y="249.3" width="6.1" height="5.9" fill="#ffe0e2"/>
<rect x="1708.2" y="249.3" width="98.0" height="5.9" fill="#fff7f8"/>
<rect x="1806.1" y="249.3" width="39.6" height="5.9" fill="#ffffff"/>
<rect x="1541.4" y="255.3" width="10.0" height="95.3" fill="#c4c5e8"/>
<rect x="1551.4" y="255.3" width="91.9" height="95.3" fill="#ffcfd3"/>
<rect x="1643.3" y="255.3" width="15.5" height="95.3" fill="#febec2"/>
<rect x="1658.9" y="255.3" width="23.1" height="95.3" fill="#d4d6ee"/>
<rect x="1682.0" y="255.3" width="20.1" height="95.3" fill="#dddef2"/>
<rect x="1702.1" y="255.3" width="6.1" height="95.3" fill="#fff7f8"/>
<rect x="1708.2" y="255.3" width="98.0" height="95.3" fill="#eb3f38"/>
<rect x="1806.1" y="255.3" width="39.6" height="95.3" fill="#fa8d90"/>
<rect x="1541.4" y="350.5" width="10.0" height="38.5" fill="#9499d2"/>
<rect x="1551.4" y="350.5" width="91.9" height="38.5" fill="#fec6ca"/>
<rect x="1643.3" y="350.5" width="15.5" height="38.5" fill="#ffe0e2"/>
<rect x="1658.9" y="350.5" width="23.1" height="38.5" fill="#737cbf"/>
<rect x="1682.0" y="350.5" width="20.1" height="38.5" fill="#7e85c5"/>
<rect x="1702.1" y="350.5" width="6.1" height="38.5" fill="#ffffff"/>
<rect x="1708.2" y="350.5" width="98.0" height="38.5" fill="#fa8d90"/>
<rect x="1806.1" y="350.5" width="39.6" height="38.5" fill="#ec443e"/>
<rect x="1541.4" y="93.1" width="2.77" height="295.9" fill="#ffffff" fill-opacity="0.15"/>
<rect x="1541.4" y="93.1" width="304.3" height="2.69" fill="#ffffff" fill-opacity="0.15"/>
<rect x="1544.2" y="93.1" width="2.77" height="295.9" fill="#ffffff" fill-opacity="0.25"/>
<rect x="1541.4" y="95.8" width="304.3" height="2.69" fill="#ffffff" fill-opacity="0.25"/>
<rect x="1549.7" y="93.1" width="2.77" height="295.9" fill="#ec3e36" fill-opacity="0.15"/>
<rect x="1541.4" y="101.2" width="304.3" height="2.69" fill="#ec3e36" fill-opacity="0.15"/>
<rect x="1552.5" y="93.1" width="2.77" height="295.9" fill="#ffffff" fill-opacity="0.21"/>
<rect x="1541.4" y="103.9" width="304.3" height="2.69" fill="#ffffff" fill-opacity="0.21"/>
<rect x="1555.2" y="93.1" width="2.77" height="295.9" fill="#ffffff" fill-opacity="0.15"/>
<rect x="1541.4" y="106.5" width="304.3" height="2.69" fill="#ffffff" fill-opacity="0.15"/>
<rect x="1558.0" y="93.1" width="2.77" height="295.9" fill="#ffffff" fill-opacity="0.10"/>
<rect x="1541.4" y="109.2" width="304.3" height="2.69" fill="#ffffff" fill-opacity="0.10"/>
<rect x="1560.8" y="93.1" width="2.77" height="295.9" fill="#ffffff" fill-opacity="0.16"/>
<rect x="1541.4" y="111.9" width="304.3" height="2.69" fill="#ffffff" fill-opacity="0.16"/>
<rect x="1563.5" y="93.1" width="2.77" height="295.9" fill="#ec3e36" fill-opacity="0.05"/>
<rect x="1541.4" y="114.6" width="304.3" height="2.69" fill="#ec3e36" fill-opacity="0.05"/>
<rect x="1566.3" y="93.1" width="2.77" height="295.9" fill="#ffffff" fill-opacity="0.11"/>
<rect x="1541.4" y="117.3" width="304.3" height="2.69" fill="#ffffff" fill-opacity="0.11"/>
<rect x="1569.1" y="93.1" width="2.77" height="295.9" fill="#ffffff" fill-opacity="0.10"/>
<rect x="1541.4" y="120.0" width="304.3" height="2.69" fill="#ffffff" fill-opacity="0.10"/>
<rect x="1571.8" y="93.1" width="2.77" height="295.9" fill="#ec3e36" fill-opacity="0.08"/>
<rect x="1541.4" y="122.7" width="304.3" height="2.69" fill="#ec3e36" fill-opacity="0.08"/>
<rect x="1574.6" y="93.1" width="2.77" height="295.9" fill="#ffffff" fill-opacity="0.11"/>
<rect x="1541.4" y="125.4" width="304.3" height="2.69" fill="#ffffff" fill-opacity="0.11"/>
<rect x="1577.4" y="93.1" width="2.77" height="295.9" fill="#ec3e36" fill-opacity="0.06"/>
<rect x="1541.4" y="128.1" width="304.3" height="2.69" fill="#ec3e36" fill-opacity="0.06"/>
<rect x="1580.1" y="93.1" width="2.77" height="295.9" fill="#ffffff" fill-opacity="0.14"/>
<rect x="1541.4" y="130.8" width="304.3" height="2.69" fill="#ffffff" fill-opacity="0.14"/>
<rect x="1582.9" y="93.1" width="2.77" height="295.9" fill="#ffffff" fill-opacity="0.17"/>
<rect x="1541.4" y="133.4" width="304.3" height="2.69" fill="#ffffff" fill-opacity="0.17"/>
<rect x="1585.7" y="93.1" width="2.77" height="295.9" fill="#ffffff" fill-opacity="0.26"/>
<rect x="1541.4" y="136.1" width="304.3" height="2.69" fill="#ffffff" fill-opacity="0.26"/>
<rect x="1588.4" y="93.1" width="2.77" height="295.9" fill="#ec3e36" fill-opacity="0.26"/>
<rect x="1541.4" y="138.8" width="304.3" height="2.69" fill="#ec3e36" fill-opacity="0.26"/>
<rect x="1591.2" y="93.1" width="2.77" height="295.9" fill="#ffffff" fill-opacity="0.04"/>
<rect x="1541.4" y="141.5" width="304.3" height="2.69" fill="#ffffff" fill-opacity="0.04"/>
<rect x="1594.0" y="93.1" width="2.77" height="295.9" fill="#ec3e36" fill-opacity="0.03"/>
<rect x="1541.4" y="144.2" width="304.3" height="2.69" fill="#ec3e36" fill-opacity="0.03"/>
<rect x="1605.0" y="93.1" width="2.77" height="295.9" fill="#ec3e36" fill-opacity="0.27"/>
<rect x="1541.4" y="155.0" width="304.3" height="2.69" fill="#ec3e36" fill-opacity="0.27"/>
<rect x="1607.8" y="93.1" width="2.77" height="295.9" fill="#ffffff" fill-opacity="0.15"/>
<rect x="1541.4" y="157.7" width="304.3" height="2.69" fill="#ffffff" fill-opacity="0.15"/>
<rect x="1610.6" y="93.1" width="2.77" height="295.9" fill="#ffffff" fill-opacity="0.22"/>
<rect x="1541.4" y="160.3" width="304.3" height="2.69" fill="#ffffff" fill-opacity="0.22"/>
<rect x="1613.3" y="93.1" width="2.77" height="295.9" fill="#ffffff" fill-opacity="0.14"/>
<rect x="1541.4" y="163.0" width="304.3" height="2.69" fill="#ffffff" fill-opacity="0.14"/>
<rect x="1616.1" y="93.1" width="2.77" height="295.9" fill="#ffffff" fill-opacity="0.19"/>
<rect x="1541.4" y="165.7" width="304.3" height="2.69" fill="#ffffff" fill-opacity="0.19"/>
<rect x="1618.9" y="93.1" width="2.77" height="295.9" fill="#ec3e36" fill-opacity="0.10"/>
<rect x="1541.4" y="168.4" width="304.3" height="2.69" fill="#ec3e36" fill-opacity="0.10"/>
<rect x="1621.6" y="93.1" width="2.77" height="295.9" fill="#ec3e36" fill-opacity="0.11"/>
<rect x="1541.4" y="171.1" width="304.3" height="2.69" fill="#ec3e36" fill-opacity="0.11"/>
<rect x="1624.4" y="93.1" width="2.77" height="295.9" fill="#ffffff" fill-opacity="0.13"/>
<rect x="1541.4" y="173.8" width="304.3" height="2.69" fill="#ffffff" fill-opacity="0.13"/>
<rect x="1627.2" y="93.1" width="2.77" height="295.9" fill="#ffffff" fill-opacity="0.19"/>
<rect x="1541.4" y="176.5" width="304.3" height="2.69" fill="#ffffff" fill-opacity="0.19"/>
<rect x="1629.9" y="93.1" width="2.77" height="295.9" fill="#ffffff" fill-opacity="0.05"/>
<rect x="1541.4" y="179.2" width="304.3" height="2.69" fill="#ffffff" fill-opacity="0.05"/>
<rect x="1632.7" y="93.1" width="2.77" height="295.9" fill="#ec3e36" fill-opacity="0.19"/>
<rect x="1541.4" y="181.9" width="304.3" height="2.69" fill="#ec3e36" fill-opacity="0.19"/>
<rect x="1635.5" y="93.1" width="2.77" height="295.9" fill="#ffffff" fill-opacity="0.39"/>
<rect x="1541.4" y="184.6" width="304.3" height="2.69" fill="#ffffff" fill-opacity="0.39"/>
<rect x="1638.2" y="93.1" width="2.77" height="295.9" fill="#ec3e36" fill-opacity="0.07"/>
<rect x="1541.4" y="187.2" width="304.3" height="2.69" fill="#ec3e36" fill-opacity="0.07"/>
<rect x="1641.0" y="93.1" width="2.77" height="295.9" fill="#ffffff" fill-opacity="0.15"/>
<rect x="1541.4" y="189.9" width="304.3" height="2.69" fill="#ffffff" fill-opacity="0.15"/>
<rect x="1643.8" y="93.1" width="2.77" height="295.9" fill="#ec3e36" fill-opacity="0.15"/>
<rect x="1541.4" y="192.6" width="304.3" height="2.69" fill="#ec3e36" fill-opacity="0.15"/>
<rect x="1646.5" y="93.1" width="2.77" height="295.9" fill="#ffffff" fill-opacity="0.15"/>
<rect x="1541.4" y="195.3" width="304.3" height="2.69" fill="#ffffff" fill-opacity="0.15"/>
<rect x="1649.3" y="93.1" width="2.77" height="295.9" fill="#ffffff" fill-opacity="0.04"/>
<rect x="1541.4" y="198.0" width="304.3" height="2.69" fill="#ffffff" fill-opacity="0.04"/>
<rect x="1652.1" y="93.1" width="2.77" height="295.9" fill="#ffffff" fill-opacity="0.21"/>
<rect x="1541.4" y="200.7" width="304.3" height="2.69" fill="#ffffff" fill-opacity="0.21"/>
<rect x="1654.8" y="93.1" width="2.77" height="295.9" fill="#ffffff" fill-opacity="0.14"/>
<rect x="1541.4" y="203.4" width="304.3" height="2.69" fill="#ffffff" fill-opacity="0.14"/>
<rect x="1657.6" y="93.1" width="2.77" height="295.9" fill="#ec3e36" fill-opacity="0.19"/>
<rect x="1541.4" y="206.1" width="304.3" height="2.69" fill="#ec3e36" fill-opacity="0.19"/>
<rect x="1660.4" y="93.1" width="2.77" height="295.9" fill="#ec3e36" fill-opacity="0.11"/>
<rect x="1541.4" y="208.8" width="304.3" height="2.69" fill="#ec3e36" fill-opacity="0.11"/>
<rect x="1663.1" y="93.1" width="2.77" height="295.9" fill="#ffffff" fill-opacity="0.06"/>
<rect x="1541.4" y="211.5" width="304.3" height="2.69" fill="#ffffff" fill-opacity="0.06"/>
<rect x="1665.9" y="93.1" width="2.77" height="295.9" fill="#ffffff" fill-opacity="0.12"/>
<rect x="1541.4" y="214.1" width="304.3" height="2.69" fill="#ffffff" fill-opacity="0.12"/>
<rect x="1668.7" y="93.1" width="2.77" height="295.9" fill="#ffffff" fill-opacity="0.27"/>
<rect x="1541.4" y="216.8" width="304.3" height="2.69" fill="#ffffff" fill-opacity="0.27"/>
<rect x="1671.4" y="93.1" width="2.77" height="295.9" fill="#ffffff" fill-opacity="0.06"/>
<rect x="1541.4" y="219.5" width="304.3" height="2.69" fill="#ffffff" fill-opacity="0.06"/>
<rect x="1682.5" y="93.1" width="2.77" height="295.9" fill="#ffffff" fill-opacity="0.16"/>
<rect x="1541.4" y="230.3" width="304.3" height="2.69" fill="#ffffff" fill-opacity="0.16"/>
<rect x="1690.8" y="93.1" width="2.77" height="295.9" fill="#ec3e36" fill-opacity="0.18"/>
<rect x="1541.4" y="238.4" width="304.3" height="2.69" fill="#ec3e36" fill-opacity="0.18"/>
<rect x="1693.6" y="93.1" width="2.77" height="295.9" fill="#ec3e36" fill-opacity="0.26"/>
<rect x="1541.4" y="241.0" width="304.3" height="2.69" fill="#ec3e36" fill-opacity="0.26"/>
<rect x="1699.1" y="93.1" width="2.77" height="295.9" fill="#ffffff" fill-opacity="0.11"/>
<rect x="1541.4" y="246.4" width="304.3" height="2.69" fill="#ffffff" fill-opacity="0.11"/>
<rect x="1704.6" y="93.1" width="2.77" height="295.9" fill="#ffffff" fill-opacity="0.09"/>
<rect x="1541.4" y="251.8" width="304.3" height="2.69" fill="#ffffff" fill-opacity="0.09"/>
<rect x="1707.4" y="93.1" width="2.77" height="295.9" fill="#ffffff" fill-opacity="0.10"/>
<rect x="1541.4" y="254.5" width="304.3" height="2.69" fill="#ffffff" fill-opacity="0.10"/>
<rect x="1712.9" y="93.1" width="2.77" height="295.9" fill="#ffffff" fill-opacity="0.15"/>
<rect x="1541.4" y="259.9" width="304.3" height="2.69" fill="#ffffff" fill-opacity="0.15"/>
<rect x="1715.7" y="93.1" width="2.77" height="295.9" fill="#ec3e36" fill-opacity="0.08"/>
<rect x="1541.4" y="262.6" width="304.3" height="2.69" fill="#ec3e36" fill-opacity="0.08"/>
<rect x="1721.2" y="93.1" width="2.77" height="295.9" fill="#ec3e36" fill-opacity="0.04"/>
<rect x="1541.4" y="267.9" width="304.3" height="2.69" fill="#ec3e36" fill-opacity="0.04"/>
<rect x="1726.7" y="93.1" width="2.77" height="295.9" fill="#ffffff" fill-opacity="0.10"/>
<rect x="1541.4" y="273.3" width="304.3" height="2.69" fill="#ffffff" fill-opacity="0.10"/>
<rect x="1729.5" y="93.1" width="2.77" height="295.9" fill="#ffffff" fill-opacity="0.13"/>
<rect x="1541.4" y="276.0" width="304.3" height="2.69" fill="#ffffff" fill-opacity="0.13"/>
<rect x="1732.3" y="93.1" width="2.77" height="295.9" fill="#ffffff" fill-opacity="0.03"/>
<rect x="1541.4" y="278.7" width="304.3" height="2.69" fill="#ffffff" fill-opacity="0.03"/>
<rect x="1735.0" y="93.1" width="2.77" height="295.9" fill="#ffffff" fill-opacity="0.08"/>
<rect x="1541.4" y="281.4" width="304.3" height="2.69" fill="#ffffff" fill-opacity="0.08"/>
<rect x="1737.8" y="93.1" width="2.77" height="295.9" fill="#ec3e36" fill-opacity="0.03"/>
<rect x="1541.4" y="284.1" width="304.3" height="2.69" fill="#ec3e36" fill-opacity="0.03"/>
<rect x="1743.3" y="93.1" width="2.77" height="295.9" fill="#ffffff" fill-opacity="0.19"/>
<rect x="1541.4" y="289.5" width="304.3" height="2.69" fill="#ffffff" fill-opacity="0.19"/>
<rect x="1748.9" y="93.1" width="2.77" height="295.9" fill="#ffffff" fill-opacity="0.19"/>
<rect x="1541.4" y="294.9" width="304.3" height="2.69" fill="#ffffff" fill-opacity="0.19"/>
<rect x="1751.6" y="93.1" width="2.77" height="295.9" fill="#ffffff" fill-opacity="0.09"/>
<rect x="1541.4" y="297.5" width="304.3" height="2.69" fill="#ffffff" fill-opacity="0.09"/>
<rect x="1754.4" y="93.1" width="2.77" height="295.9" fill="#ffffff" fill-opacity="0.04"/>
<rect x="1541.4" y="300.2" width="304.3" height="2.69" fill="#ffffff" fill-opacity="0.04"/>
<rect x="1757.2" y="93.1" width="2.77" height="295.9" fill="#ffffff" fill-opacity="0.29"/>
<rect x="1541.4" y="302.9" width="304.3" height="2.69" fill="#ffffff" fill-opacity="0.29"/>
<rect x="1768.2" y="93.1" width="2.77" height="295.9" fill="#ffffff" fill-opacity="0.06"/>
<rect x="1541.4" y="313.7" width="304.3" height="2.69" fill="#ffffff" fill-opacity="0.06"/>
<rect x="1771.0" y="93.1" width="2.77" height="295.9" fill="#ffffff" fill-opacity="0.05"/>
<rect x="1541.4" y="316.4" width="304.3" height="2.69" fill="#ffffff" fill-opacity="0.05"/>
<rect x="1773.8" y="93.1" width="2.77" height="295.9" fill="#ffffff" fill-opacity="0.14"/>
<rect x="1541.4" y="319.1" width="304.3" height="2.69" fill="#ffffff" fill-opacity="0.14"/>
<rect x="1776.5" y="93.1" width="2.77" height="295.9" fill="#ffffff" fill-opacity="0.04"/>
<rect x="1541.4" y="321.8" width="304.3" height="2.69" fill="#ffffff" fill-opacity="0.04"/>
<rect x="1779.3" y="93.1" width="2.77" height="295.9" fill="#ffffff" fill-opacity="0.08"/>
<rect x="1541.4" y="324.4" width="304.3" height="2.69" fill="#ffffff" fill-opacity="0.08"/>
<rect x="1784.8" y="93.1" width="2.77" height="295.9" fill="#ffffff" fill-opacity="0.17"/>
<rect x="1541.4" y="329.8" width="304.3" height="2.69" fill="#ffffff" fill-opacity="0.17"/>
<rect x="1787.6" y="93.1" width="2.77" height="295.9" fill="#ec3e36" fill-opacity="0.03"/>
<rect x="1541.4" y="332.5" width="304.3" height="2.69" fill="#ec3e36" fill-opacity="0.03"/>
<rect x="1795.9" y="93.1" width="2.77" height="295.9" fill="#ffffff" fill-opacity="0.06"/>
<rect x="1541.4" y="340.6" width="304.3" height="2.69" fill="#ffffff" fill-opacity="0.06"/>
<rect x="1798.7" y="93.1" width="2.77" height="295.9" fill="#ec3e36" fill-opacity="0.08"/>
<rect x="1541.4" y="343.3" width="304.3" height="2.69" fill="#ec3e36" fill-opacity="0.08"/>
<rect x="1801.4" y="93.1" width="2.77" height="295.9" fill="#ffffff" fill-opacity="0.23"/>
<rect x="1541.4" y="346.0" width="304.3" height="2.69" fill="#ffffff" fill-opacity="0.23"/>
<rect x="1804.2" y="93.1" width="2.77" height="295.9" fill="#ec3e36" fill-opacity="0.06"/>
<rect x="1541.4" y="348.6" width="304.3" height="2.69" fill="#ec3e36" fill-opacity="0.06"/>
<rect x="1807.0" y="93.1" width="2.77" height="295.9" fill="#ec3e36" fill-opacity="0.03"/>
<rect x="1541.4" y="351.3" width="304.3" height="2.69" fill="#ec3e36" fill-opacity="0.03"/>
<rect x="1809.7" y="93.1" width="2.77" height="295.9" fill="#ec3e36" fill-opacity="0.04"/>
<rect x="1541.4" y="354.0" width="304.3" height="2.69" fill="#ec3e36" fill-opacity="0.04"/>
<rect x="1812.5" y="93.1" width="2.77" height="295.9" fill="#ec3e36" fill-opacity="0.05"/>
<rect x="1541.4" y="356.7" width="304.3" height="2.69" fill="#ec3e36" fill-opacity="0.05"/>
<rect x="1815.3" y="93.1" width="2.77" height="295.9" fill="#ffffff" fill-opacity="0.09"/>
<rect x="1541.4" y="359.4" width="304.3" height="2.69" fill="#ffffff" fill-opacity="0.09"/>
<rect x="1818.0" y="93.1" width="2.77" height="295.9" fill="#ffffff" fill-opacity="0.04"/>
<rect x="1541.4" y="362.1" width="304.3" height="2.69" fill="#ffffff" fill-opacity="0.04"/>
<rect x="1820.8" y="93.1" width="2.77" height="295.9" fill="#ec3e36" fill-opacity="0.09"/>
<rect x="1541.4" y="364.8" width="304.3" height="2.69" fill="#ec3e36" fill-opacity="0.09"/>
<rect x="1823.6" y="93.1" width="2.77" height="295.9" fill="#ec3e36" fill-opacity="0.06"/>
<rect x="1541.4" y="367.5" width="304.3" height="2.69" fill="#ec3e36" fill-opacity="0.06"/>
<rect x="1829.1" y="93.1" width="2.77" height="295.9" fill="#ffffff" fill-opacity="0.21"/>
<rect x="1541.4" y="372.9" width="304.3" height="2.69" fill="#ffffff" fill-opacity="0.21"/>
<rect x="1831.9" y="93.1" width="2.77" height="295.9" fill="#ec3e36" fill-opacity="0.08"/>
<rect x="1541.4" y="375.5" width="304.3" height="2.69" fill="#ec3e36" fill-opacity="0.08"/>
<rect x="1834.6" y="93.1" width="2.77" height="295.9" fill="#ec3e36" fill-opacity="0.16"/>
<rect x="1541.4" y="378.2" width="304.3" height="2.69" fill="#ec3e36" fill-opacity="0.16"/>
<rect x="1837.4" y="93.1" width="2.77" height="295.9" fill="#ec3e36" fill-opacity="0.14"/>
<rect x="1541.4" y="380.9" width="304.3" height="2.69" fill="#ec3e36" fill-opacity="0.14"/>
<rect x="1840.2" y="93.1" width="2.77" height="295.9" fill="#ec3e36" fill-opacity="0.03"/>
<rect x="1541.4" y="383.6" width="304.3" height="2.69" fill="#ec3e36" fill-opacity="0.03"/>
<rect x="1842.9" y="93.1" width="2.77" height="295.9" fill="#ffffff" fill-opacity="0.22"/>
<rect x="1541.4" y="386.3" width="304.3" height="2.69" fill="#ffffff" fill-opacity="0.22"/>
<defs><pattern id="sp1541_0" width="30.430" height="30.430" patternUnits="userSpaceOnUse" x="1541.40" y="93.10"><rect x="2.77" y="0.00" width="2.77" height="2.77" fill="#fff" fill-opacity="0.77"/><rect x="2.77" y="2.77" width="2.77" height="2.77" fill="#fff" fill-opacity="0.71"/><rect x="19.36" y="2.77" width="2.77" height="2.77" fill="#fff" fill-opacity="0.42"/><rect x="22.13" y="2.77" width="2.77" height="2.77" fill="#fff" fill-opacity="0.50"/><rect x="13.83" y="5.53" width="2.77" height="2.77" fill="#fff" fill-opacity="0.74"/><rect x="19.36" y="5.53" width="2.77" height="2.77" fill="#fff" fill-opacity="0.75"/><rect x="24.90" y="5.53" width="2.77" height="2.77" fill="#fff" fill-opacity="0.48"/><rect x="5.53" y="8.30" width="2.77" height="2.77" fill="#fff" fill-opacity="0.76"/><rect x="8.30" y="8.30" width="2.77" height="2.77" fill="#fff" fill-opacity="0.61"/><rect x="11.07" y="8.30" width="2.77" height="2.77" fill="#fff" fill-opacity="0.63"/><rect x="16.60" y="8.30" width="2.77" height="2.77" fill="#fff" fill-opacity="0.49"/><rect x="27.66" y="11.07" width="2.77" height="2.77" fill="#fff" fill-opacity="0.83"/><rect x="2.77" y="13.83" width="2.77" height="2.77" fill="#fff" fill-opacity="0.72"/><rect x="22.13" y="13.83" width="2.77" height="2.77" fill="#fff" fill-opacity="0.46"/><rect x="27.66" y="13.83" width="2.77" height="2.77" fill="#fff" fill-opacity="0.38"/><rect x="2.77" y="16.60" width="2.77" height="2.77" fill="#fff" fill-opacity="0.72"/><rect x="16.60" y="16.60" width="2.77" height="2.77" fill="#fff" fill-opacity="0.41"/><rect x="27.66" y="16.60" width="2.77" height="2.77" fill="#fff" fill-opacity="0.65"/><rect x="5.53" y="19.36" width="2.77" height="2.77" fill="#fff" fill-opacity="0.61"/><rect x="13.83" y="19.36" width="2.77" height="2.77" fill="#fff" fill-opacity="0.48"/><rect x="0.00" y="22.13" width="2.77" height="2.77" fill="#fff" fill-opacity="0.55"/><rect x="2.77" y="22.13" width="2.77" height="2.77" fill="#fff" fill-opacity="0.39"/><rect x="2.77" y="24.90" width="2.77" height="2.77" fill="#fff" fill-opacity="0.64"/><rect x="8.30" y="24.90" width="2.77" height="2.77" fill="#fff" fill-opacity="0.66"/><rect x="13.83" y="24.90" width="2.77" height="2.77" fill="#fff" fill-opacity="0.62"/><rect x="5.53" y="27.66" width="2.77" height="2.77" fill="#fff" fill-opacity="0.76"/><rect x="11.07" y="27.66" width="2.77" height="2.77" fill="#fff" fill-opacity="0.47"/><rect x="13.83" y="27.66" width="2.77" height="2.77" fill="#fff" fill-opacity="0.77"/><rect x="19.36" y="27.66" width="2.77" height="2.77" fill="#fff" fill-opacity="0.52"/><rect x="22.13" y="27.66" width="2.77" height="2.77" fill="#fff" fill-opacity="0.58"/><rect x="27.66" y="27.66" width="2.77" height="2.77" fill="#fff" fill-opacity="0.44"/></pattern><pattern id="sp1541_1" width="35.963" height="35.963" patternUnits="userSpaceOnUse" x="1541.40" y="93.10"><rect x="11.07" y="0.00" width="2.77" height="2.77" fill="#fff" fill-opacity="0.53"/><rect x="19.36" y="0.00" width="2.77" height="2.77" fill="#fff" fill-opacity="0.75"/><rect x="27.66" y="0.00" width="2.77" height="2.77" fill="#fff" fill-opacity="0.79"/><rect x="30.43" y="0.00" width="2.77" height="2.77" fill="#fff" fill-opacity="0.58"/><rect x="2.77" y="2.77" width="2.77" height="2.77" fill="#fff" fill-opacity="0.42"/><rect x="8.30" y="2.77" width="2.77" height="2.77" fill="#fff" fill-opacity="0.46"/><rect x="11.07" y="2.77" width="2.77" height="2.77" fill="#fff" fill-opacity="0.58"/><rect x="22.13" y="2.77" width="2.77" height="2.77" fill="#fff" fill-opacity="0.52"/><rect x="16.60" y="5.53" width="2.77" height="2.77" fill="#fff" fill-opacity="0.57"/><rect x="24.90" y="5.53" width="2.77" height="2.77" fill="#fff" fill-opacity="0.71"/><rect x="30.43" y="5.53" width="2.77" height="2.77" fill="#fff" fill-opacity="0.84"/><rect x="0.00" y="8.30" width="2.77" height="2.77" fill="#fff" fill-opacity="0.80"/><rect x="2.77" y="8.30" width="2.77" height="2.77" fill="#fff" fill-opacity="0.40"/><rect x="11.07" y="8.30" width="2.77" height="2.77" fill="#fff" fill-opacity="0.81"/><rect x="16.60" y="8.30" width="2.77" height="2.77" fill="#fff" fill-opacity="0.63"/><rect x="33.20" y="8.30" width="2.77" height="2.77" fill="#fff" fill-opacity="0.76"/><rect x="11.07" y="13.83" width="2.77" height="2.77" fill="#fff" fill-opacity="0.38"/><rect x="13.83" y="16.60" width="2.77" height="2.77" fill="#fff" fill-opacity="0.70"/><rect x="24.90" y="16.60" width="2.77" height="2.77" fill="#fff" fill-opacity="0.55"/><rect x="5.53" y="19.36" width="2.77" height="2.77" fill="#fff" fill-opacity="0.70"/><rect x="8.30" y="19.36" width="2.77" height="2.77" fill="#fff" fill-opacity="0.83"/><rect x="33.20" y="19.36" width="2.77" height="2.77" fill="#fff" fill-opacity="0.61"/><rect x="11.07" y="22.13" width="2.77" height="2.77" fill="#fff" fill-opacity="0.37"/><rect x="16.60" y="22.13" width="2.77" height="2.77" fill="#fff" fill-opacity="0.45"/><rect x="22.13" y="22.13" width="2.77" height="2.77" fill="#fff" fill-opacity="0.37"/><rect x="0.00" y="24.90" width="2.77" height="2.77" fill="#fff" fill-opacity="0.47"/><rect x="11.07" y="24.90" width="2.77" height="2.77" fill="#fff" fill-opacity="0.51"/><rect x="13.83" y="24.90" width="2.77" height="2.77" fill="#fff" fill-opacity="0.46"/><rect x="16.60" y="24.90" width="2.77" height="2.77" fill="#fff" fill-opacity="0.41"/><rect x="22.13" y="24.90" width="2.77" height="2.77" fill="#fff" fill-opacity="0.43"/><rect x="33.20" y="24.90" width="2.77" height="2.77" fill="#fff" fill-opacity="0.75"/><rect x="8.30" y="27.66" width="2.77" height="2.77" fill="#fff" fill-opacity="0.48"/><rect x="24.90" y="27.66" width="2.77" height="2.77" fill="#fff" fill-opacity="0.80"/><rect x="27.66" y="27.66" width="2.77" height="2.77" fill="#fff" fill-opacity="0.41"/><rect x="5.53" y="30.43" width="2.77" height="2.77" fill="#fff" fill-opacity="0.37"/><rect x="27.66" y="30.43" width="2.77" height="2.77" fill="#fff" fill-opacity="0.57"/><rect x="19.36" y="33.20" width="2.77" height="2.77" fill="#fff" fill-opacity="0.37"/><rect x="27.66" y="33.20" width="2.77" height="2.77" fill="#fff" fill-opacity="0.61"/></pattern></defs>
<rect x="1541.4" y="93.1" width="304.3" height="295.9" fill="url(#sp1541_0)" opacity="0.45"/>
<rect x="1541.4" y="93.1" width="304.3" height="295.9" fill="url(#sp1541_1)" opacity="0.45"/>
<line x1="1541.4" y1="93.1" x2="1845.7" y2="389.0" stroke="#d42a22" stroke-width="1.7" stroke-opacity="1.00"/>
</g>
<text x="1856.3" y="100.0" font-size="23.9">Spearman&#8217;s <tspan font-style="italic">r</tspan></text>
<rect x="1859.5" y="104.5" width="131.5" height="15.9" fill="url(#cbarc)" stroke="#000" stroke-width="2.2"/>
<line x1="1866.6" y1="120.4" x2="1866.6" y2="123.4" stroke="#000" stroke-width="1.6"/>
<text x="1870.8" y="145.1" font-size="22.8" text-anchor="middle">0.2</text>
<line x1="1928.9" y1="120.4" x2="1928.9" y2="123.4" stroke="#000" stroke-width="1.6"/>
<text x="1935.2" y="145.1" font-size="22.8" text-anchor="middle">0.6</text>
<line x1="1991.0" y1="120.4" x2="1991.0" y2="123.4" stroke="#000" stroke-width="1.6"/>
<text x="1990.5" y="145.1" font-size="22.8" text-anchor="middle">1</text>
<rect x="1860.0" y="171.5" width="15.5" height="15.5" fill="#F5A02F" stroke="#000" stroke-width="2"/>
<text x="1886.0" y="188.0" font-size="23.5">Head</text>
<rect x="1860.0" y="195.3" width="15.5" height="15.5" fill="#3A8044" stroke="#000" stroke-width="2"/>
<text x="1886.0" y="211.8" font-size="23.5">Forelimb</text>
<rect x="1860.0" y="219.1" width="15.5" height="15.5" fill="#C8322E" stroke="#000" stroke-width="2"/>
<text x="1886.0" y="235.6" font-size="23.5">Trunk</text>
<rect x="1860.0" y="242.9" width="15.5" height="15.5" fill="#3A84B3" stroke="#000" stroke-width="2"/>
<text x="1886.0" y="259.4" font-size="23.5">Hindlimb</text>
<g>
<ellipse cx="1691.9" cy="475.6" rx="120.6" ry="38.4" transform="rotate(8.3 1691.9 475.6)" fill="#c2502f" fill-opacity="0.25" stroke="#CF2A30" stroke-width="2.0"/>
<ellipse cx="1786.1" cy="500.8" rx="79.9" ry="50.0" transform="rotate(-66.8 1786.1 500.8)" fill="#53703a" fill-opacity="0.25" stroke="#2E7D3E" stroke-width="2.0"/>
<ellipse cx="1721.0" cy="597.3" rx="77.9" ry="38.6" transform="rotate(66.6 1721.0 597.3)" fill="#5a7ca8" fill-opacity="0.25" stroke="#2C86BC" stroke-width="2.0"/>
<circle cx="1647.3" cy="486.4" r="5.0" fill="#D0343A"/>
<circle cx="1649.5" cy="482.0" r="5.0" fill="#D0343A"/>
<circle cx="1651.7" cy="477.6" r="5.0" fill="#D0343A"/>
<circle cx="1653.9" cy="474.2" r="5.0" fill="#D0343A"/>
<circle cx="1657.3" cy="470.9" r="5.0" fill="#D0343A"/>
<circle cx="1660.6" cy="470.5" r="5.0" fill="#D0343A"/>
<circle cx="1665.0" cy="472.0" r="5.0" fill="#D0343A"/>
<circle cx="1668.3" cy="475.3" r="5.0" fill="#D0343A"/>
<circle cx="1671.7" cy="476.5" r="5.0" fill="#D0343A"/>
<circle cx="1682.7" cy="473.1" r="5.0" fill="#D0343A"/>
<circle cx="1686.1" cy="470.9" r="5.0" fill="#D0343A"/>
<circle cx="1691.6" cy="458.7" r="5.0" fill="#D0343A"/>
<circle cx="1693.8" cy="463.2" r="5.0" fill="#D0343A"/>
<circle cx="1696.0" cy="466.5" r="5.0" fill="#D0343A"/>
<circle cx="1700.5" cy="465.4" r="5.0" fill="#D0343A"/>
<circle cx="1704.9" cy="467.6" r="5.0" fill="#D0343A"/>
<circle cx="1707.1" cy="464.3" r="5.0" fill="#D0343A"/>
<circle cx="1709.3" cy="462.0" r="5.0" fill="#D0343A"/>
<circle cx="1732.6" cy="485.3" r="5.0" fill="#D0343A"/>
<circle cx="1735.9" cy="487.5" r="5.0" fill="#D0343A"/>
<circle cx="1740.4" cy="486.4" r="5.0" fill="#D0343A"/>
<circle cx="1745.9" cy="485.3" r="5.0" fill="#D0343A"/>
<circle cx="1762.5" cy="514.1" r="5.0" fill="#D0343A"/>
<circle cx="1800.2" cy="442.1" r="5.0" fill="#3A8046"/>
<circle cx="1801.3" cy="446.5" r="5.0" fill="#3A8046"/>
<circle cx="1803.5" cy="451.0" r="5.0" fill="#3A8046"/>
<circle cx="1805.7" cy="455.4" r="5.0" fill="#3A8046"/>
<circle cx="1804.6" cy="459.8" r="5.0" fill="#3A8046"/>
<circle cx="1802.4" cy="464.3" r="5.0" fill="#3A8046"/>
<circle cx="1804.6" cy="466.5" r="5.0" fill="#3A8046"/>
<circle cx="1750.3" cy="489.7" r="5.0" fill="#3A8046"/>
<circle cx="1755.9" cy="490.9" r="5.0" fill="#3A8046"/>
<circle cx="1758.1" cy="489.7" r="5.0" fill="#3A8046"/>
<circle cx="1744.8" cy="501.9" r="5.0" fill="#3A8046"/>
<circle cx="1749.2" cy="504.2" r="5.0" fill="#3A8046"/>
<circle cx="1753.6" cy="508.6" r="5.0" fill="#3A8046"/>
<circle cx="1758.1" cy="513.0" r="5.0" fill="#3A8046"/>
<circle cx="1759.2" cy="519.7" r="5.0" fill="#3A8046"/>
<circle cx="1783.6" cy="503.0" r="5.0" fill="#3A8046"/>
<circle cx="1789.1" cy="505.3" r="5.0" fill="#3A8046"/>
<circle cx="1793.5" cy="507.5" r="5.0" fill="#3A8046"/>
<circle cx="1795.8" cy="515.2" r="5.0" fill="#3A8046"/>
<circle cx="1798.0" cy="519.7" r="5.0" fill="#3A8046"/>
<circle cx="1804.6" cy="516.3" r="5.0" fill="#3A8046"/>
<circle cx="1811.3" cy="515.2" r="5.0" fill="#3A8046"/>
<circle cx="1815.7" cy="517.4" r="5.0" fill="#3A8046"/>
<circle cx="1817.9" cy="521.9" r="5.0" fill="#3A8046"/>
<circle cx="1817.9" cy="526.3" r="5.0" fill="#3A8046"/>
<circle cx="1691.6" cy="542.9" r="5.0" fill="#2F84B8"/>
<circle cx="1696.0" cy="541.8" r="5.0" fill="#2F84B8"/>
<circle cx="1700.5" cy="542.9" r="5.0" fill="#2F84B8"/>
<circle cx="1689.4" cy="548.5" r="5.0" fill="#2F84B8"/>
<circle cx="1688.3" cy="555.1" r="5.0" fill="#2F84B8"/>
<circle cx="1691.6" cy="564.0" r="5.0" fill="#2F84B8"/>
<circle cx="1693.8" cy="565.1" r="5.0" fill="#2F84B8"/>
<circle cx="1700.5" cy="562.9" r="5.0" fill="#2F84B8"/>
<circle cx="1704.9" cy="564.0" r="5.0" fill="#2F84B8"/>
<circle cx="1711.5" cy="559.6" r="5.0" fill="#2F84B8"/>
<circle cx="1713.8" cy="552.9" r="5.0" fill="#2F84B8"/>
<circle cx="1713.8" cy="568.4" r="5.0" fill="#2F84B8"/>
<circle cx="1718.2" cy="561.8" r="5.0" fill="#2F84B8"/>
<circle cx="1722.6" cy="568.4" r="5.0" fill="#2F84B8"/>
<circle cx="1724.8" cy="572.8" r="5.0" fill="#2F84B8"/>
<circle cx="1729.3" cy="575.1" r="5.0" fill="#2F84B8"/>
<circle cx="1733.7" cy="577.3" r="5.0" fill="#2F84B8"/>
<circle cx="1738.1" cy="575.1" r="5.0" fill="#2F84B8"/>
<circle cx="1709.3" cy="579.5" r="5.0" fill="#2F84B8"/>
<circle cx="1733.7" cy="583.9" r="5.0" fill="#2F84B8"/>
<circle cx="1744.8" cy="586.1" r="5.0" fill="#2F84B8"/>
<circle cx="1747.0" cy="588.4" r="5.0" fill="#2F84B8"/>
<circle cx="1744.8" cy="592.8" r="5.0" fill="#2F84B8"/>
<circle cx="1693.8" cy="603.9" r="5.0" fill="#2F84B8"/>
<circle cx="1696.0" cy="607.2" r="5.0" fill="#2F84B8"/>
<circle cx="1733.7" cy="606.1" r="5.0" fill="#2F84B8"/>
<circle cx="1735.9" cy="608.3" r="5.0" fill="#2F84B8"/>
<circle cx="1739.2" cy="610.5" r="5.0" fill="#2F84B8"/>
<circle cx="1741.5" cy="615.0" r="5.0" fill="#2F84B8"/>
<circle cx="1742.6" cy="618.3" r="5.0" fill="#2F84B8"/>
<circle cx="1738.1" cy="621.6" r="5.0" fill="#2F84B8"/>
<circle cx="1735.9" cy="623.8" r="5.0" fill="#2F84B8"/>
<circle cx="1701.6" cy="626.0" r="5.0" fill="#2F84B8"/>
<circle cx="1704.9" cy="628.2" r="5.0" fill="#2F84B8"/>
<circle cx="1708.2" cy="632.7" r="5.0" fill="#2F84B8"/>
<circle cx="1711.5" cy="636.0" r="5.0" fill="#2F84B8"/>
<circle cx="1709.3" cy="640.4" r="5.0" fill="#2F84B8"/>
<circle cx="1731.5" cy="630.5" r="5.0" fill="#2F84B8"/>
<circle cx="1729.3" cy="634.9" r="5.0" fill="#2F84B8"/>
<circle cx="1732.6" cy="639.3" r="5.0" fill="#2F84B8"/>
<circle cx="1734.8" cy="643.8" r="5.0" fill="#2F84B8"/>
<circle cx="1738.1" cy="648.2" r="5.0" fill="#2F84B8"/>
<circle cx="1740.4" cy="650.4" r="5.0" fill="#2F84B8"/>
<circle cx="1753.6" cy="628.2" r="5.0" fill="#2F84B8"/>
<circle cx="1755.9" cy="632.7" r="5.0" fill="#2F84B8"/>
<circle cx="1758.1" cy="637.1" r="5.0" fill="#2F84B8"/>
<circle cx="1762.5" cy="630.5" r="5.0" fill="#2F84B8"/>
<circle cx="1766.9" cy="627.1" r="5.0" fill="#2F84B8"/>
<circle cx="1798.0" cy="598.3" r="5.0" fill="#F39C33"/>
<circle cx="1800.2" cy="601.7" r="5.0" fill="#F39C33"/>
<circle cx="1799.1" cy="600.5" r="5.0" fill="#F39C33"/>
</g>
<rect x="1564.8" y="416.6" width="285.2" height="260.4" fill="none" stroke="#000" stroke-width="2.3"/>
<line x1="1614.2" y1="677.0" x2="1614.2" y2="682.0" stroke="#000" stroke-width="2"/>
<text x="1614.2" y="707.0" font-size="23.0" text-anchor="middle">&#8722;40</text>
<line x1="1675.6" y1="677.0" x2="1675.6" y2="682.0" stroke="#000" stroke-width="2"/>
<text x="1675.6" y="707.0" font-size="23.0" text-anchor="middle">&#8722;20</text>
<line x1="1737.0" y1="677.0" x2="1737.0" y2="682.0" stroke="#000" stroke-width="2"/>
<text x="1737.0" y="707.0" font-size="23.0" text-anchor="middle">0</text>
<line x1="1798.4" y1="677.0" x2="1798.4" y2="682.0" stroke="#000" stroke-width="2"/>
<text x="1798.4" y="707.0" font-size="23.0" text-anchor="middle">20</text>
<line x1="1559.8" y1="421.7" x2="1564.8" y2="421.7" stroke="#000" stroke-width="2"/>
<text x="1555.3" y="430.0" font-size="23.0" text-anchor="end">30</text>
<line x1="1559.8" y1="461.9" x2="1564.8" y2="461.9" stroke="#000" stroke-width="2"/>
<text x="1555.3" y="470.2" font-size="23.0" text-anchor="end">20</text>
<line x1="1559.8" y1="502.1" x2="1564.8" y2="502.1" stroke="#000" stroke-width="2"/>
<text x="1555.3" y="510.4" font-size="23.0" text-anchor="end">10</text>
<line x1="1559.8" y1="542.3" x2="1564.8" y2="542.3" stroke="#000" stroke-width="2"/>
<text x="1555.3" y="550.6" font-size="23.0" text-anchor="end">0</text>
<line x1="1559.8" y1="582.5" x2="1564.8" y2="582.5" stroke="#000" stroke-width="2"/>
<text x="1555.3" y="590.8" font-size="23.0" text-anchor="end">&#8722;10</text>
<line x1="1559.8" y1="622.7" x2="1564.8" y2="622.7" stroke="#000" stroke-width="2"/>
<text x="1555.3" y="631.0" font-size="23.0" text-anchor="end">&#8722;20</text>
<line x1="1559.8" y1="662.9" x2="1564.8" y2="662.9" stroke="#000" stroke-width="2"/>
<text x="1555.3" y="671.2" font-size="23.0" text-anchor="end">&#8722;30</text>
<text x="1719.3" y="736.8" font-size="23.5" text-anchor="middle">Dimension 1</text>
<text x="0" y="0" font-size="23.5" text-anchor="middle" transform="translate(1506.0 536.0) rotate(-90)">Dimension 2</text>
<text x="-1" y="910" font-size="38" font-weight="bold">d</text>
<text x="212.5" y="943.3" font-size="23.5" text-anchor="middle">Homeobox family genes</text>
<rect x="62.9" y="951.4" width="8.1" height="11.5" fill="#F5A02F"/>
<rect x="70.7" y="951.4" width="87.7" height="11.5" fill="#3A8044"/>
<rect x="158.1" y="951.4" width="63.3" height="11.5" fill="#C8322E"/>
<rect x="221.1" y="951.4" width="132.4" height="11.5" fill="#3A84B3"/>
<g>
<rect x="62.9" y="964.2" width="8.7" height="8.5" fill="#aaacde"/>
<rect x="71.6" y="964.2" width="87.1" height="8.5" fill="#aaacde"/>
<rect x="158.7" y="964.2" width="14.5" height="8.5" fill="#b2b4e1"/>
<rect x="173.2" y="964.2" width="47.9" height="8.5" fill="#aaacde"/>
<rect x="221.1" y="964.2" width="68.2" height="8.5" fill="#aaacde"/>
<rect x="289.3" y="964.2" width="26.1" height="8.5" fill="#aaacde"/>
<rect x="315.5" y="964.2" width="37.7" height="8.5" fill="#aaacde"/>
<rect x="62.9" y="972.7" width="8.7" height="84.7" fill="#aaacde"/>
<rect x="71.6" y="972.7" width="87.1" height="84.7" fill="#f98385"/>
<rect x="158.7" y="972.7" width="14.5" height="84.7" fill="#fdb5b9"/>
<rect x="173.2" y="972.7" width="47.9" height="84.7" fill="#e6e6f5"/>
<rect x="221.1" y="972.7" width="68.2" height="84.7" fill="#fc9fa3"/>
<rect x="289.3" y="972.7" width="26.1" height="84.7" fill="#fc9fa3"/>
<rect x="315.5" y="972.7" width="37.7" height="84.7" fill="#fdacb1"/>
<rect x="62.9" y="1057.3" width="8.7" height="14.1" fill="#b2b4e1"/>
<rect x="71.6" y="1057.3" width="87.1" height="14.1" fill="#fdb5b9"/>
<rect x="158.7" y="1057.3" width="14.5" height="14.1" fill="#f87e7f"/>
<rect x="173.2" y="1057.3" width="47.9" height="14.1" fill="#fdb5b9"/>
<rect x="221.1" y="1057.3" width="68.2" height="14.1" fill="#febec2"/>
<rect x="289.3" y="1057.3" width="26.1" height="14.1" fill="#fdb5b9"/>
<rect x="315.5" y="1057.3" width="37.7" height="14.1" fill="#fec6ca"/>
<rect x="62.9" y="1071.4" width="8.7" height="46.6" fill="#aaacde"/>
<rect x="71.6" y="1071.4" width="87.1" height="46.6" fill="#e6e6f5"/>
<rect x="158.7" y="1071.4" width="14.5" height="46.6" fill="#fdb5b9"/>
<rect x="173.2" y="1071.4" width="47.9" height="46.6" fill="#fa8d90"/>
<rect x="221.1" y="1071.4" width="68.2" height="46.6" fill="#fff7f8"/>
<rect x="289.3" y="1071.4" width="26.1" height="46.6" fill="#ffe0e2"/>
<rect x="315.5" y="1071.4" width="37.7" height="46.6" fill="#d4d6ee"/>
<rect x="62.9" y="1118.0" width="8.7" height="66.3" fill="#aaacde"/>
<rect x="71.6" y="1118.0" width="87.1" height="66.3" fill="#fc9fa3"/>
<rect x="158.7" y="1118.0" width="14.5" height="66.3" fill="#febec2"/>
<rect x="173.2" y="1118.0" width="47.9" height="66.3" fill="#fff7f8"/>
<rect x="221.1" y="1118.0" width="68.2" height="66.3" fill="#f9888a"/>
<rect x="289.3" y="1118.0" width="26.1" height="66.3" fill="#fc9fa3"/>
<rect x="315.5" y="1118.0" width="37.7" height="66.3" fill="#fdb5b9"/>
<rect x="62.9" y="1184.3" width="8.7" height="25.4" fill="#aaacde"/>
<rect x="71.6" y="1184.3" width="87.1" height="25.4" fill="#fc9fa3"/>
<rect x="158.7" y="1184.3" width="14.5" height="25.4" fill="#fdb5b9"/>
<rect x="173.2" y="1184.3" width="47.9" height="25.4" fill="#ffe0e2"/>
<rect x="221.1" y="1184.3" width="68.2" height="25.4" fill="#fc9fa3"/>
<rect x="289.3" y="1184.3" width="26.1" height="25.4" fill="#f98385"/>
<rect x="315.5" y="1184.3" width="37.7" height="25.4" fill="#fdacb1"/>
<rect x="62.9" y="1209.7" width="8.7" height="36.7" fill="#aaacde"/>
<rect x="71.6" y="1209.7" width="87.1" height="36.7" fill="#fdacb1"/>
<rect x="158.7" y="1209.7" width="14.5" height="36.7" fill="#fec6ca"/>
<rect x="173.2" y="1209.7" width="47.9" height="36.7" fill="#d4d6ee"/>
<rect x="221.1" y="1209.7" width="68.2" height="36.7" fill="#fdb5b9"/>
<rect x="289.3" y="1209.7" width="26.1" height="36.7" fill="#fdacb1"/>
<rect x="315.5" y="1209.7" width="37.7" height="36.7" fill="#fa8d90"/>
<rect x="62.9" y="964.2" width="2.64" height="282.2" fill="#ffffff" fill-opacity="0.06"/>
<rect x="62.9" y="964.2" width="290.3" height="2.57" fill="#ffffff" fill-opacity="0.06"/>
<rect x="65.5" y="964.2" width="2.64" height="282.2" fill="#ffffff" fill-opacity="0.10"/>
<rect x="62.9" y="966.8" width="290.3" height="2.57" fill="#ffffff" fill-opacity="0.10"/>
<rect x="70.8" y="964.2" width="2.64" height="282.2" fill="#ec3e36" fill-opacity="0.17"/>
<rect x="62.9" y="971.9" width="290.3" height="2.57" fill="#ec3e36" fill-opacity="0.17"/>
<rect x="73.5" y="964.2" width="2.64" height="282.2" fill="#ffffff" fill-opacity="0.19"/>
<rect x="62.9" y="974.5" width="290.3" height="2.57" fill="#ffffff" fill-opacity="0.19"/>
<rect x="76.1" y="964.2" width="2.64" height="282.2" fill="#ec3e36" fill-opacity="0.17"/>
<rect x="62.9" y="977.0" width="290.3" height="2.57" fill="#ec3e36" fill-opacity="0.17"/>
<rect x="78.7" y="964.2" width="2.64" height="282.2" fill="#ffffff" fill-opacity="0.09"/>
<rect x="62.9" y="979.6" width="290.3" height="2.57" fill="#ffffff" fill-opacity="0.09"/>
<rect x="81.4" y="964.2" width="2.64" height="282.2" fill="#ffffff" fill-opacity="0.15"/>
<rect x="62.9" y="982.2" width="290.3" height="2.57" fill="#ffffff" fill-opacity="0.15"/>
<rect x="84.0" y="964.2" width="2.64" height="282.2" fill="#ec3e36" fill-opacity="0.18"/>
<rect x="62.9" y="984.7" width="290.3" height="2.57" fill="#ec3e36" fill-opacity="0.18"/>
<rect x="89.3" y="964.2" width="2.64" height="282.2" fill="#ffffff" fill-opacity="0.18"/>
<rect x="62.9" y="989.9" width="290.3" height="2.57" fill="#ffffff" fill-opacity="0.18"/>
<rect x="91.9" y="964.2" width="2.64" height="282.2" fill="#ffffff" fill-opacity="0.05"/>
<rect x="62.9" y="992.4" width="290.3" height="2.57" fill="#ffffff" fill-opacity="0.05"/>
<rect x="94.6" y="964.2" width="2.64" height="282.2" fill="#ec3e36" fill-opacity="0.13"/>
<rect x="62.9" y="995.0" width="290.3" height="2.57" fill="#ec3e36" fill-opacity="0.13"/>
<rect x="97.2" y="964.2" width="2.64" height="282.2" fill="#ec3e36" fill-opacity="0.17"/>
<rect x="62.9" y="997.6" width="290.3" height="2.57" fill="#ec3e36" fill-opacity="0.17"/>
<rect x="99.8" y="964.2" width="2.64" height="282.2" fill="#ffffff" fill-opacity="0.06"/>
<rect x="62.9" y="1000.1" width="290.3" height="2.57" fill="#ffffff" fill-opacity="0.06"/>
<rect x="102.5" y="964.2" width="2.64" height="282.2" fill="#ec3e36" fill-opacity="0.06"/>
<rect x="62.9" y="1002.7" width="290.3" height="2.57" fill="#ec3e36" fill-opacity="0.06"/>
<rect x="105.1" y="964.2" width="2.64" height="282.2" fill="#ec3e36" fill-opacity="0.10"/>
<rect x="62.9" y="1005.2" width="290.3" height="2.57" fill="#ec3e36" fill-opacity="0.10"/>
<rect x="107.8" y="964.2" width="2.64" height="282.2" fill="#ffffff" fill-opacity="0.09"/>
<rect x="62.9" y="1007.8" width="290.3" height="2.57" fill="#ffffff" fill-opacity="0.09"/>
<rect x="110.4" y="964.2" width="2.64" height="282.2" fill="#ec3e36" fill-opacity="0.05"/>
<rect x="62.9" y="1010.4" width="290.3" height="2.57" fill="#ec3e36" fill-opacity="0.05"/>
<rect x="115.7" y="964.2" width="2.64" height="282.2" fill="#ffffff" fill-opacity="0.08"/>
<rect x="62.9" y="1015.5" width="290.3" height="2.57" fill="#ffffff" fill-opacity="0.08"/>
<rect x="118.3" y="964.2" width="2.64" height="282.2" fill="#ffffff" fill-opacity="0.07"/>
<rect x="62.9" y="1018.1" width="290.3" height="2.57" fill="#ffffff" fill-opacity="0.07"/>
<rect x="126.2" y="964.2" width="2.64" height="282.2" fill="#ffffff" fill-opacity="0.08"/>
<rect x="62.9" y="1025.8" width="290.3" height="2.57" fill="#ffffff" fill-opacity="0.08"/>
<rect x="128.9" y="964.2" width="2.64" height="282.2" fill="#ffffff" fill-opacity="0.06"/>
<rect x="62.9" y="1028.3" width="290.3" height="2.57" fill="#ffffff" fill-opacity="0.06"/>
<rect x="131.5" y="964.2" width="2.64" height="282.2" fill="#ec3e36" fill-opacity="0.16"/>
<rect x="62.9" y="1030.9" width="290.3" height="2.57" fill="#ec3e36" fill-opacity="0.16"/>
<rect x="136.8" y="964.2" width="2.64" height="282.2" fill="#ec3e36" fill-opacity="0.12"/>
<rect x="62.9" y="1036.0" width="290.3" height="2.57" fill="#ec3e36" fill-opacity="0.12"/>
<rect x="139.4" y="964.2" width="2.64" height="282.2" fill="#ec3e36" fill-opacity="0.17"/>
<rect x="62.9" y="1038.6" width="290.3" height="2.57" fill="#ec3e36" fill-opacity="0.17"/>
<rect x="142.1" y="964.2" width="2.64" height="282.2" fill="#ec3e36" fill-opacity="0.08"/>
<rect x="62.9" y="1041.2" width="290.3" height="2.57" fill="#ec3e36" fill-opacity="0.08"/>
<rect x="144.7" y="964.2" width="2.64" height="282.2" fill="#ec3e36" fill-opacity="0.32"/>
<rect x="62.9" y="1043.7" width="290.3" height="2.57" fill="#ec3e36" fill-opacity="0.32"/>
<rect x="147.4" y="964.2" width="2.64" height="282.2" fill="#ffffff" fill-opacity="0.12"/>
<rect x="62.9" y="1046.3" width="290.3" height="2.57" fill="#ffffff" fill-opacity="0.12"/>
<rect x="150.0" y="964.2" width="2.64" height="282.2" fill="#ec3e36" fill-opacity="0.11"/>
<rect x="62.9" y="1048.9" width="290.3" height="2.57" fill="#ec3e36" fill-opacity="0.11"/>
<rect x="152.6" y="964.2" width="2.64" height="282.2" fill="#ffffff" fill-opacity="0.04"/>
<rect x="62.9" y="1051.4" width="290.3" height="2.57" fill="#ffffff" fill-opacity="0.04"/>
<rect x="155.3" y="964.2" width="2.64" height="282.2" fill="#ec3e36" fill-opacity="0.26"/>
<rect x="62.9" y="1054.0" width="290.3" height="2.57" fill="#ec3e36" fill-opacity="0.26"/>
<rect x="157.9" y="964.2" width="2.64" height="282.2" fill="#ec3e36" fill-opacity="0.24"/>
<rect x="62.9" y="1056.6" width="290.3" height="2.57" fill="#ec3e36" fill-opacity="0.24"/>
<rect x="160.5" y="964.2" width="2.64" height="282.2" fill="#ffffff" fill-opacity="0.27"/>
<rect x="62.9" y="1059.1" width="290.3" height="2.57" fill="#ffffff" fill-opacity="0.27"/>
<rect x="163.2" y="964.2" width="2.64" height="282.2" fill="#ffffff" fill-opacity="0.14"/>
<rect x="62.9" y="1061.7" width="290.3" height="2.57" fill="#ffffff" fill-opacity="0.14"/>
<rect x="165.8" y="964.2" width="2.64" height="282.2" fill="#ec3e36" fill-opacity="0.09"/>
<rect x="62.9" y="1064.3" width="290.3" height="2.57" fill="#ec3e36" fill-opacity="0.09"/>
<rect x="168.5" y="964.2" width="2.64" height="282.2" fill="#ec3e36" fill-opacity="0.11"/>
<rect x="62.9" y="1066.8" width="290.3" height="2.57" fill="#ec3e36" fill-opacity="0.11"/>
<rect x="171.1" y="964.2" width="2.64" height="282.2" fill="#ec3e36" fill-opacity="0.10"/>
<rect x="62.9" y="1069.4" width="290.3" height="2.57" fill="#ec3e36" fill-opacity="0.10"/>
<rect x="176.4" y="964.2" width="2.64" height="282.2" fill="#ec3e36" fill-opacity="0.06"/>
<rect x="62.9" y="1074.5" width="290.3" height="2.57" fill="#ec3e36" fill-opacity="0.06"/>
<rect x="179.0" y="964.2" width="2.64" height="282.2" fill="#ec3e36" fill-opacity="0.09"/>
<rect x="62.9" y="1077.1" width="290.3" height="2.57" fill="#ec3e36" fill-opacity="0.09"/>
<rect x="184.3" y="964.2" width="2.64" height="282.2" fill="#ec3e36" fill-opacity="0.14"/>
<rect x="62.9" y="1082.2" width="290.3" height="2.57" fill="#ec3e36" fill-opacity="0.14"/>
<rect x="186.9" y="964.2" width="2.64" height="282.2" fill="#ffffff" fill-opacity="0.32"/>
<rect x="62.9" y="1084.8" width="290.3" height="2.57" fill="#ffffff" fill-opacity="0.32"/>
<rect x="189.6" y="964.2" width="2.64" height="282.2" fill="#ec3e36" fill-opacity="0.09"/>
<rect x="62.9" y="1087.3" width="290.3" height="2.57" fill="#ec3e36" fill-opacity="0.09"/>
<rect x="192.2" y="964.2" width="2.64" height="282.2" fill="#ffffff" fill-opacity="0.14"/>
<rect x="62.9" y="1089.9" width="290.3" height="2.57" fill="#ffffff" fill-opacity="0.14"/>
<rect x="194.9" y="964.2" width="2.64" height="282.2" fill="#ec3e36" fill-opacity="0.13"/>
<rect x="62.9" y="1092.5" width="290.3" height="2.57" fill="#ec3e36" fill-opacity="0.13"/>
<rect x="197.5" y="964.2" width="2.64" height="282.2" fill="#ffffff" fill-opacity="0.03"/>
<rect x="62.9" y="1095.0" width="290.3" height="2.57" fill="#ffffff" fill-opacity="0.03"/>
<rect x="200.1" y="964.2" width="2.64" height="282.2" fill="#ffffff" fill-opacity="0.12"/>
<rect x="62.9" y="1097.6" width="290.3" height="2.57" fill="#ffffff" fill-opacity="0.12"/>
<rect x="202.8" y="964.2" width="2.64" height="282.2" fill="#ec3e36" fill-opacity="0.05"/>
<rect x="62.9" y="1100.2" width="290.3" height="2.57" fill="#ec3e36" fill-opacity="0.05"/>
<rect x="205.4" y="964.2" width="2.64" height="282.2" fill="#ffffff" fill-opacity="0.13"/>
<rect x="62.9" y="1102.7" width="290.3" height="2.57" fill="#ffffff" fill-opacity="0.13"/>
<rect x="208.1" y="964.2" width="2.64" height="282.2" fill="#ffffff" fill-opacity="0.13"/>
<rect x="62.9" y="1105.3" width="290.3" height="2.57" fill="#ffffff" fill-opacity="0.13"/>
<rect x="210.7" y="964.2" width="2.64" height="282.2" fill="#ffffff" fill-opacity="0.22"/>
<rect x="62.9" y="1107.9" width="290.3" height="2.57" fill="#ffffff" fill-opacity="0.22"/>
<rect x="216.0" y="964.2" width="2.64" height="282.2" fill="#ec3e36" fill-opacity="0.07"/>
<rect x="62.9" y="1113.0" width="290.3" height="2.57" fill="#ec3e36" fill-opacity="0.07"/>
<rect x="218.6" y="964.2" width="2.64" height="282.2" fill="#ec3e36" fill-opacity="0.14"/>
<rect x="62.9" y="1115.6" width="290.3" height="2.57" fill="#ec3e36" fill-opacity="0.14"/>
<rect x="223.9" y="964.2" width="2.64" height="282.2" fill="#ec3e36" fill-opacity="0.15"/>
<rect x="62.9" y="1120.7" width="290.3" height="2.57" fill="#ec3e36" fill-opacity="0.15"/>
<rect x="231.8" y="964.2" width="2.64" height="282.2" fill="#ec3e36" fill-opacity="0.08"/>
<rect x="62.9" y="1128.4" width="290.3" height="2.57" fill="#ec3e36" fill-opacity="0.08"/>
<rect x="234.4" y="964.2" width="2.64" height="282.2" fill="#ec3e36" fill-opacity="0.15"/>
<rect x="62.9" y="1131.0" width="290.3" height="2.57" fill="#ec3e36" fill-opacity="0.15"/>
<rect x="237.1" y="964.2" width="2.64" height="282.2" fill="#ffffff" fill-opacity="0.05"/>
<rect x="62.9" y="1133.5" width="290.3" height="2.57" fill="#ffffff" fill-opacity="0.05"/>
<rect x="239.7" y="964.2" width="2.64" height="282.2" fill="#ffffff" fill-opacity="0.03"/>
<rect x="62.9" y="1136.1" width="290.3" height="2.57" fill="#ffffff" fill-opacity="0.03"/>
<rect x="247.6" y="964.2" width="2.64" height="282.2" fill="#ffffff" fill-opacity="0.13"/>
<rect x="62.9" y="1143.8" width="290.3" height="2.57" fill="#ffffff" fill-opacity="0.13"/>
<rect x="250.3" y="964.2" width="2.64" height="282.2" fill="#ec3e36" fill-opacity="0.14"/>
<rect x="62.9" y="1146.3" width="290.3" height="2.57" fill="#ec3e36" fill-opacity="0.14"/>
<rect x="252.9" y="964.2" width="2.64" height="282.2" fill="#ffffff" fill-opacity="0.06"/>
<rect x="62.9" y="1148.9" width="290.3" height="2.57" fill="#ffffff" fill-opacity="0.06"/>
<rect x="255.6" y="964.2" width="2.64" height="282.2" fill="#ec3e36" fill-opacity="0.06"/>
<rect x="62.9" y="1151.5" width="290.3" height="2.57" fill="#ec3e36" fill-opacity="0.06"/>
<rect x="258.2" y="964.2" width="2.64" height="282.2" fill="#ffffff" fill-opacity="0.12"/>
<rect x="62.9" y="1154.0" width="290.3" height="2.57" fill="#ffffff" fill-opacity="0.12"/>
<rect x="260.8" y="964.2" width="2.64" height="282.2" fill="#ec3e36" fill-opacity="0.05"/>
<rect x="62.9" y="1156.6" width="290.3" height="2.57" fill="#ec3e36" fill-opacity="0.05"/>
<rect x="263.5" y="964.2" width="2.64" height="282.2" fill="#ec3e36" fill-opacity="0.05"/>
<rect x="62.9" y="1159.2" width="290.3" height="2.57" fill="#ec3e36" fill-opacity="0.05"/>
<rect x="266.1" y="964.2" width="2.64" height="282.2" fill="#ffffff" fill-opacity="0.06"/>
<rect x="62.9" y="1161.7" width="290.3" height="2.57" fill="#ffffff" fill-opacity="0.06"/>
<rect x="268.7" y="964.2" width="2.64" height="282.2" fill="#ec3e36" fill-opacity="0.28"/>
<rect x="62.9" y="1164.3" width="290.3" height="2.57" fill="#ec3e36" fill-opacity="0.28"/>
<rect x="271.4" y="964.2" width="2.64" height="282.2" fill="#ec3e36" fill-opacity="0.05"/>
<rect x="62.9" y="1166.9" width="290.3" height="2.57" fill="#ec3e36" fill-opacity="0.05"/>
<rect x="274.0" y="964.2" width="2.64" height="282.2" fill="#ec3e36" fill-opacity="0.25"/>
<rect x="62.9" y="1169.4" width="290.3" height="2.57" fill="#ec3e36" fill-opacity="0.25"/>
<rect x="276.7" y="964.2" width="2.64" height="282.2" fill="#ec3e36" fill-opacity="0.13"/>
<rect x="62.9" y="1172.0" width="290.3" height="2.57" fill="#ec3e36" fill-opacity="0.13"/>
<rect x="279.3" y="964.2" width="2.64" height="282.2" fill="#ffffff" fill-opacity="0.09"/>
<rect x="62.9" y="1174.6" width="290.3" height="2.57" fill="#ffffff" fill-opacity="0.09"/>
<rect x="281.9" y="964.2" width="2.64" height="282.2" fill="#ffffff" fill-opacity="0.05"/>
<rect x="62.9" y="1177.1" width="290.3" height="2.57" fill="#ffffff" fill-opacity="0.05"/>
<rect x="284.6" y="964.2" width="2.64" height="282.2" fill="#ec3e36" fill-opacity="0.06"/>
<rect x="62.9" y="1179.7" width="290.3" height="2.57" fill="#ec3e36" fill-opacity="0.06"/>
<rect x="292.5" y="964.2" width="2.64" height="282.2" fill="#ffffff" fill-opacity="0.04"/>
<rect x="62.9" y="1187.4" width="290.3" height="2.57" fill="#ffffff" fill-opacity="0.04"/>
<rect x="295.1" y="964.2" width="2.64" height="282.2" fill="#ffffff" fill-opacity="0.25"/>
<rect x="62.9" y="1190.0" width="290.3" height="2.57" fill="#ffffff" fill-opacity="0.25"/>
<rect x="297.8" y="964.2" width="2.64" height="282.2" fill="#ffffff" fill-opacity="0.03"/>
<rect x="62.9" y="1192.5" width="290.3" height="2.57" fill="#ffffff" fill-opacity="0.03"/>
<rect x="300.4" y="964.2" width="2.64" height="282.2" fill="#ffffff" fill-opacity="0.31"/>
<rect x="62.9" y="1195.1" width="290.3" height="2.57" fill="#ffffff" fill-opacity="0.31"/>
<rect x="303.1" y="964.2" width="2.64" height="282.2" fill="#ec3e36" fill-opacity="0.05"/>
<rect x="62.9" y="1197.7" width="290.3" height="2.57" fill="#ec3e36" fill-opacity="0.05"/>
<rect x="305.7" y="964.2" width="2.64" height="282.2" fill="#ffffff" fill-opacity="0.10"/>
<rect x="62.9" y="1200.2" width="290.3" height="2.57" fill="#ffffff" fill-opacity="0.10"/>
<rect x="308.3" y="964.2" width="2.64" height="282.2" fill="#ffffff" fill-opacity="0.10"/>
<rect x="62.9" y="1202.8" width="290.3" height="2.57" fill="#ffffff" fill-opacity="0.10"/>
<rect x="311.0" y="964.2" width="2.64" height="282.2" fill="#ffffff" fill-opacity="0.03"/>
<rect x="62.9" y="1205.4" width="290.3" height="2.57" fill="#ffffff" fill-opacity="0.03"/>
<rect x="313.6" y="964.2" width="2.64" height="282.2" fill="#ec3e36" fill-opacity="0.04"/>
<rect x="62.9" y="1207.9" width="290.3" height="2.57" fill="#ec3e36" fill-opacity="0.04"/>
<rect x="316.3" y="964.2" width="2.64" height="282.2" fill="#ffffff" fill-opacity="0.20"/>
<rect x="62.9" y="1210.5" width="290.3" height="2.57" fill="#ffffff" fill-opacity="0.20"/>
<rect x="318.9" y="964.2" width="2.64" height="282.2" fill="#ffffff" fill-opacity="0.24"/>
<rect x="62.9" y="1213.0" width="290.3" height="2.57" fill="#ffffff" fill-opacity="0.24"/>
<rect x="321.5" y="964.2" width="2.64" height="282.2" fill="#ffffff" fill-opacity="0.15"/>
<rect x="62.9" y="1215.6" width="290.3" height="2.57" fill="#ffffff" fill-opacity="0.15"/>
<rect x="324.2" y="964.2" width="2.64" height="282.2" fill="#ffffff" fill-opacity="0.29"/>
<rect x="62.9" y="1218.2" width="290.3" height="2.57" fill="#ffffff" fill-opacity="0.29"/>
<rect x="326.8" y="964.2" width="2.64" height="282.2" fill="#ffffff" fill-opacity="0.14"/>
<rect x="62.9" y="1220.7" width="290.3" height="2.57" fill="#ffffff" fill-opacity="0.14"/>
<rect x="329.4" y="964.2" width="2.64" height="282.2" fill="#ec3e36" fill-opacity="0.22"/>
<rect x="62.9" y="1223.3" width="290.3" height="2.57" fill="#ec3e36" fill-opacity="0.22"/>
<rect x="332.1" y="964.2" width="2.64" height="282.2" fill="#ffffff" fill-opacity="0.15"/>
<rect x="62.9" y="1225.9" width="290.3" height="2.57" fill="#ffffff" fill-opacity="0.15"/>
<rect x="334.7" y="964.2" width="2.64" height="282.2" fill="#ec3e36" fill-opacity="0.09"/>
<rect x="62.9" y="1228.4" width="290.3" height="2.57" fill="#ec3e36" fill-opacity="0.09"/>
<rect x="337.4" y="964.2" width="2.64" height="282.2" fill="#ffffff" fill-opacity="0.19"/>
<rect x="62.9" y="1231.0" width="290.3" height="2.57" fill="#ffffff" fill-opacity="0.19"/>
<rect x="340.0" y="964.2" width="2.64" height="282.2" fill="#ec3e36" fill-opacity="0.04"/>
<rect x="62.9" y="1233.6" width="290.3" height="2.57" fill="#ec3e36" fill-opacity="0.04"/>
<rect x="342.6" y="964.2" width="2.64" height="282.2" fill="#ffffff" fill-opacity="0.04"/>
<rect x="62.9" y="1236.1" width="290.3" height="2.57" fill="#ffffff" fill-opacity="0.04"/>
<rect x="347.9" y="964.2" width="2.64" height="282.2" fill="#ec3e36" fill-opacity="0.08"/>
<rect x="62.9" y="1241.3" width="290.3" height="2.57" fill="#ec3e36" fill-opacity="0.08"/>
<rect x="350.6" y="964.2" width="2.64" height="282.2" fill="#ec3e36" fill-opacity="0.25"/>
<rect x="62.9" y="1243.8" width="290.3" height="2.57" fill="#ec3e36" fill-opacity="0.25"/>
<defs><pattern id="sp62_0" width="29.030" height="29.030" patternUnits="userSpaceOnUse" x="62.90" y="964.20"><rect x="5.28" y="0.00" width="2.64" height="2.64" fill="#fff" fill-opacity="0.63"/><rect x="0.00" y="2.64" width="2.64" height="2.64" fill="#fff" fill-opacity="0.67"/><rect x="5.28" y="5.28" width="2.64" height="2.64" fill="#fff" fill-opacity="0.85"/><rect x="10.56" y="5.28" width="2.64" height="2.64" fill="#fff" fill-opacity="0.60"/><rect x="13.20" y="5.28" width="2.64" height="2.64" fill="#fff" fill-opacity="0.62"/><rect x="15.83" y="5.28" width="2.64" height="2.64" fill="#fff" fill-opacity="0.53"/><rect x="5.28" y="7.92" width="2.64" height="2.64" fill="#fff" fill-opacity="0.54"/><rect x="10.56" y="7.92" width="2.64" height="2.64" fill="#fff" fill-opacity="0.78"/><rect x="26.39" y="7.92" width="2.64" height="2.64" fill="#fff" fill-opacity="0.41"/><rect x="5.28" y="10.56" width="2.64" height="2.64" fill="#fff" fill-opacity="0.61"/><rect x="18.47" y="10.56" width="2.64" height="2.64" fill="#fff" fill-opacity="0.65"/><rect x="0.00" y="13.20" width="2.64" height="2.64" fill="#fff" fill-opacity="0.79"/><rect x="13.20" y="13.20" width="2.64" height="2.64" fill="#fff" fill-opacity="0.71"/><rect x="15.83" y="13.20" width="2.64" height="2.64" fill="#fff" fill-opacity="0.48"/><rect x="0.00" y="15.83" width="2.64" height="2.64" fill="#fff" fill-opacity="0.45"/><rect x="21.11" y="15.83" width="2.64" height="2.64" fill="#fff" fill-opacity="0.58"/><rect x="0.00" y="18.47" width="2.64" height="2.64" fill="#fff" fill-opacity="0.57"/><rect x="10.56" y="21.11" width="2.64" height="2.64" fill="#fff" fill-opacity="0.77"/><rect x="23.75" y="21.11" width="2.64" height="2.64" fill="#fff" fill-opacity="0.74"/><rect x="26.39" y="21.11" width="2.64" height="2.64" fill="#fff" fill-opacity="0.83"/><rect x="5.28" y="23.75" width="2.64" height="2.64" fill="#fff" fill-opacity="0.79"/><rect x="10.56" y="23.75" width="2.64" height="2.64" fill="#fff" fill-opacity="0.60"/><rect x="26.39" y="23.75" width="2.64" height="2.64" fill="#fff" fill-opacity="0.59"/><rect x="5.28" y="26.39" width="2.64" height="2.64" fill="#fff" fill-opacity="0.61"/><rect x="23.75" y="26.39" width="2.64" height="2.64" fill="#fff" fill-opacity="0.45"/><rect x="26.39" y="26.39" width="2.64" height="2.64" fill="#fff" fill-opacity="0.71"/></pattern><pattern id="sp62_1" width="34.308" height="34.308" patternUnits="userSpaceOnUse" x="62.90" y="964.20"><rect x="13.20" y="0.00" width="2.64" height="2.64" fill="#fff" fill-opacity="0.54"/><rect x="21.11" y="0.00" width="2.64" height="2.64" fill="#fff" fill-opacity="0.70"/><rect x="5.28" y="2.64" width="2.64" height="2.64" fill="#fff" fill-opacity="0.71"/><rect x="7.92" y="2.64" width="2.64" height="2.64" fill="#fff" fill-opacity="0.54"/><rect x="0.00" y="5.28" width="2.64" height="2.64" fill="#fff" fill-opacity="0.81"/><rect x="5.28" y="5.28" width="2.64" height="2.64" fill="#fff" fill-opacity="0.80"/><rect x="15.83" y="5.28" width="2.64" height="2.64" fill="#fff" fill-opacity="0.40"/><rect x="21.11" y="5.28" width="2.64" height="2.64" fill="#fff" fill-opacity="0.60"/><rect x="31.67" y="5.28" width="2.64" height="2.64" fill="#fff" fill-opacity="0.47"/><rect x="2.64" y="7.92" width="2.64" height="2.64" fill="#fff" fill-opacity="0.62"/><rect x="5.28" y="7.92" width="2.64" height="2.64" fill="#fff" fill-opacity="0.82"/><rect x="7.92" y="7.92" width="2.64" height="2.64" fill="#fff" fill-opacity="0.56"/><rect x="23.75" y="7.92" width="2.64" height="2.64" fill="#fff" fill-opacity="0.70"/><rect x="29.03" y="7.92" width="2.64" height="2.64" fill="#fff" fill-opacity="0.74"/><rect x="31.67" y="7.92" width="2.64" height="2.64" fill="#fff" fill-opacity="0.58"/><rect x="31.67" y="10.56" width="2.64" height="2.64" fill="#fff" fill-opacity="0.57"/><rect x="29.03" y="13.20" width="2.64" height="2.64" fill="#fff" fill-opacity="0.83"/><rect x="23.75" y="15.83" width="2.64" height="2.64" fill="#fff" fill-opacity="0.75"/><rect x="2.64" y="18.47" width="2.64" height="2.64" fill="#fff" fill-opacity="0.68"/><rect x="26.39" y="18.47" width="2.64" height="2.64" fill="#fff" fill-opacity="0.62"/><rect x="2.64" y="21.11" width="2.64" height="2.64" fill="#fff" fill-opacity="0.74"/><rect x="10.56" y="23.75" width="2.64" height="2.64" fill="#fff" fill-opacity="0.60"/><rect x="18.47" y="23.75" width="2.64" height="2.64" fill="#fff" fill-opacity="0.68"/><rect x="26.39" y="23.75" width="2.64" height="2.64" fill="#fff" fill-opacity="0.66"/><rect x="29.03" y="23.75" width="2.64" height="2.64" fill="#fff" fill-opacity="0.80"/><rect x="31.67" y="23.75" width="2.64" height="2.64" fill="#fff" fill-opacity="0.53"/><rect x="2.64" y="26.39" width="2.64" height="2.64" fill="#fff" fill-opacity="0.51"/><rect x="18.47" y="26.39" width="2.64" height="2.64" fill="#fff" fill-opacity="0.64"/><rect x="31.67" y="26.39" width="2.64" height="2.64" fill="#fff" fill-opacity="0.50"/><rect x="0.00" y="31.67" width="2.64" height="2.64" fill="#fff" fill-opacity="0.70"/><rect x="29.03" y="31.67" width="2.64" height="2.64" fill="#fff" fill-opacity="0.58"/></pattern></defs>
<rect x="62.9" y="964.2" width="290.3" height="282.2" fill="url(#sp62_0)" opacity="0.80"/>
<rect x="62.9" y="964.2" width="290.3" height="282.2" fill="url(#sp62_1)" opacity="0.80"/>
<line x1="62.9" y1="964.2" x2="353.2" y2="1246.4" stroke="#d42a22" stroke-width="1.7" stroke-opacity="1.00"/>
</g>
<text x="361.6" y="970.0" font-size="23.9">Spearman&#8217;s <tspan font-style="italic">r</tspan></text>
<rect x="367.0" y="977.4" width="124.8" height="14.0" fill="url(#cbard)" stroke="#000" stroke-width="2.2"/>
<line x1="371.4" y1="991.4" x2="371.4" y2="994.4" stroke="#000" stroke-width="1.6"/>
<text x="375.4" y="1015.2" font-size="22.8" text-anchor="middle">0.7</text>
<line x1="411.8" y1="991.4" x2="411.8" y2="994.4" stroke="#000" stroke-width="1.6"/>
<text x="418.4" y="1015.2" font-size="22.8" text-anchor="middle">0.8</text>
<line x1="452.0" y1="991.4" x2="452.0" y2="994.4" stroke="#000" stroke-width="1.6"/>
<text x="461.0" y="1015.2" font-size="22.8" text-anchor="middle">0.9</text>
<line x1="492.0" y1="991.4" x2="492.0" y2="994.4" stroke="#000" stroke-width="1.6"/>
<text x="491.0" y="1015.2" font-size="22.8" text-anchor="middle">1</text>
<rect x="367.2" y="1037.9" width="14.5" height="14.5" fill="#F5A02F" stroke="#000" stroke-width="2"/>
<text x="391.5" y="1053.4" font-size="23.5">Head</text>
<rect x="367.2" y="1061.3" width="14.5" height="14.5" fill="#3A8044" stroke="#000" stroke-width="2"/>
<text x="391.5" y="1076.8" font-size="23.5">Forelimb</text>
<rect x="367.2" y="1084.7" width="14.5" height="14.5" fill="#C8322E" stroke="#000" stroke-width="2"/>
<text x="391.5" y="1100.2" font-size="23.5">Trunk</text>
<rect x="367.2" y="1108.1" width="14.5" height="14.5" fill="#3A84B3" stroke="#000" stroke-width="2"/>
<text x="391.5" y="1123.6" font-size="23.5">Hindlimb</text>
<g>
<ellipse cx="253.5" cy="1389.2" rx="108.2" ry="74.8" transform="rotate(74.2 253.5 1389.2)" fill="#53703a" fill-opacity="0.25" stroke="#2E7D3E" stroke-width="2.4"/>
<ellipse cx="257.4" cy="1408.2" rx="105.9" ry="76.1" transform="rotate(61.0 257.4 1408.2)" fill="#5a7ca8" fill-opacity="0.25" stroke="#2C86BC" stroke-width="2.4"/>
<ellipse cx="193.9" cy="1428.2" rx="113.6" ry="25.6" transform="rotate(-14.6 193.9 1428.2)" fill="#c2502f" fill-opacity="0.25" stroke="#CF2A30" stroke-width="2.4"/>
<line x1="146.5" y1="1339.8" x2="188.3" y2="1518.2" stroke="#F39B26" stroke-width="2.6"/>
<circle cx="236.3" cy="1341.8" r="4.6" fill="#3A8046"/>
<circle cx="242.4" cy="1336.8" r="4.6" fill="#3A8046"/>
<circle cx="248.5" cy="1335.8" r="4.6" fill="#3A8046"/>
<circle cx="254.5" cy="1336.8" r="4.6" fill="#3A8046"/>
<circle cx="248.5" cy="1346.9" r="4.6" fill="#3A8046"/>
<circle cx="234.3" cy="1367.1" r="4.6" fill="#3A8046"/>
<circle cx="264.6" cy="1369.1" r="4.6" fill="#3A8046"/>
<circle cx="238.4" cy="1389.3" r="4.6" fill="#3A8046"/>
<circle cx="244.4" cy="1393.3" r="4.6" fill="#3A8046"/>
<circle cx="250.5" cy="1397.4" r="4.6" fill="#3A8046"/>
<circle cx="260.6" cy="1383.2" r="4.6" fill="#3A8046"/>
<circle cx="307.0" cy="1387.3" r="4.6" fill="#3A8046"/>
<circle cx="311.1" cy="1389.3" r="4.6" fill="#3A8046"/>
<circle cx="237.4" cy="1422.6" r="4.6" fill="#3A8046"/>
<circle cx="254.5" cy="1430.7" r="4.6" fill="#3A8046"/>
<circle cx="242.4" cy="1435.7" r="4.6" fill="#3A8046"/>
<circle cx="282.8" cy="1401.4" r="4.6" fill="#3A8046"/>
<circle cx="159.6" cy="1439.8" r="4.6" fill="#D0343A"/>
<circle cx="165.6" cy="1441.8" r="4.6" fill="#D0343A"/>
<circle cx="169.7" cy="1421.6" r="4.6" fill="#D0343A"/>
<circle cx="171.7" cy="1427.7" r="4.6" fill="#D0343A"/>
<circle cx="175.7" cy="1433.7" r="4.6" fill="#D0343A"/>
<circle cx="181.8" cy="1435.7" r="4.6" fill="#D0343A"/>
<circle cx="187.9" cy="1427.7" r="4.6" fill="#D0343A"/>
<circle cx="193.9" cy="1425.6" r="4.6" fill="#D0343A"/>
<circle cx="197.0" cy="1428.7" r="4.6" fill="#D0343A"/>
<circle cx="208.1" cy="1413.5" r="4.6" fill="#D0343A"/>
<circle cx="220.2" cy="1411.5" r="4.6" fill="#D0343A"/>
<circle cx="217.2" cy="1439.8" r="4.6" fill="#D0343A"/>
<circle cx="271.7" cy="1400.4" r="4.6" fill="#D0343A"/>
<circle cx="218.2" cy="1426.7" r="4.6" fill="#D0343A"/>
<circle cx="262.6" cy="1329.7" r="4.6" fill="#2F84B8"/>
<circle cx="246.4" cy="1339.8" r="4.6" fill="#2F84B8"/>
<circle cx="234.3" cy="1348.9" r="4.6" fill="#2F84B8"/>
<circle cx="240.4" cy="1352.9" r="4.6" fill="#2F84B8"/>
<circle cx="224.2" cy="1369.1" r="4.6" fill="#2F84B8"/>
<circle cx="232.3" cy="1363.0" r="4.6" fill="#2F84B8"/>
<circle cx="265.6" cy="1371.1" r="4.6" fill="#2F84B8"/>
<circle cx="242.4" cy="1385.2" r="4.6" fill="#2F84B8"/>
<circle cx="248.5" cy="1381.2" r="4.6" fill="#2F84B8"/>
<circle cx="254.5" cy="1379.2" r="4.6" fill="#2F84B8"/>
<circle cx="258.6" cy="1377.2" r="4.6" fill="#2F84B8"/>
<circle cx="246.4" cy="1391.3" r="4.6" fill="#2F84B8"/>
<circle cx="214.1" cy="1398.4" r="4.6" fill="#2F84B8"/>
<circle cx="205.0" cy="1408.5" r="4.6" fill="#2F84B8"/>
<circle cx="218.2" cy="1415.5" r="4.6" fill="#2F84B8"/>
<circle cx="217.2" cy="1421.6" r="4.6" fill="#2F84B8"/>
<circle cx="220.2" cy="1432.7" r="4.6" fill="#2F84B8"/>
<circle cx="236.3" cy="1431.7" r="4.6" fill="#2F84B8"/>
<circle cx="242.4" cy="1427.7" r="4.6" fill="#2F84B8"/>
<circle cx="248.5" cy="1421.6" r="4.6" fill="#2F84B8"/>
<circle cx="254.5" cy="1421.6" r="4.6" fill="#2F84B8"/>
<circle cx="260.6" cy="1419.6" r="4.6" fill="#2F84B8"/>
<circle cx="276.7" cy="1403.4" r="4.6" fill="#2F84B8"/>
<circle cx="278.8" cy="1409.5" r="4.6" fill="#2F84B8"/>
<circle cx="284.8" cy="1411.5" r="4.6" fill="#2F84B8"/>
<circle cx="288.9" cy="1419.6" r="4.6" fill="#2F84B8"/>
<circle cx="282.8" cy="1427.7" r="4.6" fill="#2F84B8"/>
<circle cx="286.8" cy="1435.7" r="4.6" fill="#2F84B8"/>
<circle cx="284.8" cy="1441.8" r="4.6" fill="#2F84B8"/>
<circle cx="296.9" cy="1433.7" r="4.6" fill="#2F84B8"/>
<circle cx="301.0" cy="1441.8" r="4.6" fill="#2F84B8"/>
<circle cx="264.6" cy="1443.8" r="4.6" fill="#2F84B8"/>
<circle cx="246.4" cy="1453.9" r="4.6" fill="#2F84B8"/>
<circle cx="272.7" cy="1415.5" r="4.6" fill="#2F84B8"/>
<circle cx="274.7" cy="1421.6" r="4.6" fill="#2F84B8"/>
<circle cx="284.8" cy="1386.2" r="4.6" fill="#2F84B8"/>
<circle cx="262.6" cy="1427.7" r="4.6" fill="#2F84B8"/>
<circle cx="162.6" cy="1405.0" r="4.6" fill="#F39C33"/>
<circle cx="173.7" cy="1451.9" r="4.6" fill="#F39C33"/>
</g>
<rect x="76.4" y="1275.8" width="272.6" height="248.4" fill="none" stroke="#000" stroke-width="2.3"/>
<line x1="124.8" y1="1524.2" x2="124.8" y2="1529.2" stroke="#000" stroke-width="2"/>
<text x="124.8" y="1554.2" font-size="23.0" text-anchor="middle">&#8722;40</text>
<line x1="182.4" y1="1524.2" x2="182.4" y2="1529.2" stroke="#000" stroke-width="2"/>
<text x="182.4" y="1554.2" font-size="23.0" text-anchor="middle">&#8722;20</text>
<line x1="240.0" y1="1524.2" x2="240.0" y2="1529.2" stroke="#000" stroke-width="2"/>
<text x="240.0" y="1554.2" font-size="23.0" text-anchor="middle">0</text>
<line x1="297.6" y1="1524.2" x2="297.6" y2="1529.2" stroke="#000" stroke-width="2"/>
<text x="297.6" y="1554.2" font-size="23.0" text-anchor="middle">20</text>
<line x1="71.4" y1="1295.5" x2="76.4" y2="1295.5" stroke="#000" stroke-width="2"/>
<text x="66.9" y="1303.8" font-size="23.0" text-anchor="end">40</text>
<line x1="71.4" y1="1351.5" x2="76.4" y2="1351.5" stroke="#000" stroke-width="2"/>
<text x="66.9" y="1359.8" font-size="23.0" text-anchor="end">20</text>
<line x1="71.4" y1="1407.5" x2="76.4" y2="1407.5" stroke="#000" stroke-width="2"/>
<text x="66.9" y="1415.8" font-size="23.0" text-anchor="end">0</text>
<line x1="71.4" y1="1463.5" x2="76.4" y2="1463.5" stroke="#000" stroke-width="2"/>
<text x="66.9" y="1471.8" font-size="23.0" text-anchor="end">&#8722;20</text>
<line x1="71.4" y1="1519.5" x2="76.4" y2="1519.5" stroke="#000" stroke-width="2"/>
<text x="66.9" y="1527.8" font-size="23.0" text-anchor="end">&#8722;40</text>
<text x="219.7" y="1577.0" font-size="23.5" text-anchor="middle">Dimension 1</text>
<text x="0" y="0" font-size="23.5" text-anchor="middle" transform="translate(20.0 1389.0) rotate(-90)">Dimension 2</text>
<text x="514" y="911" font-size="38" font-weight="bold">e</text>
<text x="727.5" y="944.8" font-size="23.5" text-anchor="middle">Secreted myokines</text>
<rect x="576.3" y="952.2" width="8.8" height="11.9" fill="#F5A02F"/>
<rect x="584.8" y="952.2" width="88.3" height="11.9" fill="#3A8044"/>
<rect x="672.7" y="952.2" width="63.7" height="11.9" fill="#C8322E"/>
<rect x="736.1" y="952.2" width="132.7" height="11.9" fill="#3A84B3"/>
<g>
<rect x="576.3" y="966.0" width="8.8" height="8.5" fill="#fa9295"/>
<rect x="585.1" y="966.0" width="257.1" height="8.5" fill="#fa9295"/>
<rect x="842.2" y="966.0" width="26.3" height="8.5" fill="#fc9fa3"/>
<rect x="576.3" y="974.5" width="8.8" height="248.0" fill="#fa9295"/>
<rect x="585.1" y="974.5" width="257.1" height="248.0" fill="#ea3c35"/>
<rect x="842.2" y="974.5" width="26.3" height="248.0" fill="#f98385"/>
<rect x="576.3" y="1222.4" width="8.8" height="25.4" fill="#fc9fa3"/>
<rect x="585.1" y="1222.4" width="257.1" height="25.4" fill="#f98385"/>
<rect x="842.2" y="1222.4" width="26.3" height="25.4" fill="#f66c6c"/>
<rect x="576.3" y="966.0" width="2.66" height="281.8" fill="#ffffff" fill-opacity="0.04"/>
<rect x="576.3" y="966.0" width="292.2" height="2.56" fill="#ffffff" fill-opacity="0.04"/>
<rect x="579.0" y="966.0" width="2.66" height="281.8" fill="#ec3e36" fill-opacity="0.05"/>
<rect x="576.3" y="968.6" width="292.2" height="2.56" fill="#ec3e36" fill-opacity="0.05"/>
<rect x="581.6" y="966.0" width="2.66" height="281.8" fill="#ffffff" fill-opacity="0.07"/>
<rect x="576.3" y="971.1" width="292.2" height="2.56" fill="#ffffff" fill-opacity="0.07"/>
<rect x="584.3" y="966.0" width="2.66" height="281.8" fill="#ffffff" fill-opacity="0.26"/>
<rect x="576.3" y="973.7" width="292.2" height="2.56" fill="#ffffff" fill-opacity="0.26"/>
<rect x="586.9" y="966.0" width="2.66" height="281.8" fill="#ffffff" fill-opacity="0.03"/>
<rect x="576.3" y="976.2" width="292.2" height="2.56" fill="#ffffff" fill-opacity="0.03"/>
<rect x="589.6" y="966.0" width="2.66" height="281.8" fill="#ec3e36" fill-opacity="0.09"/>
<rect x="576.3" y="978.8" width="292.2" height="2.56" fill="#ec3e36" fill-opacity="0.09"/>
<rect x="592.2" y="966.0" width="2.66" height="281.8" fill="#ec3e36" fill-opacity="0.19"/>
<rect x="576.3" y="981.4" width="292.2" height="2.56" fill="#ec3e36" fill-opacity="0.19"/>
<rect x="594.9" y="966.0" width="2.66" height="281.8" fill="#ffffff" fill-opacity="0.26"/>
<rect x="576.3" y="983.9" width="292.2" height="2.56" fill="#ffffff" fill-opacity="0.26"/>
<rect x="597.6" y="966.0" width="2.66" height="281.8" fill="#ec3e36" fill-opacity="0.31"/>
<rect x="576.3" y="986.5" width="292.2" height="2.56" fill="#ec3e36" fill-opacity="0.31"/>
<rect x="600.2" y="966.0" width="2.66" height="281.8" fill="#ffffff" fill-opacity="0.14"/>
<rect x="576.3" y="989.1" width="292.2" height="2.56" fill="#ffffff" fill-opacity="0.14"/>
<rect x="602.9" y="966.0" width="2.66" height="281.8" fill="#ec3e36" fill-opacity="0.11"/>
<rect x="576.3" y="991.6" width="292.2" height="2.56" fill="#ec3e36" fill-opacity="0.11"/>
<rect x="605.5" y="966.0" width="2.66" height="281.8" fill="#ec3e36" fill-opacity="0.15"/>
<rect x="576.3" y="994.2" width="292.2" height="2.56" fill="#ec3e36" fill-opacity="0.15"/>
<rect x="608.2" y="966.0" width="2.66" height="281.8" fill="#ec3e36" fill-opacity="0.12"/>
<rect x="576.3" y="996.7" width="292.2" height="2.56" fill="#ec3e36" fill-opacity="0.12"/>
<rect x="613.5" y="966.0" width="2.66" height="281.8" fill="#ffffff" fill-opacity="0.14"/>
<rect x="576.3" y="1001.9" width="292.2" height="2.56" fill="#ffffff" fill-opacity="0.14"/>
<rect x="616.1" y="966.0" width="2.66" height="281.8" fill="#ec3e36" fill-opacity="0.08"/>
<rect x="576.3" y="1004.4" width="292.2" height="2.56" fill="#ec3e36" fill-opacity="0.08"/>
<rect x="618.8" y="966.0" width="2.66" height="281.8" fill="#ffffff" fill-opacity="0.09"/>
<rect x="576.3" y="1007.0" width="292.2" height="2.56" fill="#ffffff" fill-opacity="0.09"/>
<rect x="621.5" y="966.0" width="2.66" height="281.8" fill="#ffffff" fill-opacity="0.30"/>
<rect x="576.3" y="1009.6" width="292.2" height="2.56" fill="#ffffff" fill-opacity="0.30"/>
<rect x="624.1" y="966.0" width="2.66" height="281.8" fill="#ec3e36" fill-opacity="0.34"/>
<rect x="576.3" y="1012.1" width="292.2" height="2.56" fill="#ec3e36" fill-opacity="0.34"/>
<rect x="626.8" y="966.0" width="2.66" height="281.8" fill="#ec3e36" fill-opacity="0.08"/>
<rect x="576.3" y="1014.7" width="292.2" height="2.56" fill="#ec3e36" fill-opacity="0.08"/>
<rect x="629.4" y="966.0" width="2.66" height="281.8" fill="#ec3e36" fill-opacity="0.22"/>
<rect x="576.3" y="1017.2" width="292.2" height="2.56" fill="#ec3e36" fill-opacity="0.22"/>
<rect x="632.1" y="966.0" width="2.66" height="281.8" fill="#ffffff" fill-opacity="0.11"/>
<rect x="576.3" y="1019.8" width="292.2" height="2.56" fill="#ffffff" fill-opacity="0.11"/>
<rect x="634.7" y="966.0" width="2.66" height="281.8" fill="#ec3e36" fill-opacity="0.18"/>
<rect x="576.3" y="1022.4" width="292.2" height="2.56" fill="#ec3e36" fill-opacity="0.18"/>
<rect x="637.4" y="966.0" width="2.66" height="281.8" fill="#ec3e36" fill-opacity="0.19"/>
<rect x="576.3" y="1024.9" width="292.2" height="2.56" fill="#ec3e36" fill-opacity="0.19"/>
<rect x="640.1" y="966.0" width="2.66" height="281.8" fill="#ec3e36" fill-opacity="0.19"/>
<rect x="576.3" y="1027.5" width="292.2" height="2.56" fill="#ec3e36" fill-opacity="0.19"/>
<rect x="645.4" y="966.0" width="2.66" height="281.8" fill="#ffffff" fill-opacity="0.14"/>
<rect x="576.3" y="1032.6" width="292.2" height="2.56" fill="#ffffff" fill-opacity="0.14"/>
<rect x="650.7" y="966.0" width="2.66" height="281.8" fill="#ffffff" fill-opacity="0.26"/>
<rect x="576.3" y="1037.7" width="292.2" height="2.56" fill="#ffffff" fill-opacity="0.26"/>
<rect x="653.3" y="966.0" width="2.66" height="281.8" fill="#ffffff" fill-opacity="0.20"/>
<rect x="576.3" y="1040.3" width="292.2" height="2.56" fill="#ffffff" fill-opacity="0.20"/>
<rect x="658.6" y="966.0" width="2.66" height="281.8" fill="#ffffff" fill-opacity="0.12"/>
<rect x="576.3" y="1045.4" width="292.2" height="2.56" fill="#ffffff" fill-opacity="0.12"/>
<rect x="666.6" y="966.0" width="2.66" height="281.8" fill="#ec3e36" fill-opacity="0.23"/>
<rect x="576.3" y="1053.1" width="292.2" height="2.56" fill="#ec3e36" fill-opacity="0.23"/>
<rect x="669.3" y="966.0" width="2.66" height="281.8" fill="#ec3e36" fill-opacity="0.16"/>
<rect x="576.3" y="1055.7" width="292.2" height="2.56" fill="#ec3e36" fill-opacity="0.16"/>
<rect x="674.6" y="966.0" width="2.66" height="281.8" fill="#ec3e36" fill-opacity="0.15"/>
<rect x="576.3" y="1060.8" width="292.2" height="2.56" fill="#ec3e36" fill-opacity="0.15"/>
<rect x="677.2" y="966.0" width="2.66" height="281.8" fill="#ffffff" fill-opacity="0.09"/>
<rect x="576.3" y="1063.3" width="292.2" height="2.56" fill="#ffffff" fill-opacity="0.09"/>
<rect x="679.9" y="966.0" width="2.66" height="281.8" fill="#ffffff" fill-opacity="0.04"/>
<rect x="576.3" y="1065.9" width="292.2" height="2.56" fill="#ffffff" fill-opacity="0.04"/>
<rect x="682.6" y="966.0" width="2.66" height="281.8" fill="#ec3e36" fill-opacity="0.11"/>
<rect x="576.3" y="1068.5" width="292.2" height="2.56" fill="#ec3e36" fill-opacity="0.11"/>
<rect x="685.2" y="966.0" width="2.66" height="281.8" fill="#ffffff" fill-opacity="0.15"/>
<rect x="576.3" y="1071.0" width="292.2" height="2.56" fill="#ffffff" fill-opacity="0.15"/>
<rect x="687.9" y="966.0" width="2.66" height="281.8" fill="#ffffff" fill-opacity="0.03"/>
<rect x="576.3" y="1073.6" width="292.2" height="2.56" fill="#ffffff" fill-opacity="0.03"/>
<rect x="690.5" y="966.0" width="2.66" height="281.8" fill="#ffffff" fill-opacity="0.16"/>
<rect x="576.3" y="1076.2" width="292.2" height="2.56" fill="#ffffff" fill-opacity="0.16"/>
<rect x="695.8" y="966.0" width="2.66" height="281.8" fill="#ec3e36" fill-opacity="0.20"/>
<rect x="576.3" y="1081.3" width="292.2" height="2.56" fill="#ec3e36" fill-opacity="0.20"/>
<rect x="698.5" y="966.0" width="2.66" height="281.8" fill="#ffffff" fill-opacity="0.09"/>
<rect x="576.3" y="1083.8" width="292.2" height="2.56" fill="#ffffff" fill-opacity="0.09"/>
<rect x="703.8" y="966.0" width="2.66" height="281.8" fill="#ffffff" fill-opacity="0.11"/>
<rect x="576.3" y="1089.0" width="292.2" height="2.56" fill="#ffffff" fill-opacity="0.11"/>
<rect x="706.5" y="966.0" width="2.66" height="281.8" fill="#ffffff" fill-opacity="0.14"/>
<rect x="576.3" y="1091.5" width="292.2" height="2.56" fill="#ffffff" fill-opacity="0.14"/>
<rect x="709.1" y="966.0" width="2.66" height="281.8" fill="#ffffff" fill-opacity="0.15"/>
<rect x="576.3" y="1094.1" width="292.2" height="2.56" fill="#ffffff" fill-opacity="0.15"/>
<rect x="711.8" y="966.0" width="2.66" height="281.8" fill="#ec3e36" fill-opacity="0.17"/>
<rect x="576.3" y="1096.7" width="292.2" height="2.56" fill="#ec3e36" fill-opacity="0.17"/>
<rect x="714.4" y="966.0" width="2.66" height="281.8" fill="#ec3e36" fill-opacity="0.28"/>
<rect x="576.3" y="1099.2" width="292.2" height="2.56" fill="#ec3e36" fill-opacity="0.28"/>
<rect x="717.1" y="966.0" width="2.66" height="281.8" fill="#ec3e36" fill-opacity="0.06"/>
<rect x="576.3" y="1101.8" width="292.2" height="2.56" fill="#ec3e36" fill-opacity="0.06"/>
<rect x="719.7" y="966.0" width="2.66" height="281.8" fill="#ffffff" fill-opacity="0.09"/>
<rect x="576.3" y="1104.3" width="292.2" height="2.56" fill="#ffffff" fill-opacity="0.09"/>
<rect x="722.4" y="966.0" width="2.66" height="281.8" fill="#ec3e36" fill-opacity="0.08"/>
<rect x="576.3" y="1106.9" width="292.2" height="2.56" fill="#ec3e36" fill-opacity="0.08"/>
<rect x="725.1" y="966.0" width="2.66" height="281.8" fill="#ffffff" fill-opacity="0.04"/>
<rect x="576.3" y="1109.5" width="292.2" height="2.56" fill="#ffffff" fill-opacity="0.04"/>
<rect x="727.7" y="966.0" width="2.66" height="281.8" fill="#ec3e36" fill-opacity="0.10"/>
<rect x="576.3" y="1112.0" width="292.2" height="2.56" fill="#ec3e36" fill-opacity="0.10"/>
<rect x="730.4" y="966.0" width="2.66" height="281.8" fill="#ec3e36" fill-opacity="0.03"/>
<rect x="576.3" y="1114.6" width="292.2" height="2.56" fill="#ec3e36" fill-opacity="0.03"/>
<rect x="733.0" y="966.0" width="2.66" height="281.8" fill="#ec3e36" fill-opacity="0.03"/>
<rect x="576.3" y="1117.1" width="292.2" height="2.56" fill="#ec3e36" fill-opacity="0.03"/>
<rect x="735.7" y="966.0" width="2.66" height="281.8" fill="#ec3e36" fill-opacity="0.07"/>
<rect x="576.3" y="1119.7" width="292.2" height="2.56" fill="#ec3e36" fill-opacity="0.07"/>
<rect x="738.3" y="966.0" width="2.66" height="281.8" fill="#ffffff" fill-opacity="0.07"/>
<rect x="576.3" y="1122.3" width="292.2" height="2.56" fill="#ffffff" fill-opacity="0.07"/>
<rect x="741.0" y="966.0" width="2.66" height="281.8" fill="#ffffff" fill-opacity="0.05"/>
<rect x="576.3" y="1124.8" width="292.2" height="2.56" fill="#ffffff" fill-opacity="0.05"/>
<rect x="743.7" y="966.0" width="2.66" height="281.8" fill="#ffffff" fill-opacity="0.21"/>
<rect x="576.3" y="1127.4" width="292.2" height="2.56" fill="#ffffff" fill-opacity="0.21"/>
<rect x="746.3" y="966.0" width="2.66" height="281.8" fill="#ffffff" fill-opacity="0.05"/>
<rect x="576.3" y="1130.0" width="292.2" height="2.56" fill="#ffffff" fill-opacity="0.05"/>
<rect x="749.0" y="966.0" width="2.66" height="281.8" fill="#ffffff" fill-opacity="0.17"/>
<rect x="576.3" y="1132.5" width="292.2" height="2.56" fill="#ffffff" fill-opacity="0.17"/>
<rect x="754.3" y="966.0" width="2.66" height="281.8" fill="#ffffff" fill-opacity="0.11"/>
<rect x="576.3" y="1137.6" width="292.2" height="2.56" fill="#ffffff" fill-opacity="0.11"/>
<rect x="759.6" y="966.0" width="2.66" height="281.8" fill="#ec3e36" fill-opacity="0.05"/>
<rect x="576.3" y="1142.8" width="292.2" height="2.56" fill="#ec3e36" fill-opacity="0.05"/>
<rect x="762.2" y="966.0" width="2.66" height="281.8" fill="#ffffff" fill-opacity="0.17"/>
<rect x="576.3" y="1145.3" width="292.2" height="2.56" fill="#ffffff" fill-opacity="0.17"/>
<rect x="764.9" y="966.0" width="2.66" height="281.8" fill="#ffffff" fill-opacity="0.10"/>
<rect x="576.3" y="1147.9" width="292.2" height="2.56" fill="#ffffff" fill-opacity="0.10"/>
<rect x="767.6" y="966.0" width="2.66" height="281.8" fill="#ffffff" fill-opacity="0.11"/>
<rect x="576.3" y="1150.5" width="292.2" height="2.56" fill="#ffffff" fill-opacity="0.11"/>
<rect x="770.2" y="966.0" width="2.66" height="281.8" fill="#ec3e36" fill-opacity="0.09"/>
<rect x="576.3" y="1153.0" width="292.2" height="2.56" fill="#ec3e36" fill-opacity="0.09"/>
<rect x="772.9" y="966.0" width="2.66" height="281.8" fill="#ec3e36" fill-opacity="0.20"/>
<rect x="576.3" y="1155.6" width="292.2" height="2.56" fill="#ec3e36" fill-opacity="0.20"/>
<rect x="775.5" y="966.0" width="2.66" height="281.8" fill="#ec3e36" fill-opacity="0.10"/>
<rect x="576.3" y="1158.1" width="292.2" height="2.56" fill="#ec3e36" fill-opacity="0.10"/>
<rect x="778.2" y="966.0" width="2.66" height="281.8" fill="#ffffff" fill-opacity="0.04"/>
<rect x="576.3" y="1160.7" width="292.2" height="2.56" fill="#ffffff" fill-opacity="0.04"/>
<rect x="780.8" y="966.0" width="2.66" height="281.8" fill="#ec3e36" fill-opacity="0.18"/>
<rect x="576.3" y="1163.3" width="292.2" height="2.56" fill="#ec3e36" fill-opacity="0.18"/>
<rect x="783.5" y="966.0" width="2.66" height="281.8" fill="#ffffff" fill-opacity="0.18"/>
<rect x="576.3" y="1165.8" width="292.2" height="2.56" fill="#ffffff" fill-opacity="0.18"/>
<rect x="786.2" y="966.0" width="2.66" height="281.8" fill="#ec3e36" fill-opacity="0.18"/>
<rect x="576.3" y="1168.4" width="292.2" height="2.56" fill="#ec3e36" fill-opacity="0.18"/>
<rect x="788.8" y="966.0" width="2.66" height="281.8" fill="#ffffff" fill-opacity="0.08"/>
<rect x="576.3" y="1170.9" width="292.2" height="2.56" fill="#ffffff" fill-opacity="0.08"/>
<rect x="791.5" y="966.0" width="2.66" height="281.8" fill="#ffffff" fill-opacity="0.33"/>
<rect x="576.3" y="1173.5" width="292.2" height="2.56" fill="#ffffff" fill-opacity="0.33"/>
<rect x="794.1" y="966.0" width="2.66" height="281.8" fill="#ec3e36" fill-opacity="0.32"/>
<rect x="576.3" y="1176.1" width="292.2" height="2.56" fill="#ec3e36" fill-opacity="0.32"/>
<rect x="796.8" y="966.0" width="2.66" height="281.8" fill="#ec3e36" fill-opacity="0.19"/>
<rect x="576.3" y="1178.6" width="292.2" height="2.56" fill="#ec3e36" fill-opacity="0.19"/>
<rect x="799.4" y="966.0" width="2.66" height="281.8" fill="#ffffff" fill-opacity="0.12"/>
<rect x="576.3" y="1181.2" width="292.2" height="2.56" fill="#ffffff" fill-opacity="0.12"/>
<rect x="810.1" y="966.0" width="2.66" height="281.8" fill="#ffffff" fill-opacity="0.18"/>
<rect x="576.3" y="1191.4" width="292.2" height="2.56" fill="#ffffff" fill-opacity="0.18"/>
<rect x="812.7" y="966.0" width="2.66" height="281.8" fill="#ffffff" fill-opacity="0.08"/>
<rect x="576.3" y="1194.0" width="292.2" height="2.56" fill="#ffffff" fill-opacity="0.08"/>
<rect x="815.4" y="966.0" width="2.66" height="281.8" fill="#ec3e36" fill-opacity="0.06"/>
<rect x="576.3" y="1196.6" width="292.2" height="2.56" fill="#ec3e36" fill-opacity="0.06"/>
<rect x="820.7" y="966.0" width="2.66" height="281.8" fill="#ec3e36" fill-opacity="0.14"/>
<rect x="576.3" y="1201.7" width="292.2" height="2.56" fill="#ec3e36" fill-opacity="0.14"/>
<rect x="826.0" y="966.0" width="2.66" height="281.8" fill="#ec3e36" fill-opacity="0.28"/>
<rect x="576.3" y="1206.8" width="292.2" height="2.56" fill="#ec3e36" fill-opacity="0.28"/>
<rect x="828.7" y="966.0" width="2.66" height="281.8" fill="#ffffff" fill-opacity="0.09"/>
<rect x="576.3" y="1209.4" width="292.2" height="2.56" fill="#ffffff" fill-opacity="0.09"/>
<rect x="831.3" y="966.0" width="2.66" height="281.8" fill="#ec3e36" fill-opacity="0.03"/>
<rect x="576.3" y="1211.9" width="292.2" height="2.56" fill="#ec3e36" fill-opacity="0.03"/>
<rect x="834.0" y="966.0" width="2.66" height="281.8" fill="#ffffff" fill-opacity="0.23"/>
<rect x="576.3" y="1214.5" width="292.2" height="2.56" fill="#ffffff" fill-opacity="0.23"/>
<rect x="836.6" y="966.0" width="2.66" height="281.8" fill="#ffffff" fill-opacity="0.15"/>
<rect x="576.3" y="1217.1" width="292.2" height="2.56" fill="#ffffff" fill-opacity="0.15"/>
<rect x="839.3" y="966.0" width="2.66" height="281.8" fill="#ec3e36" fill-opacity="0.16"/>
<rect x="576.3" y="1219.6" width="292.2" height="2.56" fill="#ec3e36" fill-opacity="0.16"/>
<rect x="841.9" y="966.0" width="2.66" height="281.8" fill="#ffffff" fill-opacity="0.11"/>
<rect x="576.3" y="1222.2" width="292.2" height="2.56" fill="#ffffff" fill-opacity="0.11"/>
<rect x="844.6" y="966.0" width="2.66" height="281.8" fill="#ec3e36" fill-opacity="0.06"/>
<rect x="576.3" y="1224.7" width="292.2" height="2.56" fill="#ec3e36" fill-opacity="0.06"/>
<rect x="849.9" y="966.0" width="2.66" height="281.8" fill="#ffffff" fill-opacity="0.13"/>
<rect x="576.3" y="1229.9" width="292.2" height="2.56" fill="#ffffff" fill-opacity="0.13"/>
<rect x="852.6" y="966.0" width="2.66" height="281.8" fill="#ffffff" fill-opacity="0.04"/>
<rect x="576.3" y="1232.4" width="292.2" height="2.56" fill="#ffffff" fill-opacity="0.04"/>
<rect x="855.2" y="966.0" width="2.66" height="281.8" fill="#ffffff" fill-opacity="0.06"/>
<rect x="576.3" y="1235.0" width="292.2" height="2.56" fill="#ffffff" fill-opacity="0.06"/>
<rect x="857.9" y="966.0" width="2.66" height="281.8" fill="#ffffff" fill-opacity="0.06"/>
<rect x="576.3" y="1237.6" width="292.2" height="2.56" fill="#ffffff" fill-opacity="0.06"/>
<rect x="860.5" y="966.0" width="2.66" height="281.8" fill="#ec3e36" fill-opacity="0.09"/>
<rect x="576.3" y="1240.1" width="292.2" height="2.56" fill="#ec3e36" fill-opacity="0.09"/>
<rect x="863.2" y="966.0" width="2.66" height="281.8" fill="#ec3e36" fill-opacity="0.08"/>
<rect x="576.3" y="1242.7" width="292.2" height="2.56" fill="#ec3e36" fill-opacity="0.08"/>
<rect x="865.8" y="966.0" width="2.66" height="281.8" fill="#ffffff" fill-opacity="0.07"/>
<rect x="576.3" y="1245.2" width="292.2" height="2.56" fill="#ffffff" fill-opacity="0.07"/>
<rect x="576.3" y="966.0" width="2.6" height="281.8" fill="#fbe8e8" fill-opacity="0.8"/>
<rect x="576.3" y="966.0" width="292.2" height="2.6" fill="#fbe8e8" fill-opacity="0.8"/>
<rect x="578.9" y="968.6" width="2.4" height="279.2" fill="#6c74c8" fill-opacity="0.6"/>
<rect x="578.9" y="968.6" width="289.6" height="2.4" fill="#6c74c8" fill-opacity="0.6"/>
<rect x="864.5" y="966.0" width="2.5" height="281.8" fill="#7d83cc" fill-opacity="0.5"/>
<rect x="576.3" y="1243.8" width="292.2" height="2.5" fill="#7d83cc" fill-opacity="0.5"/>
<rect x="708.4" y="966.0" width="2" height="281.8" fill="#ffffff" fill-opacity="0.8"/>
<rect x="576.3" y="1093.4" width="292.2" height="2" fill="#ffffff" fill-opacity="0.8"/>
<defs><pattern id="sp576_0" width="29.220" height="29.220" patternUnits="userSpaceOnUse" x="576.30" y="966.00"><rect x="13.28" y="0.00" width="2.66" height="2.66" fill="#fff" fill-opacity="0.35"/><rect x="15.94" y="0.00" width="2.66" height="2.66" fill="#fff" fill-opacity="0.78"/><rect x="23.91" y="0.00" width="2.66" height="2.66" fill="#fff" fill-opacity="0.53"/><rect x="2.66" y="2.66" width="2.66" height="2.66" fill="#fff" fill-opacity="0.55"/><rect x="13.28" y="2.66" width="2.66" height="2.66" fill="#fff" fill-opacity="0.83"/><rect x="23.91" y="2.66" width="2.66" height="2.66" fill="#fff" fill-opacity="0.47"/><rect x="26.56" y="2.66" width="2.66" height="2.66" fill="#fff" fill-opacity="0.45"/><rect x="0.00" y="5.31" width="2.66" height="2.66" fill="#fff" fill-opacity="0.56"/><rect x="10.63" y="5.31" width="2.66" height="2.66" fill="#fff" fill-opacity="0.40"/><rect x="7.97" y="7.97" width="2.66" height="2.66" fill="#fff" fill-opacity="0.79"/><rect x="15.94" y="10.63" width="2.66" height="2.66" fill="#fff" fill-opacity="0.43"/><rect x="13.28" y="13.28" width="2.66" height="2.66" fill="#fff" fill-opacity="0.77"/><rect x="18.59" y="13.28" width="2.66" height="2.66" fill="#fff" fill-opacity="0.51"/><rect x="26.56" y="13.28" width="2.66" height="2.66" fill="#fff" fill-opacity="0.47"/><rect x="21.25" y="15.94" width="2.66" height="2.66" fill="#fff" fill-opacity="0.46"/><rect x="0.00" y="18.59" width="2.66" height="2.66" fill="#fff" fill-opacity="0.55"/><rect x="21.25" y="18.59" width="2.66" height="2.66" fill="#fff" fill-opacity="0.75"/><rect x="15.94" y="21.25" width="2.66" height="2.66" fill="#fff" fill-opacity="0.70"/><rect x="23.91" y="21.25" width="2.66" height="2.66" fill="#fff" fill-opacity="0.55"/><rect x="26.56" y="21.25" width="2.66" height="2.66" fill="#fff" fill-opacity="0.68"/><rect x="5.31" y="23.91" width="2.66" height="2.66" fill="#fff" fill-opacity="0.67"/><rect x="10.63" y="23.91" width="2.66" height="2.66" fill="#fff" fill-opacity="0.45"/><rect x="18.59" y="23.91" width="2.66" height="2.66" fill="#fff" fill-opacity="0.62"/><rect x="13.28" y="26.56" width="2.66" height="2.66" fill="#fff" fill-opacity="0.82"/></pattern><pattern id="sp576_1" width="34.533" height="34.533" patternUnits="userSpaceOnUse" x="576.30" y="966.00"><rect x="13.28" y="0.00" width="2.66" height="2.66" fill="#fff" fill-opacity="0.58"/><rect x="18.59" y="0.00" width="2.66" height="2.66" fill="#fff" fill-opacity="0.84"/><rect x="29.22" y="0.00" width="2.66" height="2.66" fill="#fff" fill-opacity="0.80"/><rect x="7.97" y="2.66" width="2.66" height="2.66" fill="#fff" fill-opacity="0.68"/><rect x="18.59" y="2.66" width="2.66" height="2.66" fill="#fff" fill-opacity="0.46"/><rect x="0.00" y="5.31" width="2.66" height="2.66" fill="#fff" fill-opacity="0.48"/><rect x="10.63" y="5.31" width="2.66" height="2.66" fill="#fff" fill-opacity="0.56"/><rect x="15.94" y="5.31" width="2.66" height="2.66" fill="#fff" fill-opacity="0.77"/><rect x="23.91" y="5.31" width="2.66" height="2.66" fill="#fff" fill-opacity="0.79"/><rect x="2.66" y="7.97" width="2.66" height="2.66" fill="#fff" fill-opacity="0.64"/><rect x="26.56" y="7.97" width="2.66" height="2.66" fill="#fff" fill-opacity="0.50"/><rect x="2.66" y="10.63" width="2.66" height="2.66" fill="#fff" fill-opacity="0.45"/><rect x="5.31" y="13.28" width="2.66" height="2.66" fill="#fff" fill-opacity="0.45"/><rect x="23.91" y="13.28" width="2.66" height="2.66" fill="#fff" fill-opacity="0.80"/><rect x="26.56" y="13.28" width="2.66" height="2.66" fill="#fff" fill-opacity="0.55"/><rect x="7.97" y="15.94" width="2.66" height="2.66" fill="#fff" fill-opacity="0.58"/><rect x="10.63" y="15.94" width="2.66" height="2.66" fill="#fff" fill-opacity="0.83"/><rect x="13.28" y="15.94" width="2.66" height="2.66" fill="#fff" fill-opacity="0.51"/><rect x="18.59" y="15.94" width="2.66" height="2.66" fill="#fff" fill-opacity="0.60"/><rect x="21.25" y="15.94" width="2.66" height="2.66" fill="#fff" fill-opacity="0.80"/><rect x="21.25" y="18.59" width="2.66" height="2.66" fill="#fff" fill-opacity="0.78"/><rect x="7.97" y="21.25" width="2.66" height="2.66" fill="#fff" fill-opacity="0.52"/><rect x="21.25" y="21.25" width="2.66" height="2.66" fill="#fff" fill-opacity="0.50"/><rect x="26.56" y="21.25" width="2.66" height="2.66" fill="#fff" fill-opacity="0.81"/><rect x="31.88" y="21.25" width="2.66" height="2.66" fill="#fff" fill-opacity="0.65"/><rect x="15.94" y="23.91" width="2.66" height="2.66" fill="#fff" fill-opacity="0.80"/><rect x="15.94" y="26.56" width="2.66" height="2.66" fill="#fff" fill-opacity="0.72"/><rect x="5.31" y="29.22" width="2.66" height="2.66" fill="#fff" fill-opacity="0.57"/><rect x="13.28" y="29.22" width="2.66" height="2.66" fill="#fff" fill-opacity="0.82"/></pattern></defs>
<rect x="576.3" y="966.0" width="292.2" height="281.8" fill="url(#sp576_0)" opacity="0.50"/>
<rect x="576.3" y="966.0" width="292.2" height="281.8" fill="url(#sp576_1)" opacity="0.50"/>
<line x1="576.3" y1="966.0" x2="868.5" y2="1247.8" stroke="#d42a22" stroke-width="1.7" stroke-opacity="0.35"/>
</g>
<text x="876.8" y="971.2" font-size="23.9">Spearman&#8217;s <tspan font-style="italic">r</tspan></text>
<rect x="880.2" y="980.2" width="125.2" height="13.6" fill="url(#cbare)" stroke="#000" stroke-width="2.2"/>
<line x1="895.8" y1="993.8" x2="895.8" y2="996.8" stroke="#000" stroke-width="1.6"/>
<text x="898.8" y="1018.8" font-size="22.8" text-anchor="middle">0.92</text>
<line x1="951.0" y1="993.8" x2="951.0" y2="996.8" stroke="#000" stroke-width="1.6"/>
<text x="958.0" y="1018.8" font-size="22.8" text-anchor="middle">0.96</text>
<line x1="1005.8" y1="993.8" x2="1005.8" y2="996.8" stroke="#000" stroke-width="1.6"/>
<text x="1003.0" y="1018.8" font-size="22.8" text-anchor="middle">1</text>
<rect x="882.2" y="1044.0" width="14.5" height="14.5" fill="#F5A02F" stroke="#000" stroke-width="2"/>
<text x="906.9" y="1059.5" font-size="23.5">Head</text>
<rect x="882.2" y="1067.5" width="14.5" height="14.5" fill="#3A8044" stroke="#000" stroke-width="2"/>
<text x="906.9" y="1083.0" font-size="23.5">Forelimb</text>
<rect x="882.2" y="1091.0" width="14.5" height="14.5" fill="#C8322E" stroke="#000" stroke-width="2"/>
<text x="906.9" y="1106.5" font-size="23.5">Trunk</text>
<rect x="882.2" y="1114.5" width="14.5" height="14.5" fill="#3A84B3" stroke="#000" stroke-width="2"/>
<text x="906.9" y="1130.0" font-size="23.5">Hindlimb</text>
<g>
<ellipse cx="747.0" cy="1387.2" rx="133.4" ry="81.2" transform="rotate(-40.1 747.0 1387.2)" fill="#5a7ca8" fill-opacity="0.25" stroke="#2C86BC" stroke-width="2.4"/>
<ellipse cx="742.9" cy="1389.0" rx="105.0" ry="75.3" transform="rotate(-50.8 742.9 1389.0)" fill="#53703a" fill-opacity="0.25" stroke="#2E7D3E" stroke-width="2.4"/>
<ellipse cx="735.3" cy="1406.7" rx="123.7" ry="83.8" transform="rotate(-35.0 735.3 1406.7)" fill="#c2502f" fill-opacity="0.25" stroke="#CF2A30" stroke-width="2.4"/>
<ellipse cx="699.5" cy="1448.9" rx="114.0" ry="35.0" transform="rotate(33.0 699.5 1448.9)" fill="#f59b4a" fill-opacity="0.25" stroke="#F39B26" stroke-width="2.4"/>
<circle cx="736.3" cy="1330.7" r="4.6" fill="#3A8046"/>
<circle cx="740.4" cy="1332.7" r="4.6" fill="#3A8046"/>
<circle cx="718.2" cy="1357.0" r="4.6" fill="#3A8046"/>
<circle cx="720.2" cy="1361.0" r="4.6" fill="#3A8046"/>
<circle cx="722.2" cy="1409.5" r="4.6" fill="#3A8046"/>
<circle cx="726.2" cy="1411.5" r="4.6" fill="#3A8046"/>
<circle cx="742.4" cy="1413.5" r="4.6" fill="#3A8046"/>
<circle cx="744.4" cy="1415.5" r="4.6" fill="#3A8046"/>
<circle cx="754.5" cy="1383.2" r="4.6" fill="#3A8046"/>
<circle cx="762.6" cy="1381.2" r="4.6" fill="#3A8046"/>
<circle cx="774.7" cy="1382.2" r="4.6" fill="#3A8046"/>
<circle cx="778.8" cy="1377.2" r="4.6" fill="#3A8046"/>
<circle cx="803.0" cy="1374.1" r="4.6" fill="#3A8046"/>
<circle cx="706.0" cy="1443.8" r="4.6" fill="#3A8046"/>
<circle cx="700.0" cy="1427.7" r="4.6" fill="#3A8046"/>
<circle cx="685.8" cy="1397.4" r="4.6" fill="#D0343A"/>
<circle cx="693.9" cy="1399.4" r="4.6" fill="#D0343A"/>
<circle cx="702.0" cy="1401.4" r="4.6" fill="#D0343A"/>
<circle cx="704.0" cy="1403.4" r="4.6" fill="#D0343A"/>
<circle cx="722.2" cy="1373.1" r="4.6" fill="#D0343A"/>
<circle cx="724.2" cy="1369.1" r="4.6" fill="#D0343A"/>
<circle cx="764.6" cy="1373.1" r="4.6" fill="#D0343A"/>
<circle cx="768.7" cy="1377.2" r="4.6" fill="#D0343A"/>
<circle cx="766.6" cy="1381.2" r="4.6" fill="#D0343A"/>
<circle cx="768.7" cy="1389.3" r="4.6" fill="#D0343A"/>
<circle cx="734.3" cy="1401.4" r="4.6" fill="#D0343A"/>
<circle cx="736.3" cy="1408.5" r="4.6" fill="#D0343A"/>
<circle cx="714.1" cy="1421.6" r="4.6" fill="#D0343A"/>
<circle cx="770.7" cy="1357.0" r="4.6" fill="#D0343A"/>
<circle cx="782.8" cy="1369.1" r="4.6" fill="#D0343A"/>
<circle cx="807.0" cy="1393.3" r="4.6" fill="#D0343A"/>
<circle cx="764.6" cy="1433.7" r="4.6" fill="#D0343A"/>
<circle cx="718.2" cy="1447.9" r="4.6" fill="#D0343A"/>
<circle cx="724.2" cy="1451.9" r="4.6" fill="#D0343A"/>
<circle cx="730.3" cy="1452.9" r="4.6" fill="#D0343A"/>
<circle cx="691.9" cy="1445.8" r="4.6" fill="#F39C33"/>
<circle cx="699.0" cy="1437.8" r="4.6" fill="#F39C33"/>
<circle cx="719.2" cy="1461.0" r="4.6" fill="#F39C33"/>
<circle cx="738.4" cy="1336.8" r="4.6" fill="#2F84B8"/>
<circle cx="762.6" cy="1339.8" r="4.6" fill="#2F84B8"/>
<circle cx="760.6" cy="1344.8" r="4.6" fill="#2F84B8"/>
<circle cx="758.6" cy="1348.9" r="4.6" fill="#2F84B8"/>
<circle cx="774.7" cy="1338.8" r="4.6" fill="#2F84B8"/>
<circle cx="778.8" cy="1340.8" r="4.6" fill="#2F84B8"/>
<circle cx="754.5" cy="1353.9" r="4.6" fill="#2F84B8"/>
<circle cx="762.6" cy="1354.9" r="4.6" fill="#2F84B8"/>
<circle cx="768.7" cy="1352.9" r="4.6" fill="#2F84B8"/>
<circle cx="782.8" cy="1361.0" r="4.6" fill="#2F84B8"/>
<circle cx="778.8" cy="1367.1" r="4.6" fill="#2F84B8"/>
<circle cx="786.8" cy="1357.0" r="4.6" fill="#2F84B8"/>
<circle cx="792.9" cy="1353.9" r="4.6" fill="#2F84B8"/>
<circle cx="799.0" cy="1352.9" r="4.6" fill="#2F84B8"/>
<circle cx="803.0" cy="1353.3" r="4.6" fill="#2F84B8"/>
<circle cx="724.2" cy="1359.0" r="4.6" fill="#2F84B8"/>
<circle cx="730.3" cy="1359.0" r="4.6" fill="#2F84B8"/>
<circle cx="730.3" cy="1368.1" r="4.6" fill="#2F84B8"/>
<circle cx="722.2" cy="1381.2" r="4.6" fill="#2F84B8"/>
<circle cx="720.2" cy="1383.2" r="4.6" fill="#2F84B8"/>
<circle cx="752.5" cy="1375.1" r="4.6" fill="#2F84B8"/>
<circle cx="790.9" cy="1378.2" r="4.6" fill="#2F84B8"/>
<circle cx="774.7" cy="1379.2" r="4.6" fill="#2F84B8"/>
<circle cx="801.0" cy="1383.2" r="4.6" fill="#2F84B8"/>
<circle cx="803.0" cy="1389.3" r="4.6" fill="#2F84B8"/>
<circle cx="805.0" cy="1391.3" r="4.6" fill="#2F84B8"/>
<circle cx="687.9" cy="1389.3" r="4.6" fill="#2F84B8"/>
<circle cx="693.9" cy="1391.3" r="4.6" fill="#2F84B8"/>
<circle cx="700.0" cy="1393.3" r="4.6" fill="#2F84B8"/>
<circle cx="702.0" cy="1391.3" r="4.6" fill="#2F84B8"/>
<circle cx="752.5" cy="1397.4" r="4.6" fill="#2F84B8"/>
<circle cx="762.6" cy="1399.4" r="4.6" fill="#2F84B8"/>
<circle cx="756.5" cy="1409.5" r="4.6" fill="#2F84B8"/>
<circle cx="758.6" cy="1415.5" r="4.6" fill="#2F84B8"/>
<circle cx="758.6" cy="1421.6" r="4.6" fill="#2F84B8"/>
<circle cx="756.5" cy="1427.7" r="4.6" fill="#2F84B8"/>
<circle cx="760.6" cy="1431.7" r="4.6" fill="#2F84B8"/>
<circle cx="726.2" cy="1415.5" r="4.6" fill="#2F84B8"/>
<circle cx="724.2" cy="1419.6" r="4.6" fill="#2F84B8"/>
<circle cx="702.0" cy="1423.6" r="4.6" fill="#2F84B8"/>
<circle cx="700.0" cy="1427.7" r="4.6" fill="#2F84B8"/>
<circle cx="704.0" cy="1421.6" r="4.6" fill="#2F84B8"/>
<circle cx="677.8" cy="1425.6" r="4.6" fill="#2F84B8"/>
<circle cx="678.8" cy="1429.7" r="4.6" fill="#2F84B8"/>
<circle cx="734.3" cy="1452.9" r="4.6" fill="#2F84B8"/>
<circle cx="720.2" cy="1455.9" r="4.6" fill="#2F84B8"/>
<circle cx="720.2" cy="1459.0" r="4.6" fill="#2F84B8"/>
</g>
<rect x="594.9" y="1274.5" width="274.4" height="249.1" fill="none" stroke="#000" stroke-width="2.3"/>
<line x1="600.8" y1="1523.6" x2="600.8" y2="1528.6" stroke="#000" stroke-width="2"/>
<text x="600.8" y="1553.6" font-size="23.0" text-anchor="middle">&#8722;40</text>
<line x1="671.2" y1="1523.6" x2="671.2" y2="1528.6" stroke="#000" stroke-width="2"/>
<text x="671.2" y="1553.6" font-size="23.0" text-anchor="middle">&#8722;20</text>
<line x1="741.6" y1="1523.6" x2="741.6" y2="1528.6" stroke="#000" stroke-width="2"/>
<text x="741.6" y="1553.6" font-size="23.0" text-anchor="middle">0</text>
<line x1="812.0" y1="1523.6" x2="812.0" y2="1528.6" stroke="#000" stroke-width="2"/>
<text x="812.0" y="1553.6" font-size="23.0" text-anchor="middle">20</text>
<line x1="589.9" y1="1304.0" x2="594.9" y2="1304.0" stroke="#000" stroke-width="2"/>
<text x="585.4" y="1312.3" font-size="23.0" text-anchor="end">40</text>
<line x1="589.9" y1="1348.9" x2="594.9" y2="1348.9" stroke="#000" stroke-width="2"/>
<text x="585.4" y="1357.2" font-size="23.0" text-anchor="end">20</text>
<line x1="589.9" y1="1393.7" x2="594.9" y2="1393.7" stroke="#000" stroke-width="2"/>
<text x="585.4" y="1402.0" font-size="23.0" text-anchor="end">0</text>
<line x1="589.9" y1="1438.5" x2="594.9" y2="1438.5" stroke="#000" stroke-width="2"/>
<text x="585.4" y="1446.8" font-size="23.0" text-anchor="end">&#8722;20</text>
<line x1="589.9" y1="1483.4" x2="594.9" y2="1483.4" stroke="#000" stroke-width="2"/>
<text x="585.4" y="1491.7" font-size="23.0" text-anchor="end">&#8722;40</text>
<text x="742.4" y="1577.0" font-size="23.5" text-anchor="middle">Dimension 1</text>
<text x="0" y="0" font-size="23.5" text-anchor="middle" transform="translate(539.5 1392.0) rotate(-90)">Dimension 2</text>
<text x="1029" y="911" font-size="38" font-weight="bold">f</text>
<text x="1232.5" y="948.2" font-size="23.5" text-anchor="middle">NMJ assembly genes</text>
<rect x="1088.4" y="956.7" width="8.8" height="11.4" fill="#F5A02F"/>
<rect x="1096.9" y="956.7" width="85.1" height="11.4" fill="#3A8044"/>
<rect x="1181.7" y="956.7" width="61.6" height="11.4" fill="#C8322E"/>
<rect x="1243.0" y="956.7" width="129.3" height="11.4" fill="#3A84B3"/>
<g>
<rect x="1088.4" y="969.4" width="8.5" height="8.2" fill="#e6e6f5"/>
<rect x="1096.9" y="969.4" width="275.1" height="8.2" fill="#eeeef8"/>
<rect x="1088.4" y="977.6" width="8.5" height="266.2" fill="#eeeef8"/>
<rect x="1096.9" y="977.6" width="275.1" height="266.2" fill="#ea3c35"/>
<rect x="1088.4" y="969.4" width="2.58" height="274.4" fill="#ffffff" fill-opacity="0.14"/>
<rect x="1088.4" y="969.4" width="283.6" height="2.49" fill="#ffffff" fill-opacity="0.14"/>
<rect x="1091.0" y="969.4" width="2.58" height="274.4" fill="#ec3e36" fill-opacity="0.14"/>
<rect x="1088.4" y="971.9" width="283.6" height="2.49" fill="#ec3e36" fill-opacity="0.14"/>
<rect x="1093.6" y="969.4" width="2.58" height="274.4" fill="#ec3e36" fill-opacity="0.14"/>
<rect x="1088.4" y="974.4" width="283.6" height="2.49" fill="#ec3e36" fill-opacity="0.14"/>
<rect x="1096.1" y="969.4" width="2.58" height="274.4" fill="#ffffff" fill-opacity="0.07"/>
<rect x="1088.4" y="976.9" width="283.6" height="2.49" fill="#ffffff" fill-opacity="0.07"/>
<rect x="1098.7" y="969.4" width="2.58" height="274.4" fill="#ffffff" fill-opacity="0.08"/>
<rect x="1088.4" y="979.4" width="283.6" height="2.49" fill="#ffffff" fill-opacity="0.08"/>
<rect x="1106.4" y="969.4" width="2.58" height="274.4" fill="#ffffff" fill-opacity="0.12"/>
<rect x="1088.4" y="986.9" width="283.6" height="2.49" fill="#ffffff" fill-opacity="0.12"/>
<rect x="1109.0" y="969.4" width="2.58" height="274.4" fill="#ec3e36" fill-opacity="0.07"/>
<rect x="1088.4" y="989.4" width="283.6" height="2.49" fill="#ec3e36" fill-opacity="0.07"/>
<rect x="1111.6" y="969.4" width="2.58" height="274.4" fill="#ffffff" fill-opacity="0.25"/>
<rect x="1088.4" y="991.9" width="283.6" height="2.49" fill="#ffffff" fill-opacity="0.25"/>
<rect x="1114.2" y="969.4" width="2.58" height="274.4" fill="#ffffff" fill-opacity="0.05"/>
<rect x="1088.4" y="994.3" width="283.6" height="2.49" fill="#ffffff" fill-opacity="0.05"/>
<rect x="1116.8" y="969.4" width="2.58" height="274.4" fill="#ffffff" fill-opacity="0.05"/>
<rect x="1088.4" y="996.8" width="283.6" height="2.49" fill="#ffffff" fill-opacity="0.05"/>
<rect x="1119.3" y="969.4" width="2.58" height="274.4" fill="#ffffff" fill-opacity="0.03"/>
<rect x="1088.4" y="999.3" width="283.6" height="2.49" fill="#ffffff" fill-opacity="0.03"/>
<rect x="1121.9" y="969.4" width="2.58" height="274.4" fill="#ec3e36" fill-opacity="0.04"/>
<rect x="1088.4" y="1001.8" width="283.6" height="2.49" fill="#ec3e36" fill-opacity="0.04"/>
<rect x="1124.5" y="969.4" width="2.58" height="274.4" fill="#ffffff" fill-opacity="0.15"/>
<rect x="1088.4" y="1004.3" width="283.6" height="2.49" fill="#ffffff" fill-opacity="0.15"/>
<rect x="1127.1" y="969.4" width="2.58" height="274.4" fill="#ec3e36" fill-opacity="0.07"/>
<rect x="1088.4" y="1006.8" width="283.6" height="2.49" fill="#ec3e36" fill-opacity="0.07"/>
<rect x="1132.2" y="969.4" width="2.58" height="274.4" fill="#ffffff" fill-opacity="0.08"/>
<rect x="1088.4" y="1011.8" width="283.6" height="2.49" fill="#ffffff" fill-opacity="0.08"/>
<rect x="1134.8" y="969.4" width="2.58" height="274.4" fill="#ffffff" fill-opacity="0.16"/>
<rect x="1088.4" y="1014.3" width="283.6" height="2.49" fill="#ffffff" fill-opacity="0.16"/>
<rect x="1137.4" y="969.4" width="2.58" height="274.4" fill="#ffffff" fill-opacity="0.14"/>
<rect x="1088.4" y="1016.8" width="283.6" height="2.49" fill="#ffffff" fill-opacity="0.14"/>
<rect x="1140.0" y="969.4" width="2.58" height="274.4" fill="#ec3e36" fill-opacity="0.04"/>
<rect x="1088.4" y="1019.3" width="283.6" height="2.49" fill="#ec3e36" fill-opacity="0.04"/>
<rect x="1142.5" y="969.4" width="2.58" height="274.4" fill="#ffffff" fill-opacity="0.12"/>
<rect x="1088.4" y="1021.8" width="283.6" height="2.49" fill="#ffffff" fill-opacity="0.12"/>
<rect x="1147.7" y="969.4" width="2.58" height="274.4" fill="#ec3e36" fill-opacity="0.13"/>
<rect x="1088.4" y="1026.8" width="283.6" height="2.49" fill="#ec3e36" fill-opacity="0.13"/>
<rect x="1150.3" y="969.4" width="2.58" height="274.4" fill="#ec3e36" fill-opacity="0.12"/>
<rect x="1088.4" y="1029.3" width="283.6" height="2.49" fill="#ec3e36" fill-opacity="0.12"/>
<rect x="1152.9" y="969.4" width="2.58" height="274.4" fill="#ec3e36" fill-opacity="0.19"/>
<rect x="1088.4" y="1031.8" width="283.6" height="2.49" fill="#ec3e36" fill-opacity="0.19"/>
<rect x="1155.4" y="969.4" width="2.58" height="274.4" fill="#ffffff" fill-opacity="0.04"/>
<rect x="1088.4" y="1034.3" width="283.6" height="2.49" fill="#ffffff" fill-opacity="0.04"/>
<rect x="1158.0" y="969.4" width="2.58" height="274.4" fill="#ffffff" fill-opacity="0.13"/>
<rect x="1088.4" y="1036.8" width="283.6" height="2.49" fill="#ffffff" fill-opacity="0.13"/>
<rect x="1160.6" y="969.4" width="2.58" height="274.4" fill="#ec3e36" fill-opacity="0.12"/>
<rect x="1088.4" y="1039.2" width="283.6" height="2.49" fill="#ec3e36" fill-opacity="0.12"/>
<rect x="1163.2" y="969.4" width="2.58" height="274.4" fill="#ec3e36" fill-opacity="0.04"/>
<rect x="1088.4" y="1041.7" width="283.6" height="2.49" fill="#ec3e36" fill-opacity="0.04"/>
<rect x="1165.7" y="969.4" width="2.58" height="274.4" fill="#ec3e36" fill-opacity="0.13"/>
<rect x="1088.4" y="1044.2" width="283.6" height="2.49" fill="#ec3e36" fill-opacity="0.13"/>
<rect x="1170.9" y="969.4" width="2.58" height="274.4" fill="#ec3e36" fill-opacity="0.14"/>
<rect x="1088.4" y="1049.2" width="283.6" height="2.49" fill="#ec3e36" fill-opacity="0.14"/>
<rect x="1173.5" y="969.4" width="2.58" height="274.4" fill="#ec3e36" fill-opacity="0.10"/>
<rect x="1088.4" y="1051.7" width="283.6" height="2.49" fill="#ec3e36" fill-opacity="0.10"/>
<rect x="1176.1" y="969.4" width="2.58" height="274.4" fill="#ec3e36" fill-opacity="0.09"/>
<rect x="1088.4" y="1054.2" width="283.6" height="2.49" fill="#ec3e36" fill-opacity="0.09"/>
<rect x="1178.6" y="969.4" width="2.58" height="274.4" fill="#ec3e36" fill-opacity="0.06"/>
<rect x="1088.4" y="1056.7" width="283.6" height="2.49" fill="#ec3e36" fill-opacity="0.06"/>
<rect x="1181.2" y="969.4" width="2.58" height="274.4" fill="#ec3e36" fill-opacity="0.05"/>
<rect x="1088.4" y="1059.2" width="283.6" height="2.49" fill="#ec3e36" fill-opacity="0.05"/>
<rect x="1188.9" y="969.4" width="2.58" height="274.4" fill="#ec3e36" fill-opacity="0.12"/>
<rect x="1088.4" y="1066.7" width="283.6" height="2.49" fill="#ec3e36" fill-opacity="0.12"/>
<rect x="1191.5" y="969.4" width="2.58" height="274.4" fill="#ffffff" fill-opacity="0.06"/>
<rect x="1088.4" y="1069.2" width="283.6" height="2.49" fill="#ffffff" fill-opacity="0.06"/>
<rect x="1194.1" y="969.4" width="2.58" height="274.4" fill="#ec3e36" fill-opacity="0.21"/>
<rect x="1088.4" y="1071.7" width="283.6" height="2.49" fill="#ec3e36" fill-opacity="0.21"/>
<rect x="1199.3" y="969.4" width="2.58" height="274.4" fill="#ec3e36" fill-opacity="0.12"/>
<rect x="1088.4" y="1076.7" width="283.6" height="2.49" fill="#ec3e36" fill-opacity="0.12"/>
<rect x="1207.0" y="969.4" width="2.58" height="274.4" fill="#ec3e36" fill-opacity="0.24"/>
<rect x="1088.4" y="1084.1" width="283.6" height="2.49" fill="#ec3e36" fill-opacity="0.24"/>
<rect x="1209.6" y="969.4" width="2.58" height="274.4" fill="#ffffff" fill-opacity="0.04"/>
<rect x="1088.4" y="1086.6" width="283.6" height="2.49" fill="#ffffff" fill-opacity="0.04"/>
<rect x="1212.2" y="969.4" width="2.58" height="274.4" fill="#ffffff" fill-opacity="0.15"/>
<rect x="1088.4" y="1089.1" width="283.6" height="2.49" fill="#ffffff" fill-opacity="0.15"/>
<rect x="1214.7" y="969.4" width="2.58" height="274.4" fill="#ffffff" fill-opacity="0.09"/>
<rect x="1088.4" y="1091.6" width="283.6" height="2.49" fill="#ffffff" fill-opacity="0.09"/>
<rect x="1217.3" y="969.4" width="2.58" height="274.4" fill="#ffffff" fill-opacity="0.04"/>
<rect x="1088.4" y="1094.1" width="283.6" height="2.49" fill="#ffffff" fill-opacity="0.04"/>
<rect x="1219.9" y="969.4" width="2.58" height="274.4" fill="#ec3e36" fill-opacity="0.26"/>
<rect x="1088.4" y="1096.6" width="283.6" height="2.49" fill="#ec3e36" fill-opacity="0.26"/>
<rect x="1225.0" y="969.4" width="2.58" height="274.4" fill="#ec3e36" fill-opacity="0.11"/>
<rect x="1088.4" y="1101.6" width="283.6" height="2.49" fill="#ec3e36" fill-opacity="0.11"/>
<rect x="1227.6" y="969.4" width="2.58" height="274.4" fill="#ffffff" fill-opacity="0.12"/>
<rect x="1088.4" y="1104.1" width="283.6" height="2.49" fill="#ffffff" fill-opacity="0.12"/>
<rect x="1230.2" y="969.4" width="2.58" height="274.4" fill="#ec3e36" fill-opacity="0.04"/>
<rect x="1088.4" y="1106.6" width="283.6" height="2.49" fill="#ec3e36" fill-opacity="0.04"/>
<rect x="1232.8" y="969.4" width="2.58" height="274.4" fill="#ec3e36" fill-opacity="0.08"/>
<rect x="1088.4" y="1109.1" width="283.6" height="2.49" fill="#ec3e36" fill-opacity="0.08"/>
<rect x="1235.4" y="969.4" width="2.58" height="274.4" fill="#ec3e36" fill-opacity="0.22"/>
<rect x="1088.4" y="1111.6" width="283.6" height="2.49" fill="#ec3e36" fill-opacity="0.22"/>
<rect x="1237.9" y="969.4" width="2.58" height="274.4" fill="#ffffff" fill-opacity="0.08"/>
<rect x="1088.4" y="1114.1" width="283.6" height="2.49" fill="#ffffff" fill-opacity="0.08"/>
<rect x="1240.5" y="969.4" width="2.58" height="274.4" fill="#ec3e36" fill-opacity="0.07"/>
<rect x="1088.4" y="1116.6" width="283.6" height="2.49" fill="#ec3e36" fill-opacity="0.07"/>
<rect x="1243.1" y="969.4" width="2.58" height="274.4" fill="#ec3e36" fill-opacity="0.04"/>
<rect x="1088.4" y="1119.1" width="283.6" height="2.49" fill="#ec3e36" fill-opacity="0.04"/>
<rect x="1245.7" y="969.4" width="2.58" height="274.4" fill="#ffffff" fill-opacity="0.12"/>
<rect x="1088.4" y="1121.6" width="283.6" height="2.49" fill="#ffffff" fill-opacity="0.12"/>
<rect x="1250.8" y="969.4" width="2.58" height="274.4" fill="#ffffff" fill-opacity="0.03"/>
<rect x="1088.4" y="1126.6" width="283.6" height="2.49" fill="#ffffff" fill-opacity="0.03"/>
<rect x="1253.4" y="969.4" width="2.58" height="274.4" fill="#ffffff" fill-opacity="0.28"/>
<rect x="1088.4" y="1129.1" width="283.6" height="2.49" fill="#ffffff" fill-opacity="0.28"/>
<rect x="1256.0" y="969.4" width="2.58" height="274.4" fill="#ec3e36" fill-opacity="0.07"/>
<rect x="1088.4" y="1131.5" width="283.6" height="2.49" fill="#ec3e36" fill-opacity="0.07"/>
<rect x="1258.6" y="969.4" width="2.58" height="274.4" fill="#ec3e36" fill-opacity="0.06"/>
<rect x="1088.4" y="1134.0" width="283.6" height="2.49" fill="#ec3e36" fill-opacity="0.06"/>
<rect x="1261.1" y="969.4" width="2.58" height="274.4" fill="#ffffff" fill-opacity="0.05"/>
<rect x="1088.4" y="1136.5" width="283.6" height="2.49" fill="#ffffff" fill-opacity="0.05"/>
<rect x="1263.7" y="969.4" width="2.58" height="274.4" fill="#ffffff" fill-opacity="0.16"/>
<rect x="1088.4" y="1139.0" width="283.6" height="2.49" fill="#ffffff" fill-opacity="0.16"/>
<rect x="1266.3" y="969.4" width="2.58" height="274.4" fill="#ec3e36" fill-opacity="0.18"/>
<rect x="1088.4" y="1141.5" width="283.6" height="2.49" fill="#ec3e36" fill-opacity="0.18"/>
<rect x="1268.9" y="969.4" width="2.58" height="274.4" fill="#ec3e36" fill-opacity="0.03"/>
<rect x="1088.4" y="1144.0" width="283.6" height="2.49" fill="#ec3e36" fill-opacity="0.03"/>
<rect x="1271.5" y="969.4" width="2.58" height="274.4" fill="#ec3e36" fill-opacity="0.12"/>
<rect x="1088.4" y="1146.5" width="283.6" height="2.49" fill="#ec3e36" fill-opacity="0.12"/>
<rect x="1274.0" y="969.4" width="2.58" height="274.4" fill="#ec3e36" fill-opacity="0.17"/>
<rect x="1088.4" y="1149.0" width="283.6" height="2.49" fill="#ec3e36" fill-opacity="0.17"/>
<rect x="1276.6" y="969.4" width="2.58" height="274.4" fill="#ffffff" fill-opacity="0.06"/>
<rect x="1088.4" y="1151.5" width="283.6" height="2.49" fill="#ffffff" fill-opacity="0.06"/>
<rect x="1279.2" y="969.4" width="2.58" height="274.4" fill="#ec3e36" fill-opacity="0.10"/>
<rect x="1088.4" y="1154.0" width="283.6" height="2.49" fill="#ec3e36" fill-opacity="0.10"/>
<rect x="1292.1" y="969.4" width="2.58" height="274.4" fill="#ec3e36" fill-opacity="0.13"/>
<rect x="1088.4" y="1166.5" width="283.6" height="2.49" fill="#ec3e36" fill-opacity="0.13"/>
<rect x="1299.8" y="969.4" width="2.58" height="274.4" fill="#ffffff" fill-opacity="0.03"/>
<rect x="1088.4" y="1174.0" width="283.6" height="2.49" fill="#ffffff" fill-opacity="0.03"/>
<rect x="1302.4" y="969.4" width="2.58" height="274.4" fill="#ec3e36" fill-opacity="0.04"/>
<rect x="1088.4" y="1176.4" width="283.6" height="2.49" fill="#ec3e36" fill-opacity="0.04"/>
<rect x="1305.0" y="969.4" width="2.58" height="274.4" fill="#ffffff" fill-opacity="0.11"/>
<rect x="1088.4" y="1178.9" width="283.6" height="2.49" fill="#ffffff" fill-opacity="0.11"/>
<rect x="1307.5" y="969.4" width="2.58" height="274.4" fill="#ffffff" fill-opacity="0.06"/>
<rect x="1088.4" y="1181.4" width="283.6" height="2.49" fill="#ffffff" fill-opacity="0.06"/>
<rect x="1312.7" y="969.4" width="2.58" height="274.4" fill="#ffffff" fill-opacity="0.07"/>
<rect x="1088.4" y="1186.4" width="283.6" height="2.49" fill="#ffffff" fill-opacity="0.07"/>
<rect x="1317.9" y="969.4" width="2.58" height="274.4" fill="#ffffff" fill-opacity="0.07"/>
<rect x="1088.4" y="1191.4" width="283.6" height="2.49" fill="#ffffff" fill-opacity="0.07"/>
<rect x="1320.4" y="969.4" width="2.58" height="274.4" fill="#ec3e36" fill-opacity="0.24"/>
<rect x="1088.4" y="1193.9" width="283.6" height="2.49" fill="#ec3e36" fill-opacity="0.24"/>
<rect x="1323.0" y="969.4" width="2.58" height="274.4" fill="#ec3e36" fill-opacity="0.16"/>
<rect x="1088.4" y="1196.4" width="283.6" height="2.49" fill="#ec3e36" fill-opacity="0.16"/>
<rect x="1325.6" y="969.4" width="2.58" height="274.4" fill="#ec3e36" fill-opacity="0.05"/>
<rect x="1088.4" y="1198.9" width="283.6" height="2.49" fill="#ec3e36" fill-opacity="0.05"/>
<rect x="1330.7" y="969.4" width="2.58" height="274.4" fill="#ec3e36" fill-opacity="0.26"/>
<rect x="1088.4" y="1203.9" width="283.6" height="2.49" fill="#ec3e36" fill-opacity="0.26"/>
<rect x="1333.3" y="969.4" width="2.58" height="274.4" fill="#ec3e36" fill-opacity="0.04"/>
<rect x="1088.4" y="1206.4" width="283.6" height="2.49" fill="#ec3e36" fill-opacity="0.04"/>
<rect x="1338.5" y="969.4" width="2.58" height="274.4" fill="#ec3e36" fill-opacity="0.04"/>
<rect x="1088.4" y="1211.4" width="283.6" height="2.49" fill="#ec3e36" fill-opacity="0.04"/>
<rect x="1341.1" y="969.4" width="2.58" height="274.4" fill="#ec3e36" fill-opacity="0.04"/>
<rect x="1088.4" y="1213.9" width="283.6" height="2.49" fill="#ec3e36" fill-opacity="0.04"/>
<rect x="1343.6" y="969.4" width="2.58" height="274.4" fill="#ec3e36" fill-opacity="0.17"/>
<rect x="1088.4" y="1216.4" width="283.6" height="2.49" fill="#ec3e36" fill-opacity="0.17"/>
<rect x="1348.8" y="969.4" width="2.58" height="274.4" fill="#ec3e36" fill-opacity="0.25"/>
<rect x="1088.4" y="1221.3" width="283.6" height="2.49" fill="#ec3e36" fill-opacity="0.25"/>
<rect x="1351.4" y="969.4" width="2.58" height="274.4" fill="#ffffff" fill-opacity="0.11"/>
<rect x="1088.4" y="1223.8" width="283.6" height="2.49" fill="#ffffff" fill-opacity="0.11"/>
<rect x="1354.0" y="969.4" width="2.58" height="274.4" fill="#ec3e36" fill-opacity="0.08"/>
<rect x="1088.4" y="1226.3" width="283.6" height="2.49" fill="#ec3e36" fill-opacity="0.08"/>
<rect x="1356.5" y="969.4" width="2.58" height="274.4" fill="#ffffff" fill-opacity="0.12"/>
<rect x="1088.4" y="1228.8" width="283.6" height="2.49" fill="#ffffff" fill-opacity="0.12"/>
<rect x="1359.1" y="969.4" width="2.58" height="274.4" fill="#ec3e36" fill-opacity="0.22"/>
<rect x="1088.4" y="1231.3" width="283.6" height="2.49" fill="#ec3e36" fill-opacity="0.22"/>
<rect x="1361.7" y="969.4" width="2.58" height="274.4" fill="#ffffff" fill-opacity="0.04"/>
<rect x="1088.4" y="1233.8" width="283.6" height="2.49" fill="#ffffff" fill-opacity="0.04"/>
<rect x="1366.8" y="969.4" width="2.58" height="274.4" fill="#ec3e36" fill-opacity="0.11"/>
<rect x="1088.4" y="1238.8" width="283.6" height="2.49" fill="#ec3e36" fill-opacity="0.11"/>
<rect x="1369.4" y="969.4" width="2.58" height="274.4" fill="#ec3e36" fill-opacity="0.15"/>
<rect x="1088.4" y="1241.3" width="283.6" height="2.49" fill="#ec3e36" fill-opacity="0.15"/>
<rect x="1157.9" y="969.4" width="5" height="274.4" fill="#ffffff" fill-opacity="0.35"/>
<rect x="1088.4" y="1036.6" width="283.6" height="5" fill="#ffffff" fill-opacity="0.35"/>
<rect x="1221.7" y="969.4" width="5" height="274.4" fill="#ffffff" fill-opacity="0.35"/>
<rect x="1088.4" y="1098.4" width="283.6" height="5" fill="#ffffff" fill-opacity="0.35"/>
<rect x="1088.4" y="1037.1" width="283.6" height="6" fill="#ffffff" fill-opacity="0.4"/>
<defs><pattern id="sp1088_0" width="28.360" height="28.360" patternUnits="userSpaceOnUse" x="1088.40" y="969.40"><rect x="12.89" y="2.58" width="2.58" height="2.58" fill="#fff" fill-opacity="0.47"/><rect x="15.47" y="2.58" width="2.58" height="2.58" fill="#fff" fill-opacity="0.48"/><rect x="20.63" y="2.58" width="2.58" height="2.58" fill="#fff" fill-opacity="0.50"/><rect x="10.31" y="5.16" width="2.58" height="2.58" fill="#fff" fill-opacity="0.38"/><rect x="7.73" y="7.73" width="2.58" height="2.58" fill="#fff" fill-opacity="0.45"/><rect x="18.05" y="7.73" width="2.58" height="2.58" fill="#fff" fill-opacity="0.80"/><rect x="10.31" y="10.31" width="2.58" height="2.58" fill="#fff" fill-opacity="0.65"/><rect x="15.47" y="10.31" width="2.58" height="2.58" fill="#fff" fill-opacity="0.42"/><rect x="25.78" y="10.31" width="2.58" height="2.58" fill="#fff" fill-opacity="0.36"/><rect x="7.73" y="12.89" width="2.58" height="2.58" fill="#fff" fill-opacity="0.45"/><rect x="15.47" y="12.89" width="2.58" height="2.58" fill="#fff" fill-opacity="0.77"/><rect x="0.00" y="15.47" width="2.58" height="2.58" fill="#fff" fill-opacity="0.51"/><rect x="5.16" y="15.47" width="2.58" height="2.58" fill="#fff" fill-opacity="0.74"/><rect x="10.31" y="15.47" width="2.58" height="2.58" fill="#fff" fill-opacity="0.38"/><rect x="23.20" y="15.47" width="2.58" height="2.58" fill="#fff" fill-opacity="0.56"/><rect x="25.78" y="15.47" width="2.58" height="2.58" fill="#fff" fill-opacity="0.67"/><rect x="0.00" y="18.05" width="2.58" height="2.58" fill="#fff" fill-opacity="0.44"/><rect x="15.47" y="18.05" width="2.58" height="2.58" fill="#fff" fill-opacity="0.70"/><rect x="18.05" y="18.05" width="2.58" height="2.58" fill="#fff" fill-opacity="0.48"/><rect x="23.20" y="18.05" width="2.58" height="2.58" fill="#fff" fill-opacity="0.40"/><rect x="7.73" y="20.63" width="2.58" height="2.58" fill="#fff" fill-opacity="0.61"/><rect x="15.47" y="20.63" width="2.58" height="2.58" fill="#fff" fill-opacity="0.80"/><rect x="10.31" y="23.20" width="2.58" height="2.58" fill="#fff" fill-opacity="0.59"/><rect x="12.89" y="23.20" width="2.58" height="2.58" fill="#fff" fill-opacity="0.77"/><rect x="18.05" y="23.20" width="2.58" height="2.58" fill="#fff" fill-opacity="0.72"/><rect x="23.20" y="23.20" width="2.58" height="2.58" fill="#fff" fill-opacity="0.61"/><rect x="12.89" y="25.78" width="2.58" height="2.58" fill="#fff" fill-opacity="0.41"/></pattern><pattern id="sp1088_1" width="33.516" height="33.516" patternUnits="userSpaceOnUse" x="1088.40" y="969.40"><rect x="18.05" y="0.00" width="2.58" height="2.58" fill="#fff" fill-opacity="0.39"/><rect x="20.63" y="0.00" width="2.58" height="2.58" fill="#fff" fill-opacity="0.78"/><rect x="30.94" y="0.00" width="2.58" height="2.58" fill="#fff" fill-opacity="0.58"/><rect x="10.31" y="2.58" width="2.58" height="2.58" fill="#fff" fill-opacity="0.66"/><rect x="2.58" y="7.73" width="2.58" height="2.58" fill="#fff" fill-opacity="0.84"/><rect x="7.73" y="7.73" width="2.58" height="2.58" fill="#fff" fill-opacity="0.47"/><rect x="15.47" y="7.73" width="2.58" height="2.58" fill="#fff" fill-opacity="0.83"/><rect x="30.94" y="7.73" width="2.58" height="2.58" fill="#fff" fill-opacity="0.39"/><rect x="20.63" y="10.31" width="2.58" height="2.58" fill="#fff" fill-opacity="0.78"/><rect x="10.31" y="12.89" width="2.58" height="2.58" fill="#fff" fill-opacity="0.74"/><rect x="28.36" y="12.89" width="2.58" height="2.58" fill="#fff" fill-opacity="0.51"/><rect x="0.00" y="15.47" width="2.58" height="2.58" fill="#fff" fill-opacity="0.59"/><rect x="5.16" y="15.47" width="2.58" height="2.58" fill="#fff" fill-opacity="0.50"/><rect x="15.47" y="15.47" width="2.58" height="2.58" fill="#fff" fill-opacity="0.73"/><rect x="20.63" y="15.47" width="2.58" height="2.58" fill="#fff" fill-opacity="0.59"/><rect x="30.94" y="15.47" width="2.58" height="2.58" fill="#fff" fill-opacity="0.80"/><rect x="23.20" y="18.05" width="2.58" height="2.58" fill="#fff" fill-opacity="0.48"/><rect x="28.36" y="18.05" width="2.58" height="2.58" fill="#fff" fill-opacity="0.71"/><rect x="10.31" y="23.20" width="2.58" height="2.58" fill="#fff" fill-opacity="0.62"/><rect x="12.89" y="23.20" width="2.58" height="2.58" fill="#fff" fill-opacity="0.44"/><rect x="18.05" y="23.20" width="2.58" height="2.58" fill="#fff" fill-opacity="0.54"/><rect x="25.78" y="23.20" width="2.58" height="2.58" fill="#fff" fill-opacity="0.52"/><rect x="5.16" y="25.78" width="2.58" height="2.58" fill="#fff" fill-opacity="0.68"/><rect x="15.47" y="25.78" width="2.58" height="2.58" fill="#fff" fill-opacity="0.39"/><rect x="25.78" y="25.78" width="2.58" height="2.58" fill="#fff" fill-opacity="0.62"/><rect x="28.36" y="25.78" width="2.58" height="2.58" fill="#fff" fill-opacity="0.72"/><rect x="2.58" y="28.36" width="2.58" height="2.58" fill="#fff" fill-opacity="0.60"/><rect x="5.16" y="28.36" width="2.58" height="2.58" fill="#fff" fill-opacity="0.74"/><rect x="0.00" y="30.94" width="2.58" height="2.58" fill="#fff" fill-opacity="0.72"/><rect x="10.31" y="30.94" width="2.58" height="2.58" fill="#fff" fill-opacity="0.46"/><rect x="12.89" y="30.94" width="2.58" height="2.58" fill="#fff" fill-opacity="0.72"/></pattern></defs>
<rect x="1088.4" y="969.4" width="283.6" height="274.4" fill="url(#sp1088_0)" opacity="0.50"/>
<rect x="1088.4" y="969.4" width="283.6" height="274.4" fill="url(#sp1088_1)" opacity="0.50"/>
<line x1="1088.4" y1="969.4" x2="1372.0" y2="1243.8" stroke="#d42a22" stroke-width="1.7" stroke-opacity="0.35"/>
</g>
<text x="1384.0" y="969.8" font-size="23.9">Spearman&#8217;s <tspan font-style="italic">r</tspan></text>
<rect x="1390.4" y="978.8" width="129.1" height="13.3" fill="url(#cbarf)" stroke="#000" stroke-width="2.2"/>
<line x1="1390.2" y1="992.1" x2="1390.2" y2="995.1" stroke="#000" stroke-width="1.6"/>
<text x="1398.1" y="1016.9" font-size="22.8" text-anchor="middle">0.86</text>
<line x1="1446.9" y1="992.1" x2="1446.9" y2="995.1" stroke="#000" stroke-width="1.6"/>
<text x="1453.1" y="1016.9" font-size="22.8" text-anchor="middle">0.92</text>
<line x1="1503.6" y1="992.1" x2="1503.6" y2="995.1" stroke="#000" stroke-width="1.6"/>
<text x="1507.9" y="1016.9" font-size="22.8" text-anchor="middle">0.98</text>
<rect x="1383.7" y="1040.6" width="14.0" height="14.0" fill="#F5A02F" stroke="#000" stroke-width="2"/>
<text x="1407.6" y="1055.6" font-size="23.5">Head</text>
<rect x="1383.7" y="1063.1" width="14.0" height="14.0" fill="#3A8044" stroke="#000" stroke-width="2"/>
<text x="1407.6" y="1078.1" font-size="23.5">Forelimb</text>
<rect x="1383.7" y="1085.6" width="14.0" height="14.0" fill="#C8322E" stroke="#000" stroke-width="2"/>
<text x="1407.6" y="1100.6" font-size="23.5">Trunk</text>
<rect x="1383.7" y="1108.1" width="14.0" height="14.0" fill="#3A84B3" stroke="#000" stroke-width="2"/>
<text x="1407.6" y="1123.1" font-size="23.5">Hindlimb</text>
<g>
<ellipse cx="1230.3" cy="1372.4" rx="119.5" ry="72.4" transform="rotate(35.0 1230.3 1372.4)" fill="#5a7ca8" fill-opacity="0.25" stroke="#2C86BC" stroke-width="2.4"/>
<ellipse cx="1238.2" cy="1386.2" rx="139.4" ry="76.8" transform="rotate(26.7 1238.2 1386.2)" fill="#c2502f" fill-opacity="0.25" stroke="#CF2A30" stroke-width="2.4"/>
<ellipse cx="1223.7" cy="1378.4" rx="105.1" ry="50.3" transform="rotate(20.0 1223.7 1378.4)" fill="#53703a" fill-opacity="0.25" stroke="#2E7D3E" stroke-width="2.4"/>
<ellipse cx="1273.0" cy="1416.3" rx="120.2" ry="23.9" transform="rotate(-57.2 1273.0 1416.3)" fill="#f59b4a" fill-opacity="0.25" stroke="#F39B26" stroke-width="2.4"/>
<circle cx="1199.8" cy="1331.7" r="4.6" fill="#3A8046"/>
<circle cx="1197.8" cy="1336.8" r="4.6" fill="#3A8046"/>
<circle cx="1209.9" cy="1365.0" r="4.6" fill="#3A8046"/>
<circle cx="1213.9" cy="1367.1" r="4.6" fill="#3A8046"/>
<circle cx="1201.8" cy="1377.2" r="4.6" fill="#3A8046"/>
<circle cx="1215.9" cy="1387.3" r="4.6" fill="#3A8046"/>
<circle cx="1222.0" cy="1389.3" r="4.6" fill="#3A8046"/>
<circle cx="1226.0" cy="1387.3" r="4.6" fill="#3A8046"/>
<circle cx="1230.1" cy="1389.3" r="4.6" fill="#3A8046"/>
<circle cx="1238.2" cy="1362.0" r="4.6" fill="#3A8046"/>
<circle cx="1240.2" cy="1363.0" r="4.6" fill="#3A8046"/>
<circle cx="1191.7" cy="1359.0" r="4.6" fill="#3A8046"/>
<circle cx="1185.6" cy="1359.0" r="4.6" fill="#3A8046"/>
<circle cx="1181.6" cy="1391.3" r="4.6" fill="#3A8046"/>
<circle cx="1268.5" cy="1379.2" r="4.6" fill="#3A8046"/>
<circle cx="1266.4" cy="1397.4" r="4.6" fill="#3A8046"/>
<circle cx="1270.5" cy="1427.7" r="4.6" fill="#3A8046"/>
<circle cx="1272.5" cy="1429.7" r="4.6" fill="#3A8046"/>
<circle cx="1298.8" cy="1381.2" r="4.6" fill="#3A8046"/>
<circle cx="1213.9" cy="1335.8" r="4.6" fill="#D0343A"/>
<circle cx="1238.2" cy="1347.9" r="4.6" fill="#D0343A"/>
<circle cx="1220.0" cy="1363.0" r="4.6" fill="#D0343A"/>
<circle cx="1222.0" cy="1365.0" r="4.6" fill="#D0343A"/>
<circle cx="1187.7" cy="1370.1" r="4.6" fill="#D0343A"/>
<circle cx="1211.9" cy="1377.2" r="4.6" fill="#D0343A"/>
<circle cx="1175.5" cy="1393.3" r="4.6" fill="#D0343A"/>
<circle cx="1185.6" cy="1387.3" r="4.6" fill="#D0343A"/>
<circle cx="1258.4" cy="1388.3" r="4.6" fill="#D0343A"/>
<circle cx="1262.4" cy="1387.3" r="4.6" fill="#D0343A"/>
<circle cx="1270.5" cy="1381.2" r="4.6" fill="#D0343A"/>
<circle cx="1274.5" cy="1383.2" r="4.6" fill="#D0343A"/>
<circle cx="1280.6" cy="1387.3" r="4.6" fill="#D0343A"/>
<circle cx="1284.6" cy="1387.3" r="4.6" fill="#D0343A"/>
<circle cx="1290.7" cy="1389.3" r="4.6" fill="#D0343A"/>
<circle cx="1292.7" cy="1392.3" r="4.6" fill="#D0343A"/>
<circle cx="1256.3" cy="1405.4" r="4.6" fill="#D0343A"/>
<circle cx="1258.4" cy="1425.6" r="4.6" fill="#D0343A"/>
<circle cx="1262.4" cy="1426.7" r="4.6" fill="#D0343A"/>
<circle cx="1266.4" cy="1427.7" r="4.6" fill="#D0343A"/>
<circle cx="1274.5" cy="1405.4" r="4.6" fill="#F39C33"/>
<circle cx="1278.6" cy="1411.5" r="4.6" fill="#F39C33"/>
<circle cx="1260.4" cy="1433.7" r="4.6" fill="#F39C33"/>
<circle cx="1183.6" cy="1333.7" r="4.6" fill="#2F84B8"/>
<circle cx="1187.7" cy="1334.7" r="4.6" fill="#2F84B8"/>
<circle cx="1191.7" cy="1336.8" r="4.6" fill="#2F84B8"/>
<circle cx="1195.7" cy="1338.8" r="4.6" fill="#2F84B8"/>
<circle cx="1199.8" cy="1337.8" r="4.6" fill="#2F84B8"/>
<circle cx="1203.8" cy="1336.8" r="4.6" fill="#2F84B8"/>
<circle cx="1222.0" cy="1336.8" r="4.6" fill="#2F84B8"/>
<circle cx="1226.0" cy="1335.8" r="4.6" fill="#2F84B8"/>
<circle cx="1230.1" cy="1334.7" r="4.6" fill="#2F84B8"/>
<circle cx="1234.1" cy="1335.8" r="4.6" fill="#2F84B8"/>
<circle cx="1213.9" cy="1344.8" r="4.6" fill="#2F84B8"/>
<circle cx="1218.0" cy="1346.9" r="4.6" fill="#2F84B8"/>
<circle cx="1222.0" cy="1348.9" r="4.6" fill="#2F84B8"/>
<circle cx="1224.0" cy="1350.9" r="4.6" fill="#2F84B8"/>
<circle cx="1228.1" cy="1348.9" r="4.6" fill="#2F84B8"/>
<circle cx="1234.1" cy="1346.9" r="4.6" fill="#2F84B8"/>
<circle cx="1262.4" cy="1346.9" r="4.6" fill="#2F84B8"/>
<circle cx="1177.6" cy="1354.9" r="4.6" fill="#2F84B8"/>
<circle cx="1181.6" cy="1352.9" r="4.6" fill="#2F84B8"/>
<circle cx="1185.6" cy="1351.9" r="4.6" fill="#2F84B8"/>
<circle cx="1195.7" cy="1361.0" r="4.6" fill="#2F84B8"/>
<circle cx="1197.8" cy="1363.0" r="4.6" fill="#2F84B8"/>
<circle cx="1191.7" cy="1372.1" r="4.6" fill="#2F84B8"/>
<circle cx="1197.8" cy="1370.1" r="4.6" fill="#2F84B8"/>
<circle cx="1201.8" cy="1369.1" r="4.6" fill="#2F84B8"/>
<circle cx="1220.0" cy="1371.1" r="4.6" fill="#2F84B8"/>
<circle cx="1222.0" cy="1367.1" r="4.6" fill="#2F84B8"/>
<circle cx="1228.1" cy="1361.0" r="4.6" fill="#2F84B8"/>
<circle cx="1230.1" cy="1365.0" r="4.6" fill="#2F84B8"/>
<circle cx="1232.1" cy="1370.1" r="4.6" fill="#2F84B8"/>
<circle cx="1211.9" cy="1379.2" r="4.6" fill="#2F84B8"/>
<circle cx="1209.9" cy="1383.2" r="4.6" fill="#2F84B8"/>
<circle cx="1205.8" cy="1387.3" r="4.6" fill="#2F84B8"/>
<circle cx="1203.8" cy="1389.3" r="4.6" fill="#2F84B8"/>
<circle cx="1175.5" cy="1389.3" r="4.6" fill="#2F84B8"/>
<circle cx="1177.6" cy="1391.3" r="4.6" fill="#2F84B8"/>
<circle cx="1189.7" cy="1391.3" r="4.6" fill="#2F84B8"/>
<circle cx="1193.7" cy="1395.3" r="4.6" fill="#2F84B8"/>
<circle cx="1196.8" cy="1397.4" r="4.6" fill="#2F84B8"/>
<circle cx="1260.4" cy="1370.1" r="4.6" fill="#2F84B8"/>
<circle cx="1264.4" cy="1369.1" r="4.6" fill="#2F84B8"/>
<circle cx="1246.2" cy="1397.4" r="4.6" fill="#2F84B8"/>
<circle cx="1250.3" cy="1399.4" r="4.6" fill="#2F84B8"/>
<circle cx="1254.3" cy="1401.4" r="4.6" fill="#2F84B8"/>
<circle cx="1256.3" cy="1403.4" r="4.6" fill="#2F84B8"/>
<circle cx="1268.5" cy="1387.3" r="4.6" fill="#2F84B8"/>
<circle cx="1272.5" cy="1389.3" r="4.6" fill="#2F84B8"/>
<circle cx="1274.5" cy="1391.3" r="4.6" fill="#2F84B8"/>
<circle cx="1270.5" cy="1401.4" r="4.6" fill="#2F84B8"/>
<circle cx="1272.5" cy="1403.4" r="4.6" fill="#2F84B8"/>
<circle cx="1298.8" cy="1381.2" r="4.6" fill="#2F84B8"/>
<circle cx="1300.8" cy="1385.2" r="4.6" fill="#2F84B8"/>
<circle cx="1296.7" cy="1387.3" r="4.6" fill="#2F84B8"/>
<circle cx="1242.2" cy="1419.6" r="4.6" fill="#2F84B8"/>
<circle cx="1246.2" cy="1423.6" r="4.6" fill="#2F84B8"/>
<circle cx="1248.3" cy="1429.7" r="4.6" fill="#2F84B8"/>
<circle cx="1260.4" cy="1429.7" r="4.6" fill="#2F84B8"/>
<circle cx="1262.4" cy="1432.7" r="4.6" fill="#2F84B8"/>
</g>
<rect x="1101.8" y="1275.2" width="273.1" height="249.4" fill="none" stroke="#000" stroke-width="2.3"/>
<line x1="1105.7" y1="1524.6" x2="1105.7" y2="1529.6" stroke="#000" stroke-width="2"/>
<text x="1105.7" y="1554.6" font-size="23.0" text-anchor="middle">&#8722;40</text>
<line x1="1168.7" y1="1524.6" x2="1168.7" y2="1529.6" stroke="#000" stroke-width="2"/>
<text x="1168.7" y="1554.6" font-size="23.0" text-anchor="middle">&#8722;20</text>
<line x1="1231.7" y1="1524.6" x2="1231.7" y2="1529.6" stroke="#000" stroke-width="2"/>
<text x="1231.7" y="1554.6" font-size="23.0" text-anchor="middle">0</text>
<line x1="1294.7" y1="1524.6" x2="1294.7" y2="1529.6" stroke="#000" stroke-width="2"/>
<text x="1294.7" y="1554.6" font-size="23.0" text-anchor="middle">20</text>
<line x1="1357.7" y1="1524.6" x2="1357.7" y2="1529.6" stroke="#000" stroke-width="2"/>
<text x="1357.7" y="1554.6" font-size="23.0" text-anchor="middle">40</text>
<line x1="1096.8" y1="1277.0" x2="1101.8" y2="1277.0" stroke="#000" stroke-width="2"/>
<text x="1092.3" y="1285.2" font-size="23.0" text-anchor="end">60</text>
<line x1="1096.8" y1="1310.9" x2="1101.8" y2="1310.9" stroke="#000" stroke-width="2"/>
<text x="1092.3" y="1319.2" font-size="23.0" text-anchor="end">40</text>
<line x1="1096.8" y1="1344.8" x2="1101.8" y2="1344.8" stroke="#000" stroke-width="2"/>
<text x="1092.3" y="1353.1" font-size="23.0" text-anchor="end">20</text>
<line x1="1096.8" y1="1378.8" x2="1101.8" y2="1378.8" stroke="#000" stroke-width="2"/>
<text x="1092.3" y="1387.1" font-size="23.0" text-anchor="end">0</text>
<line x1="1096.8" y1="1412.8" x2="1101.8" y2="1412.8" stroke="#000" stroke-width="2"/>
<text x="1092.3" y="1421.0" font-size="23.0" text-anchor="end">&#8722;20</text>
<line x1="1096.8" y1="1446.7" x2="1101.8" y2="1446.7" stroke="#000" stroke-width="2"/>
<text x="1092.3" y="1455.0" font-size="23.0" text-anchor="end">&#8722;40</text>
<line x1="1096.8" y1="1480.6" x2="1101.8" y2="1480.6" stroke="#000" stroke-width="2"/>
<text x="1092.3" y="1488.9" font-size="23.0" text-anchor="end">&#8722;60</text>
<line x1="1096.8" y1="1514.6" x2="1101.8" y2="1514.6" stroke="#000" stroke-width="2"/>
<text x="1092.3" y="1522.9" font-size="23.0" text-anchor="end">&#8722;80</text>
<text x="1241.7" y="1577.0" font-size="23.5" text-anchor="middle">Dimension 1</text>
<text x="0" y="0" font-size="23.5" text-anchor="middle" transform="translate(1046.0 1388.0) rotate(-90)">Dimension 2</text>
</svg></body></html>
